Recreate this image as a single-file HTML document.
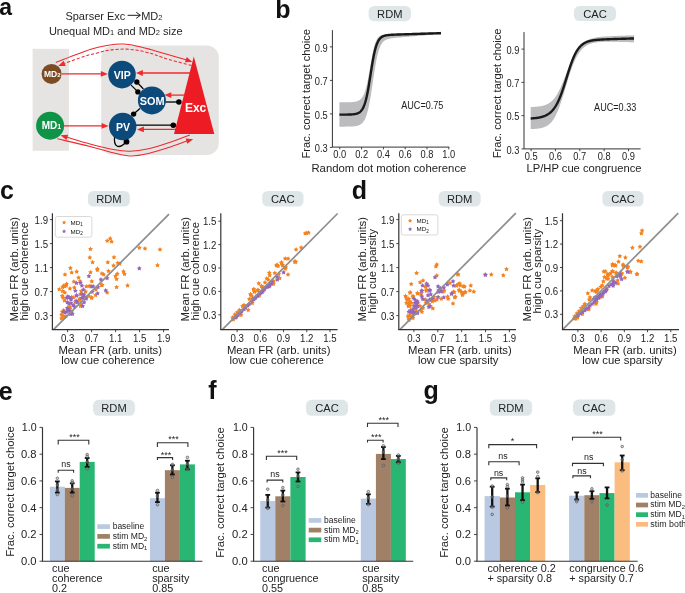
<!DOCTYPE html>
<html><head><meta charset="utf-8"><style>
html,body{margin:0;padding:0;background:#fff;}
svg{display:block;will-change:transform;}
text{font-family:"Liberation Sans",sans-serif;}
</style></head><body>
<svg width="685" height="593" viewBox="0 0 685 593">
<rect width="685" height="593" fill="#fff"/>
<text x="-0.80" y="14.60" font-size="23" text-anchor="start" font-weight="bold" fill="#111" >a</text>
<text x="65.4" y="19.5" font-size="11" fill="#231f20">Sparser Exc</text>
<path d="M127.6,15.3 L140.2,15.3 M136.2,12.2 L140.4,15.3 L136.2,18.4" fill="none" stroke="#231f20" stroke-width="1"/>
<text x="141.2" y="19.5" font-size="11" fill="#231f20">MD<tspan font-size="7.5">2</tspan></text>
<text x="48.9" y="34.9" font-size="11" fill="#231f20">Unequal MD<tspan font-size="7.5">1</tspan> and MD<tspan font-size="7.5">2</tspan> size</text>
<rect x="32.6" y="48.8" width="36.3" height="102" fill="#e5e4e2"/>
<rect x="101.2" y="45.5" width="117.6" height="109.4" rx="12" fill="#e5e4e2"/>
<path d="M55.80,62.40 C61.50,60.23 81.23,52.27 90.00,49.40 C98.77,46.53 102.82,46.08 108.40,45.20 C113.98,44.32 118.63,43.93 123.50,44.10 C128.37,44.27 133.12,45.32 137.60,46.20 C142.08,47.08 145.07,47.93 150.40,49.40 C155.73,50.87 163.50,53.22 169.60,55.00 C175.70,56.78 184.10,59.25 187.00,60.10" fill="none" stroke="#ee2a2e" stroke-width="1.05"/>
<path d="M192.40,62.00 L184.87,62.32 L186.73,57.04 Z" fill="#ee2a2e"/>
<path d="M191.50,65.40 C187.85,64.45 175.43,61.38 169.60,59.70 C163.77,58.02 159.70,56.38 156.50,55.30 C153.30,54.22 153.55,54.03 150.40,53.20 C147.25,52.37 142.08,50.98 137.60,50.30 C133.12,49.62 128.37,49.10 123.50,49.10 C118.63,49.10 112.87,49.62 108.40,50.30 C103.93,50.98 100.60,52.23 96.70,53.20 C92.80,54.17 90.37,54.40 85.00,56.10 C79.63,57.80 67.92,62.18 64.50,63.40" fill="none" stroke="#ee2a2e" stroke-width="1.05" stroke-dasharray="3.2,1.8"/>
<path d="M58.20,65.90 L63.67,60.72 L65.74,65.92 Z" fill="#ee2a2e"/>
<path d="M189.80,134.90 C186.78,136.03 178.60,139.40 171.70,141.70 C164.80,144.00 155.35,147.12 148.40,148.70 C141.45,150.28 135.83,151.05 130.00,151.20 C124.17,151.35 120.07,150.80 113.40,149.60 C106.73,148.40 97.82,146.08 90.00,144.00 C82.18,141.92 70.42,138.25 66.50,137.10" fill="none" stroke="#ee2a2e" stroke-width="1.05"/>
<path d="M60.60,135.20 L68.12,134.68 L66.40,140.01 Z" fill="#ee2a2e"/>
<path d="M57.30,138.80 C62.75,140.07 80.65,144.07 90.00,146.40 C99.35,148.73 106.73,151.22 113.40,152.80 C120.07,154.38 124.17,155.80 130.00,155.90 C135.83,156.00 141.45,154.98 148.40,153.40 C155.35,151.82 165.18,148.50 171.70,146.40 C178.22,144.30 184.87,141.73 187.50,140.80" fill="none" stroke="#ee2a2e" stroke-width="1.05"/>
<path d="M193.20,139.20 L187.22,143.79 L185.70,138.40 Z" fill="#ee2a2e"/>
<line x1="62.00" y1="73.90" x2="101.00" y2="73.90" stroke="#ee2a2e" stroke-width="1.3" />
<path d="M107.80,73.90 L100.80,76.80 L100.80,71.00 Z" fill="#ee2a2e"/>
<line x1="64.00" y1="125.90" x2="102.00" y2="125.90" stroke="#ee2a2e" stroke-width="1.3" />
<path d="M108.60,125.90 L101.60,128.80 L101.60,123.00 Z" fill="#ee2a2e"/>
<line x1="190.00" y1="73.00" x2="141.00" y2="73.00" stroke="#ee2a2e" stroke-width="1.3" />
<path d="M135.90,73.00 L142.90,70.10 L142.90,75.90 Z" fill="#ee2a2e"/>
<line x1="184.00" y1="95.10" x2="169.00" y2="95.10" stroke="#ee2a2e" stroke-width="1.3" />
<path d="M164.30,95.10 L171.30,92.20 L171.30,98.00 Z" fill="#ee2a2e"/>
<line x1="176.00" y1="129.40" x2="142.00" y2="129.40" stroke="#ee2a2e" stroke-width="1.3" />
<path d="M136.90,129.40 L143.90,126.50 L143.90,132.30 Z" fill="#ee2a2e"/>
<path d="M193.8,56.6 L214.3,133.9 L174,133.9 Z" fill="#ed1c24"/>
<line x1="131.10" y1="85.10" x2="137.90" y2="91.90" stroke="#000" stroke-width="1.2" />
<line x1="136.80" y1="82.00" x2="143.40" y2="89.00" stroke="#000" stroke-width="1.2" />
<circle cx="136.8" cy="82" r="2.7" fill="#000"/><circle cx="137.9" cy="91.9" r="2.7" fill="#000"/>
<line x1="165.00" y1="102.00" x2="178.90" y2="102.00" stroke="#000" stroke-width="1.3" />
<circle cx="178.9" cy="102" r="2.8" fill="#000"/>
<line x1="140.00" y1="108.50" x2="133.60" y2="114.10" stroke="#000" stroke-width="1.3" />
<circle cx="133.6" cy="114.1" r="2.7" fill="#000"/>
<line x1="136.00" y1="125.20" x2="173.30" y2="125.20" stroke="#000" stroke-width="1.3" />
<circle cx="173.3" cy="125.2" r="2.8" fill="#000"/>
<path d="M114.6,137 C113.5,146 118,150.5 126.5,141.7" fill="none" stroke="#000" stroke-width="1.3"/>
<circle cx="126.5" cy="141.7" r="2.9" fill="#000"/>
<circle cx="122" cy="74.6" r="13.8" fill="#0d4a7c"/>
<text x="122.20" y="78.98" font-size="10.5" text-anchor="middle" font-weight="bold" fill="#fff" >VIP</text>
<circle cx="151.9" cy="100.4" r="14" fill="#0d4a7c"/>
<text x="152.10" y="104.92" font-size="10.9" text-anchor="middle" font-weight="bold" fill="#fff" >SOM</text>
<circle cx="122.7" cy="126.5" r="13.7" fill="#0d4a7c"/>
<text x="122.90" y="130.88" font-size="10.5" text-anchor="middle" font-weight="bold" fill="#fff" >PV</text>
<text x="195.60" y="112.00" font-size="12" text-anchor="middle" font-weight="bold" fill="#fff" >Exc</text>
<circle cx="51.6" cy="73.9" r="10" fill="#7b4b23"/>
<text x="44" y="76.9" font-size="8.5" font-weight="bold" fill="#fff">MD<tspan font-size="6">2</tspan></text>
<circle cx="50.1" cy="125.7" r="14" fill="#0f9347"/>
<text x="41.7" y="129.3" font-size="10" font-weight="bold" fill="#fff">MD<tspan font-size="7">1</tspan></text>
<text x="275.20" y="17.80" font-size="25" text-anchor="start" font-weight="bold" fill="#111" >b</text>
<rect x="368.60" y="6.00" width="42.40" height="15.20" rx="5.5" fill="#dfe6e8"/>
<text x="389.80" y="18.00" font-size="11.6" text-anchor="middle" fill="#222" textLength="25.4" lengthAdjust="spacingAndGlyphs">RDM</text>
<path d="M339.40,102.31 L339.74,102.31 L340.08,102.31 L340.42,102.31 L340.75,102.31 L341.09,102.31 L341.43,102.31 L341.77,102.31 L342.11,102.31 L342.45,102.31 L342.79,102.30 L343.13,102.30 L343.46,102.30 L343.80,102.30 L344.14,102.30 L344.48,102.29 L344.82,102.29 L345.16,102.29 L345.50,102.29 L345.83,102.28 L346.17,102.28 L346.51,102.27 L346.85,102.27 L347.19,102.26 L347.53,102.26 L347.87,102.25 L348.21,102.24 L348.54,102.24 L348.88,102.23 L349.22,102.22 L349.56,102.21 L349.90,102.19 L350.24,102.18 L350.58,102.16 L350.91,102.15 L351.25,102.13 L351.59,102.11 L351.93,102.09 L352.27,102.06 L352.61,102.03 L352.95,102.00 L353.29,101.97 L353.62,101.93 L353.96,101.89 L354.30,101.84 L354.64,101.79 L354.98,101.74 L355.32,101.68 L355.66,101.61 L355.99,101.53 L356.33,101.45 L356.67,101.35 L357.01,101.25 L357.35,101.13 L357.69,101.01 L358.03,100.87 L358.37,100.71 L358.70,100.54 L359.04,100.35 L359.38,100.15 L359.72,99.92 L360.06,99.66 L360.40,99.38 L360.74,99.07 L361.07,98.73 L361.41,98.36 L361.75,97.95 L362.09,97.49 L362.43,97.00 L362.77,96.45 L363.11,95.85 L363.45,95.20 L363.78,94.48 L364.12,93.70 L364.46,92.86 L364.80,91.93 L365.14,90.94 L365.48,89.86 L365.82,88.70 L366.15,87.45 L366.49,86.11 L366.83,84.69 L367.17,83.18 L367.51,81.58 L367.85,79.90 L368.19,78.15 L368.53,76.33 L368.86,74.44 L369.20,72.51 L369.54,70.53 L369.88,68.53 L370.22,66.52 L370.56,64.50 L370.90,62.51 L371.23,60.55 L371.57,58.63 L371.91,56.77 L372.25,54.97 L372.59,53.26 L372.93,51.63 L373.27,50.08 L373.61,48.64 L373.94,47.29 L374.28,46.03 L374.62,44.87 L374.96,43.81 L375.30,42.83 L375.64,41.94 L375.98,41.12 L376.31,40.39 L376.65,39.72 L376.99,39.12 L377.33,38.58 L377.67,38.10 L378.01,37.66 L378.35,37.27 L378.69,36.93 L379.02,36.61 L379.36,36.34 L379.70,36.09 L380.04,35.86 L380.38,35.67 L380.72,35.49 L381.06,35.33 L381.39,35.19 L381.73,35.06 L382.07,34.95 L382.41,34.85 L382.75,34.76 L383.09,34.67 L383.43,34.60 L383.77,34.53 L384.10,34.47 L384.44,34.42 L384.78,34.37 L385.12,34.32 L385.46,34.28 L385.80,34.24 L386.14,34.21 L386.47,34.17 L386.81,34.14 L387.15,34.11 L387.49,34.09 L387.83,34.06 L388.17,34.04 L388.51,34.01 L388.85,33.99 L389.18,33.97 L389.52,33.95 L389.86,33.93 L390.20,33.92 L390.54,33.90 L390.88,33.88 L391.22,33.86 L391.55,33.85 L391.89,33.83 L392.23,33.82 L392.57,33.80 L392.91,33.78 L393.25,33.77 L393.59,33.75 L393.93,33.74 L394.26,33.72 L394.60,33.71 L394.94,33.70 L395.28,33.68 L395.62,33.67 L395.96,33.65 L396.30,33.64 L396.63,33.63 L396.97,33.61 L397.31,33.60 L397.65,33.58 L397.99,33.57 L398.33,33.56 L398.67,33.54 L399.01,33.53 L399.34,33.51 L399.68,33.50 L400.02,33.49 L400.36,33.47 L400.70,33.46 L401.04,33.45 L401.38,33.43 L401.71,33.42 L402.05,33.40 L402.39,33.39 L402.73,33.38 L403.07,33.36 L403.41,33.35 L403.75,33.34 L404.09,33.32 L404.42,33.31 L404.76,33.30 L405.10,33.28 L405.44,33.27 L405.78,33.25 L406.12,33.24 L406.46,33.23 L406.79,33.21 L407.13,33.20 L407.47,33.19 L407.81,33.17 L408.15,33.16 L408.49,33.15 L408.83,33.13 L409.17,33.12 L409.50,33.10 L409.84,33.09 L410.18,33.08 L410.52,33.06 L410.86,33.05 L411.20,33.04 L411.54,33.02 L411.87,33.01 L412.21,33.00 L412.55,32.98 L412.89,32.97 L413.23,32.95 L413.57,32.94 L413.91,32.93 L414.25,32.91 L414.58,32.90 L414.92,32.89 L415.26,32.87 L415.60,32.86 L415.94,32.85 L416.28,32.83 L416.62,32.82 L416.95,32.81 L417.29,32.79 L417.63,32.78 L417.97,32.76 L418.31,32.75 L418.65,32.74 L418.99,32.72 L419.33,32.71 L419.66,32.70 L420.00,32.68 L420.34,32.67 L420.68,32.66 L421.02,32.64 L421.36,32.63 L421.70,32.61 L422.03,32.60 L422.37,32.59 L422.71,32.57 L423.05,32.56 L423.39,32.55 L423.73,32.53 L424.07,32.52 L424.41,32.51 L424.74,32.49 L425.08,32.48 L425.42,32.46 L425.76,32.45 L426.10,32.44 L426.44,32.42 L426.78,32.41 L427.11,32.40 L427.45,32.38 L427.79,32.37 L428.13,32.36 L428.47,32.34 L428.81,32.33 L429.15,32.31 L429.49,32.30 L429.82,32.29 L430.16,32.27 L430.50,32.26 L430.84,32.25 L431.18,32.23 L431.52,32.22 L431.86,32.21 L432.19,32.19 L432.53,32.18 L432.87,32.17 L433.21,32.15 L433.55,32.14 L433.89,32.12 L434.23,32.11 L434.57,32.10 L434.90,32.08 L435.24,32.07 L435.58,32.06 L435.92,32.04 L436.26,32.03 L436.60,32.02 L436.94,32.00 L437.27,31.99 L437.61,31.97 L437.95,31.96 L438.29,31.95 L438.63,31.93 L438.97,31.92 L439.31,31.91 L439.65,31.89 L439.98,31.88 L440.32,31.87 L440.66,31.85 L441.00,31.84 L441.00,34.04 L440.66,34.06 L440.32,34.09 L439.98,34.12 L439.65,34.15 L439.31,34.18 L438.97,34.20 L438.63,34.23 L438.29,34.26 L437.95,34.29 L437.61,34.31 L437.27,34.34 L436.94,34.37 L436.60,34.40 L436.26,34.43 L435.92,34.45 L435.58,34.48 L435.24,34.51 L434.90,34.54 L434.57,34.56 L434.23,34.59 L433.89,34.62 L433.55,34.65 L433.21,34.68 L432.87,34.70 L432.53,34.73 L432.19,34.76 L431.86,34.79 L431.52,34.81 L431.18,34.84 L430.84,34.87 L430.50,34.90 L430.16,34.93 L429.82,34.95 L429.49,34.98 L429.15,35.01 L428.81,35.04 L428.47,35.06 L428.13,35.09 L427.79,35.12 L427.45,35.15 L427.11,35.18 L426.78,35.20 L426.44,35.23 L426.10,35.26 L425.76,35.29 L425.42,35.31 L425.08,35.34 L424.74,35.37 L424.41,35.40 L424.07,35.43 L423.73,35.45 L423.39,35.48 L423.05,35.51 L422.71,35.54 L422.37,35.56 L422.03,35.59 L421.70,35.62 L421.36,35.65 L421.02,35.68 L420.68,35.70 L420.34,35.73 L420.00,35.76 L419.66,35.79 L419.33,35.81 L418.99,35.84 L418.65,35.87 L418.31,35.90 L417.97,35.93 L417.63,35.95 L417.29,35.98 L416.95,36.01 L416.62,36.04 L416.28,36.06 L415.94,36.09 L415.60,36.12 L415.26,36.15 L414.92,36.18 L414.58,36.20 L414.25,36.23 L413.91,36.26 L413.57,36.29 L413.23,36.31 L412.89,36.34 L412.55,36.37 L412.21,36.40 L411.87,36.43 L411.54,36.45 L411.20,36.48 L410.86,36.51 L410.52,36.54 L410.18,36.56 L409.84,36.59 L409.50,36.62 L409.17,36.65 L408.83,36.68 L408.49,36.70 L408.15,36.73 L407.81,36.76 L407.47,36.79 L407.13,36.82 L406.79,36.84 L406.46,36.87 L406.12,36.90 L405.78,36.93 L405.44,36.96 L405.10,36.98 L404.76,37.01 L404.42,37.04 L404.09,37.07 L403.75,37.10 L403.41,37.12 L403.07,37.15 L402.73,37.18 L402.39,37.21 L402.05,37.24 L401.71,37.27 L401.38,37.30 L401.04,37.32 L400.70,37.35 L400.36,37.38 L400.02,37.41 L399.68,37.44 L399.34,37.47 L399.01,37.50 L398.67,37.53 L398.33,37.56 L397.99,37.59 L397.65,37.62 L397.31,37.65 L396.97,37.69 L396.63,37.72 L396.30,37.75 L395.96,37.78 L395.62,37.82 L395.28,37.85 L394.94,37.89 L394.60,37.92 L394.26,37.96 L393.93,38.00 L393.59,38.04 L393.25,38.08 L392.91,38.12 L392.57,38.17 L392.23,38.21 L391.89,38.26 L391.55,38.31 L391.22,38.36 L390.88,38.42 L390.54,38.48 L390.20,38.54 L389.86,38.60 L389.52,38.67 L389.18,38.75 L388.85,38.83 L388.51,38.92 L388.17,39.01 L387.83,39.11 L387.49,39.22 L387.15,39.34 L386.81,39.46 L386.47,39.60 L386.14,39.75 L385.80,39.92 L385.46,40.10 L385.12,40.29 L384.78,40.51 L384.44,40.74 L384.10,41.00 L383.77,41.28 L383.43,41.59 L383.09,41.93 L382.75,42.31 L382.41,42.72 L382.07,43.16 L381.73,43.65 L381.39,44.19 L381.06,44.78 L380.72,45.42 L380.38,46.12 L380.04,46.89 L379.70,47.72 L379.36,48.63 L379.02,49.61 L378.69,50.67 L378.35,51.81 L378.01,53.04 L377.67,54.37 L377.33,55.78 L376.99,57.29 L376.65,58.90 L376.31,60.59 L375.98,62.38 L375.64,64.25 L375.30,66.21 L374.96,68.25 L374.62,70.35 L374.28,72.52 L373.94,74.73 L373.61,76.99 L373.27,79.27 L372.93,81.57 L372.59,83.87 L372.25,86.16 L371.91,88.43 L371.57,90.66 L371.23,92.84 L370.90,94.97 L370.56,97.04 L370.22,99.03 L369.88,100.95 L369.54,102.78 L369.20,104.52 L368.86,106.17 L368.53,107.73 L368.19,109.21 L367.85,110.59 L367.51,111.88 L367.17,113.08 L366.83,114.21 L366.49,115.25 L366.15,116.21 L365.82,117.10 L365.48,117.93 L365.14,118.69 L364.80,119.38 L364.46,120.02 L364.12,120.61 L363.78,121.15 L363.45,121.64 L363.11,122.09 L362.77,122.51 L362.43,122.88 L362.09,123.22 L361.75,123.54 L361.41,123.82 L361.07,124.08 L360.74,124.32 L360.40,124.53 L360.06,124.73 L359.72,124.91 L359.38,125.07 L359.04,125.21 L358.70,125.35 L358.37,125.47 L358.03,125.58 L357.69,125.68 L357.35,125.77 L357.01,125.85 L356.67,125.92 L356.33,125.99 L355.99,126.05 L355.66,126.11 L355.32,126.16 L354.98,126.21 L354.64,126.25 L354.30,126.28 L353.96,126.32 L353.62,126.35 L353.29,126.38 L352.95,126.40 L352.61,126.43 L352.27,126.45 L351.93,126.47 L351.59,126.48 L351.25,126.50 L350.91,126.51 L350.58,126.53 L350.24,126.54 L349.90,126.55 L349.56,126.56 L349.22,126.57 L348.88,126.57 L348.54,126.58 L348.21,126.59 L347.87,126.59 L347.53,126.60 L347.19,126.60 L346.85,126.61 L346.51,126.61 L346.17,126.62 L345.83,126.62 L345.50,126.62 L345.16,126.62 L344.82,126.63 L344.48,126.63 L344.14,126.63 L343.80,126.63 L343.46,126.63 L343.13,126.64 L342.79,126.64 L342.45,126.64 L342.11,126.64 L341.77,126.64 L341.43,126.64 L341.09,126.64 L340.75,126.64 L340.42,126.64 L340.08,126.64 L339.74,126.64 L339.40,126.65 Z" fill="#bcbcbf"/>
<path d="M339.40,114.62 L339.74,114.62 L340.08,114.62 L340.42,114.62 L340.75,114.62 L341.09,114.62 L341.43,114.62 L341.77,114.62 L342.11,114.61 L342.45,114.61 L342.79,114.61 L343.13,114.61 L343.46,114.61 L343.80,114.61 L344.14,114.61 L344.48,114.60 L344.82,114.60 L345.16,114.60 L345.50,114.60 L345.83,114.59 L346.17,114.59 L346.51,114.58 L346.85,114.58 L347.19,114.58 L347.53,114.57 L347.87,114.56 L348.21,114.56 L348.54,114.55 L348.88,114.54 L349.22,114.53 L349.56,114.52 L349.90,114.51 L350.24,114.50 L350.58,114.48 L350.91,114.47 L351.25,114.45 L351.59,114.43 L351.93,114.41 L352.27,114.38 L352.61,114.36 L352.95,114.33 L353.29,114.29 L353.62,114.26 L353.96,114.22 L354.30,114.17 L354.64,114.12 L354.98,114.06 L355.32,114.00 L355.66,113.93 L355.99,113.85 L356.33,113.77 L356.67,113.67 L357.01,113.57 L357.35,113.45 L357.69,113.32 L358.03,113.17 L358.37,113.01 L358.70,112.83 L359.04,112.63 L359.38,112.41 L359.72,112.17 L360.06,111.90 L360.40,111.61 L360.74,111.28 L361.07,110.92 L361.41,110.52 L361.75,110.08 L362.09,109.60 L362.43,109.06 L362.77,108.48 L363.11,107.84 L363.45,107.14 L363.78,106.38 L364.12,105.55 L364.46,104.64 L364.80,103.66 L365.14,102.60 L365.48,101.45 L365.82,100.22 L366.15,98.90 L366.49,97.49 L366.83,95.99 L367.17,94.39 L367.51,92.71 L367.85,90.95 L368.19,89.10 L368.53,87.18 L368.86,85.19 L369.20,83.15 L369.54,81.05 L369.88,78.92 L370.22,76.76 L370.56,74.59 L370.90,72.42 L371.23,70.27 L371.57,68.14 L371.91,66.04 L372.25,64.00 L372.59,62.02 L372.93,60.10 L373.27,58.26 L373.61,56.50 L373.94,54.83 L374.28,53.24 L374.62,51.75 L374.96,50.35 L375.30,49.03 L375.64,47.81 L375.98,46.68 L376.31,45.63 L376.65,44.66 L376.99,43.77 L377.33,42.95 L377.67,42.20 L378.01,41.51 L378.35,40.88 L378.69,40.31 L379.02,39.79 L379.36,39.31 L379.70,38.88 L380.04,38.49 L380.38,38.14 L380.72,37.82 L381.06,37.53 L381.39,37.26 L381.73,37.02 L382.07,36.81 L382.41,36.61 L382.75,36.44 L383.09,36.28 L383.43,36.13 L383.77,36.00 L384.10,35.88 L384.44,35.78 L384.78,35.68 L385.12,35.59 L385.46,35.51 L385.80,35.43 L386.14,35.37 L386.47,35.31 L386.81,35.25 L387.15,35.20 L387.49,35.15 L387.83,35.11 L388.17,35.07 L388.51,35.03 L388.85,35.00 L389.18,34.97 L389.52,34.94 L389.86,34.91 L390.20,34.88 L390.54,34.86 L390.88,34.84 L391.22,34.82 L391.55,34.80 L391.89,34.78 L392.23,34.76 L392.57,34.74 L392.91,34.72 L393.25,34.71 L393.59,34.69 L393.93,34.68 L394.26,34.66 L394.60,34.65 L394.94,34.63 L395.28,34.62 L395.62,34.61 L395.96,34.60 L396.30,34.58 L396.63,34.57 L396.97,34.56 L397.31,34.55 L397.65,34.53 L397.99,34.52 L398.33,34.51 L398.67,34.50 L399.01,34.49 L399.34,34.48 L399.68,34.47 L400.02,34.45 L400.36,34.44 L400.70,34.43 L401.04,34.42 L401.38,34.41 L401.71,34.40 L402.05,34.39 L402.39,34.38 L402.73,34.37 L403.07,34.36 L403.41,34.35 L403.75,34.34 L404.09,34.33 L404.42,34.31 L404.76,34.30 L405.10,34.29 L405.44,34.28 L405.78,34.27 L406.12,34.26 L406.46,34.25 L406.79,34.24 L407.13,34.23 L407.47,34.22 L407.81,34.21 L408.15,34.20 L408.49,34.19 L408.83,34.18 L409.17,34.17 L409.50,34.16 L409.84,34.15 L410.18,34.14 L410.52,34.13 L410.86,34.11 L411.20,34.10 L411.54,34.09 L411.87,34.08 L412.21,34.07 L412.55,34.06 L412.89,34.05 L413.23,34.04 L413.57,34.03 L413.91,34.02 L414.25,34.01 L414.58,34.00 L414.92,33.99 L415.26,33.98 L415.60,33.97 L415.94,33.96 L416.28,33.95 L416.62,33.94 L416.95,33.93 L417.29,33.92 L417.63,33.91 L417.97,33.89 L418.31,33.88 L418.65,33.87 L418.99,33.86 L419.33,33.85 L419.66,33.84 L420.00,33.83 L420.34,33.82 L420.68,33.81 L421.02,33.80 L421.36,33.79 L421.70,33.78 L422.03,33.77 L422.37,33.76 L422.71,33.75 L423.05,33.74 L423.39,33.73 L423.73,33.72 L424.07,33.71 L424.41,33.70 L424.74,33.69 L425.08,33.68 L425.42,33.66 L425.76,33.65 L426.10,33.64 L426.44,33.63 L426.78,33.62 L427.11,33.61 L427.45,33.60 L427.79,33.59 L428.13,33.58 L428.47,33.57 L428.81,33.56 L429.15,33.55 L429.49,33.54 L429.82,33.53 L430.16,33.52 L430.50,33.51 L430.84,33.50 L431.18,33.49 L431.52,33.48 L431.86,33.47 L432.19,33.46 L432.53,33.44 L432.87,33.43 L433.21,33.42 L433.55,33.41 L433.89,33.40 L434.23,33.39 L434.57,33.38 L434.90,33.37 L435.24,33.36 L435.58,33.35 L435.92,33.34 L436.26,33.33 L436.60,33.32 L436.94,33.31 L437.27,33.30 L437.61,33.29 L437.95,33.28 L438.29,33.27 L438.63,33.26 L438.97,33.25 L439.31,33.24 L439.65,33.23 L439.98,33.21 L440.32,33.20 L440.66,33.19 L441.00,33.18" fill="none" stroke="#1a1a1a" stroke-width="2.4"/>
<line x1="332.40" y1="30.10" x2="332.40" y2="147.10" stroke="#333" stroke-width="1" />
<line x1="329.90" y1="46.90" x2="332.40" y2="46.90" stroke="#333" stroke-width="0.9" />
<text x="327.70" y="51.50" font-size="10.0" text-anchor="end" fill="#222" textLength="12.9" lengthAdjust="spacingAndGlyphs">0.9</text>
<line x1="329.90" y1="80.40" x2="332.40" y2="80.40" stroke="#333" stroke-width="0.9" />
<text x="327.70" y="85.00" font-size="10.0" text-anchor="end" fill="#222" textLength="12.9" lengthAdjust="spacingAndGlyphs">0.7</text>
<line x1="329.90" y1="113.90" x2="332.40" y2="113.90" stroke="#333" stroke-width="0.9" />
<text x="327.70" y="118.50" font-size="10.0" text-anchor="end" fill="#222" textLength="12.9" lengthAdjust="spacingAndGlyphs">0.5</text>
<line x1="329.90" y1="147.40" x2="332.40" y2="147.40" stroke="#333" stroke-width="0.9" />
<text x="327.70" y="152.00" font-size="10.0" text-anchor="end" fill="#222" textLength="12.9" lengthAdjust="spacingAndGlyphs">0.3</text>
<line x1="332.30" y1="147.10" x2="449.30" y2="147.10" stroke="#333" stroke-width="1" />
<line x1="339.80" y1="147.10" x2="339.80" y2="149.40" stroke="#333" stroke-width="0.9" />
<text x="339.80" y="158.20" font-size="10.0" text-anchor="middle" fill="#222" textLength="12.9" lengthAdjust="spacingAndGlyphs">0.0</text>
<line x1="361.60" y1="147.10" x2="361.60" y2="149.40" stroke="#333" stroke-width="0.9" />
<text x="361.60" y="158.20" font-size="10.0" text-anchor="middle" fill="#222" textLength="12.9" lengthAdjust="spacingAndGlyphs">0.2</text>
<line x1="383.40" y1="147.10" x2="383.40" y2="149.40" stroke="#333" stroke-width="0.9" />
<text x="383.40" y="158.20" font-size="10.0" text-anchor="middle" fill="#222" textLength="12.9" lengthAdjust="spacingAndGlyphs">0.4</text>
<line x1="405.20" y1="147.10" x2="405.20" y2="149.40" stroke="#333" stroke-width="0.9" />
<text x="405.20" y="158.20" font-size="10.0" text-anchor="middle" fill="#222" textLength="12.9" lengthAdjust="spacingAndGlyphs">0.6</text>
<line x1="427.00" y1="147.10" x2="427.00" y2="149.40" stroke="#333" stroke-width="0.9" />
<text x="427.00" y="158.20" font-size="10.0" text-anchor="middle" fill="#222" textLength="12.9" lengthAdjust="spacingAndGlyphs">0.8</text>
<line x1="448.80" y1="147.10" x2="448.80" y2="149.40" stroke="#333" stroke-width="0.9" />
<text x="448.80" y="158.20" font-size="10.0" text-anchor="middle" fill="#222" textLength="12.9" lengthAdjust="spacingAndGlyphs">1.0</text>
<text x="422.30" y="108.70" font-size="10.6" text-anchor="middle" fill="#222" textLength="42.2" lengthAdjust="spacingAndGlyphs">AUC=0.75</text>
<text x="0" y="0" font-size="11.2" text-anchor="middle" fill="#222" transform="translate(309.50,93.80) rotate(-90)" textLength="129.5" lengthAdjust="spacingAndGlyphs">Frac. correct target choice</text>
<text x="388.90" y="172.00" font-size="11.1" text-anchor="middle" fill="#222" textLength="155" lengthAdjust="spacingAndGlyphs">Random dot motion coherence</text>
<rect x="574.00" y="6.00" width="42.00" height="15.00" rx="5.5" fill="#dfe6e8"/>
<text x="595.00" y="17.90" font-size="11.6" text-anchor="middle" fill="#222" textLength="23.6" lengthAdjust="spacingAndGlyphs">CAC</text>
<path d="M530.70,107.02 L531.04,107.01 L531.39,107.00 L531.73,106.98 L532.08,106.97 L532.42,106.95 L532.77,106.94 L533.11,106.92 L533.45,106.90 L533.80,106.88 L534.14,106.86 L534.49,106.84 L534.83,106.82 L535.18,106.80 L535.52,106.77 L535.87,106.75 L536.21,106.72 L536.55,106.69 L536.90,106.66 L537.24,106.62 L537.59,106.59 L537.93,106.55 L538.28,106.51 L538.62,106.47 L538.96,106.42 L539.31,106.38 L539.65,106.33 L540.00,106.27 L540.34,106.22 L540.69,106.16 L541.03,106.10 L541.37,106.03 L541.72,105.96 L542.06,105.89 L542.41,105.81 L542.75,105.73 L543.10,105.64 L543.44,105.55 L543.78,105.46 L544.13,105.35 L544.47,105.25 L544.82,105.13 L545.16,105.01 L545.51,104.89 L545.85,104.76 L546.20,104.62 L546.54,104.47 L546.88,104.31 L547.23,104.15 L547.57,103.98 L547.92,103.80 L548.26,103.61 L548.61,103.41 L548.95,103.20 L549.29,102.98 L549.64,102.75 L549.98,102.51 L550.33,102.25 L550.67,101.99 L551.02,101.71 L551.36,101.42 L551.70,101.11 L552.05,100.79 L552.39,100.46 L552.74,100.11 L553.08,99.74 L553.43,99.37 L553.77,98.97 L554.11,98.56 L554.46,98.13 L554.80,97.68 L555.15,97.22 L555.49,96.74 L555.84,96.24 L556.18,95.73 L556.53,95.19 L556.87,94.64 L557.21,94.07 L557.56,93.48 L557.90,92.87 L558.25,92.24 L558.59,91.60 L558.94,90.94 L559.28,90.26 L559.62,89.56 L559.97,88.84 L560.31,88.11 L560.66,87.36 L561.00,86.59 L561.35,85.81 L561.69,85.02 L562.03,84.21 L562.38,83.39 L562.72,82.56 L563.07,81.71 L563.41,80.86 L563.76,79.99 L564.10,79.12 L564.44,78.24 L564.79,77.35 L565.13,76.46 L565.48,75.56 L565.82,74.66 L566.17,73.76 L566.51,72.86 L566.86,71.96 L567.20,71.06 L567.54,70.16 L567.89,69.27 L568.23,68.38 L568.58,67.50 L568.92,66.63 L569.27,65.76 L569.61,64.91 L569.95,64.06 L570.30,63.22 L570.64,62.40 L570.99,61.59 L571.33,60.79 L571.68,60.00 L572.02,59.23 L572.36,58.48 L572.71,57.73 L573.05,57.01 L573.40,56.30 L573.74,55.61 L574.09,54.93 L574.43,54.27 L574.77,53.62 L575.12,53.00 L575.46,52.39 L575.81,51.79 L576.15,51.22 L576.50,50.66 L576.84,50.11 L577.19,49.59 L577.53,49.08 L577.87,48.58 L578.22,48.11 L578.56,47.64 L578.91,47.20 L579.25,46.77 L579.60,46.35 L579.94,45.95 L580.28,45.56 L580.63,45.18 L580.97,44.82 L581.32,44.47 L581.66,44.14 L582.01,43.82 L582.35,43.51 L582.69,43.21 L583.04,42.92 L583.38,42.64 L583.73,42.38 L584.07,42.12 L584.42,41.88 L584.76,41.64 L585.10,41.42 L585.45,41.20 L585.79,40.99 L586.14,40.79 L586.48,40.60 L586.83,40.41 L587.17,40.24 L587.51,40.07 L587.86,39.90 L588.20,39.75 L588.55,39.60 L588.89,39.45 L589.24,39.32 L589.58,39.18 L589.93,39.06 L590.27,38.93 L590.61,38.82 L590.96,38.71 L591.30,38.60 L591.65,38.49 L591.99,38.40 L592.34,38.30 L592.68,38.21 L593.02,38.12 L593.37,38.04 L593.71,37.96 L594.06,37.88 L594.40,37.81 L594.75,37.73 L595.09,37.67 L595.43,37.60 L595.78,37.54 L596.12,37.48 L596.47,37.42 L596.81,37.36 L597.16,37.31 L597.50,37.25 L597.85,37.20 L598.19,37.16 L598.53,37.11 L598.88,37.06 L599.22,37.02 L599.57,36.98 L599.91,36.94 L600.26,36.90 L600.60,36.86 L600.94,36.83 L601.29,36.79 L601.63,36.76 L601.98,36.73 L602.32,36.69 L602.67,36.66 L603.01,36.63 L603.35,36.61 L603.70,36.58 L604.04,36.55 L604.39,36.52 L604.73,36.50 L605.08,36.47 L605.42,36.45 L605.76,36.43 L606.11,36.40 L606.45,36.38 L606.80,36.36 L607.14,36.34 L607.49,36.32 L607.83,36.30 L608.17,36.28 L608.52,36.26 L608.86,36.24 L609.21,36.22 L609.55,36.21 L609.90,36.19 L610.24,36.17 L610.59,36.15 L610.93,36.14 L611.27,36.12 L611.62,36.11 L611.96,36.09 L612.31,36.08 L612.65,36.06 L613.00,36.05 L613.34,36.03 L613.68,36.02 L614.03,36.00 L614.37,35.99 L614.72,35.97 L615.06,35.96 L615.41,35.95 L615.75,35.93 L616.09,35.92 L616.44,35.91 L616.78,35.90 L617.13,35.88 L617.47,35.87 L617.82,35.86 L618.16,35.85 L618.50,35.83 L618.85,35.82 L619.19,35.81 L619.54,35.80 L619.88,35.79 L620.23,35.77 L620.57,35.76 L620.92,35.75 L621.26,35.74 L621.60,35.73 L621.95,35.72 L622.29,35.71 L622.64,35.70 L622.98,35.68 L623.33,35.67 L623.67,35.66 L624.01,35.65 L624.36,35.64 L624.70,35.63 L625.05,35.62 L625.39,35.61 L625.74,35.60 L626.08,35.59 L626.42,35.58 L626.77,35.57 L627.11,35.55 L627.46,35.54 L627.80,35.53 L628.15,35.52 L628.49,35.51 L628.84,35.50 L629.18,35.49 L629.52,35.48 L629.87,35.47 L630.21,35.46 L630.56,35.45 L630.90,35.44 L631.25,35.43 L631.59,35.42 L631.93,35.41 L632.28,35.40 L632.62,35.39 L632.97,35.38 L633.31,35.37 L633.66,35.36 L634.00,35.35 L634.00,42.27 L633.66,42.26 L633.31,42.25 L632.97,42.24 L632.62,42.23 L632.28,42.22 L631.93,42.21 L631.59,42.20 L631.25,42.19 L630.90,42.18 L630.56,42.17 L630.21,42.16 L629.87,42.15 L629.52,42.14 L629.18,42.13 L628.84,42.12 L628.49,42.11 L628.15,42.10 L627.80,42.09 L627.46,42.09 L627.11,42.08 L626.77,42.07 L626.42,42.06 L626.08,42.05 L625.74,42.04 L625.39,42.03 L625.05,42.02 L624.70,42.01 L624.36,42.00 L624.01,41.99 L623.67,41.98 L623.33,41.98 L622.98,41.97 L622.64,41.96 L622.29,41.95 L621.95,41.94 L621.60,41.93 L621.26,41.92 L620.92,41.92 L620.57,41.91 L620.23,41.90 L619.88,41.89 L619.54,41.88 L619.19,41.88 L618.85,41.87 L618.50,41.86 L618.16,41.85 L617.82,41.85 L617.47,41.84 L617.13,41.83 L616.78,41.83 L616.44,41.82 L616.09,41.81 L615.75,41.81 L615.41,41.80 L615.06,41.80 L614.72,41.79 L614.37,41.79 L614.03,41.78 L613.68,41.78 L613.34,41.77 L613.00,41.77 L612.65,41.76 L612.31,41.76 L611.96,41.76 L611.62,41.75 L611.27,41.75 L610.93,41.75 L610.59,41.75 L610.24,41.74 L609.90,41.74 L609.55,41.74 L609.21,41.74 L608.86,41.74 L608.52,41.74 L608.17,41.74 L607.83,41.75 L607.49,41.75 L607.14,41.75 L606.80,41.76 L606.45,41.76 L606.11,41.76 L605.76,41.77 L605.42,41.78 L605.08,41.78 L604.73,41.79 L604.39,41.80 L604.04,41.81 L603.70,41.82 L603.35,41.84 L603.01,41.85 L602.67,41.86 L602.32,41.88 L601.98,41.90 L601.63,41.91 L601.29,41.93 L600.94,41.95 L600.60,41.98 L600.26,42.00 L599.91,42.03 L599.57,42.05 L599.22,42.08 L598.88,42.11 L598.53,42.15 L598.19,42.18 L597.85,42.22 L597.50,42.26 L597.16,42.30 L596.81,42.34 L596.47,42.39 L596.12,42.44 L595.78,42.49 L595.43,42.55 L595.09,42.61 L594.75,42.67 L594.40,42.73 L594.06,42.80 L593.71,42.87 L593.37,42.95 L593.02,43.03 L592.68,43.11 L592.34,43.20 L591.99,43.30 L591.65,43.39 L591.30,43.50 L590.96,43.61 L590.61,43.72 L590.27,43.84 L589.93,43.97 L589.58,44.10 L589.24,44.24 L588.89,44.38 L588.55,44.53 L588.20,44.69 L587.86,44.86 L587.51,45.04 L587.17,45.22 L586.83,45.41 L586.48,45.61 L586.14,45.82 L585.79,46.04 L585.45,46.28 L585.10,46.52 L584.76,46.77 L584.42,47.03 L584.07,47.30 L583.73,47.59 L583.38,47.89 L583.04,48.20 L582.69,48.53 L582.35,48.87 L582.01,49.22 L581.66,49.59 L581.32,49.97 L580.97,50.37 L580.63,50.78 L580.28,51.22 L579.94,51.66 L579.60,52.13 L579.25,52.61 L578.91,53.12 L578.56,53.64 L578.22,54.18 L577.87,54.74 L577.53,55.32 L577.19,55.91 L576.84,56.53 L576.50,57.18 L576.15,57.84 L575.81,58.52 L575.46,59.22 L575.12,59.95 L574.77,60.70 L574.43,61.47 L574.09,62.26 L573.74,63.07 L573.40,63.91 L573.05,64.77 L572.71,65.65 L572.36,66.54 L572.02,67.46 L571.68,68.41 L571.33,69.37 L570.99,70.34 L570.64,71.34 L570.30,72.36 L569.95,73.39 L569.61,74.44 L569.27,75.51 L568.92,76.59 L568.58,77.68 L568.23,78.78 L567.89,79.90 L567.54,81.02 L567.20,82.15 L566.86,83.29 L566.51,84.44 L566.17,85.59 L565.82,86.74 L565.48,87.90 L565.13,89.05 L564.79,90.20 L564.44,91.35 L564.10,92.49 L563.76,93.63 L563.41,94.76 L563.07,95.87 L562.72,96.98 L562.38,98.08 L562.03,99.16 L561.69,100.23 L561.35,101.28 L561.00,102.31 L560.66,103.33 L560.31,104.32 L559.97,105.30 L559.62,106.26 L559.28,107.19 L558.94,108.10 L558.59,108.99 L558.25,109.85 L557.90,110.69 L557.56,111.51 L557.21,112.30 L556.87,113.07 L556.53,113.81 L556.18,114.53 L555.84,115.23 L555.49,115.89 L555.15,116.54 L554.80,117.16 L554.46,117.76 L554.11,118.33 L553.77,118.88 L553.43,119.41 L553.08,119.92 L552.74,120.40 L552.39,120.86 L552.05,121.31 L551.70,121.73 L551.36,122.13 L551.02,122.52 L550.67,122.88 L550.33,123.23 L549.98,123.57 L549.64,123.88 L549.29,124.18 L548.95,124.47 L548.61,124.74 L548.26,124.99 L547.92,125.24 L547.57,125.47 L547.23,125.69 L546.88,125.89 L546.54,126.09 L546.20,126.27 L545.85,126.45 L545.51,126.61 L545.16,126.77 L544.82,126.92 L544.47,127.05 L544.13,127.19 L543.78,127.31 L543.44,127.43 L543.10,127.54 L542.75,127.64 L542.41,127.74 L542.06,127.83 L541.72,127.91 L541.37,128.00 L541.03,128.07 L540.69,128.14 L540.34,128.21 L540.00,128.28 L539.65,128.34 L539.31,128.39 L538.96,128.44 L538.62,128.49 L538.28,128.54 L537.93,128.58 L537.59,128.63 L537.24,128.66 L536.90,128.70 L536.55,128.73 L536.21,128.77 L535.87,128.80 L535.52,128.82 L535.18,128.85 L534.83,128.88 L534.49,128.90 L534.14,128.92 L533.80,128.94 L533.45,128.96 L533.11,128.98 L532.77,128.99 L532.42,129.01 L532.08,129.03 L531.73,129.04 L531.39,129.05 L531.04,129.06 L530.70,129.08 Z" fill="#bcbcbf"/>
<path d="M530.70,118.47 L531.04,118.45 L531.39,118.43 L531.73,118.40 L532.08,118.38 L532.42,118.36 L532.77,118.33 L533.11,118.30 L533.45,118.27 L533.80,118.24 L534.14,118.21 L534.49,118.18 L534.83,118.14 L535.18,118.11 L535.52,118.07 L535.87,118.03 L536.21,117.99 L536.55,117.94 L536.90,117.90 L537.24,117.85 L537.59,117.80 L537.93,117.74 L538.28,117.69 L538.62,117.63 L538.96,117.56 L539.31,117.50 L539.65,117.43 L540.00,117.36 L540.34,117.28 L540.69,117.21 L541.03,117.12 L541.37,117.04 L541.72,116.95 L542.06,116.85 L542.41,116.75 L542.75,116.65 L543.10,116.54 L543.44,116.42 L543.78,116.30 L544.13,116.17 L544.47,116.04 L544.82,115.90 L545.16,115.75 L545.51,115.60 L545.85,115.44 L546.20,115.27 L546.54,115.10 L546.88,114.91 L547.23,114.72 L547.57,114.52 L547.92,114.31 L548.26,114.09 L548.61,113.85 L548.95,113.61 L549.29,113.36 L549.64,113.09 L549.98,112.82 L550.33,112.53 L550.67,112.23 L551.02,111.91 L551.36,111.58 L551.70,111.23 L552.05,110.87 L552.39,110.50 L552.74,110.11 L553.08,109.70 L553.43,109.28 L553.77,108.83 L554.11,108.37 L554.46,107.89 L554.80,107.39 L555.15,106.87 L555.49,106.33 L555.84,105.77 L556.18,105.19 L556.53,104.59 L556.87,103.97 L557.21,103.32 L557.56,102.65 L557.90,101.96 L558.25,101.24 L558.59,100.50 L558.94,99.74 L559.28,98.96 L559.62,98.15 L559.97,97.32 L560.31,96.47 L560.66,95.59 L561.00,94.69 L561.35,93.77 L561.69,92.83 L562.03,91.87 L562.38,90.89 L562.72,89.89 L563.07,88.87 L563.41,87.84 L563.76,86.79 L564.10,85.73 L564.44,84.66 L564.79,83.57 L565.13,82.48 L565.48,81.38 L565.82,80.27 L566.17,79.16 L566.51,78.04 L566.86,76.93 L567.20,75.81 L567.54,74.70 L567.89,73.60 L568.23,72.50 L568.58,71.41 L568.92,70.32 L569.27,69.26 L569.61,68.20 L569.95,67.16 L570.30,66.13 L570.64,65.13 L570.99,64.14 L571.33,63.17 L571.68,62.23 L572.02,61.30 L572.36,60.40 L572.71,59.52 L573.05,58.67 L573.40,57.84 L573.74,57.04 L574.09,56.26 L574.43,55.50 L574.77,54.77 L575.12,54.07 L575.46,53.39 L575.81,52.74 L576.15,52.11 L576.50,51.51 L576.84,50.93 L577.19,50.37 L577.53,49.84 L577.87,49.33 L578.22,48.84 L578.56,48.38 L578.91,47.93 L579.25,47.50 L579.60,47.10 L579.94,46.71 L580.28,46.34 L580.63,45.99 L580.97,45.65 L581.32,45.33 L581.66,45.03 L582.01,44.74 L582.35,44.47 L582.69,44.21 L583.04,43.96 L583.38,43.72 L583.73,43.50 L584.07,43.29 L584.42,43.09 L584.76,42.90 L585.10,42.72 L585.45,42.54 L585.79,42.38 L586.14,42.23 L586.48,42.08 L586.83,41.94 L587.17,41.81 L587.51,41.68 L587.86,41.57 L588.20,41.45 L588.55,41.35 L588.89,41.25 L589.24,41.15 L589.58,41.06 L589.93,40.97 L590.27,40.89 L590.61,40.81 L590.96,40.74 L591.30,40.67 L591.65,40.60 L591.99,40.54 L592.34,40.48 L592.68,40.42 L593.02,40.36 L593.37,40.31 L593.71,40.26 L594.06,40.21 L594.40,40.17 L594.75,40.12 L595.09,40.08 L595.43,40.04 L595.78,40.00 L596.12,39.97 L596.47,39.93 L596.81,39.90 L597.16,39.87 L597.50,39.84 L597.85,39.81 L598.19,39.78 L598.53,39.75 L598.88,39.73 L599.22,39.70 L599.57,39.68 L599.91,39.65 L600.26,39.63 L600.60,39.61 L600.94,39.59 L601.29,39.57 L601.63,39.55 L601.98,39.53 L602.32,39.51 L602.67,39.49 L603.01,39.47 L603.35,39.45 L603.70,39.44 L604.04,39.42 L604.39,39.40 L604.73,39.39 L605.08,39.37 L605.42,39.36 L605.76,39.34 L606.11,39.33 L606.45,39.31 L606.80,39.30 L607.14,39.29 L607.49,39.27 L607.83,39.26 L608.17,39.25 L608.52,39.23 L608.86,39.22 L609.21,39.21 L609.55,39.19 L609.90,39.18 L610.24,39.17 L610.59,39.16 L610.93,39.15 L611.27,39.13 L611.62,39.12 L611.96,39.11 L612.31,39.10 L612.65,39.09 L613.00,39.08 L613.34,39.06 L613.68,39.05 L614.03,39.04 L614.37,39.03 L614.72,39.02 L615.06,39.01 L615.41,39.00 L615.75,38.99 L616.09,38.98 L616.44,38.96 L616.78,38.95 L617.13,38.94 L617.47,38.93 L617.82,38.92 L618.16,38.91 L618.50,38.90 L618.85,38.89 L619.19,38.88 L619.54,38.87 L619.88,38.86 L620.23,38.85 L620.57,38.84 L620.92,38.83 L621.26,38.82 L621.60,38.81 L621.95,38.80 L622.29,38.79 L622.64,38.78 L622.98,38.76 L623.33,38.75 L623.67,38.74 L624.01,38.73 L624.36,38.72 L624.70,38.71 L625.05,38.70 L625.39,38.69 L625.74,38.68 L626.08,38.67 L626.42,38.66 L626.77,38.65 L627.11,38.64 L627.46,38.63 L627.80,38.62 L628.15,38.61 L628.49,38.60 L628.84,38.59 L629.18,38.58 L629.52,38.57 L629.87,38.56 L630.21,38.55 L630.56,38.54 L630.90,38.53 L631.25,38.52 L631.59,38.51 L631.93,38.50 L632.28,38.49 L632.62,38.48 L632.97,38.47 L633.31,38.46 L633.66,38.45 L634.00,38.44" fill="none" stroke="#1a1a1a" stroke-width="2.4"/>
<line x1="524.00" y1="32.10" x2="524.00" y2="148.90" stroke="#333" stroke-width="1" />
<line x1="521.50" y1="49.12" x2="524.00" y2="49.12" stroke="#333" stroke-width="0.9" />
<text x="519.30" y="53.72" font-size="10.0" text-anchor="end" fill="#222" textLength="12.9" lengthAdjust="spacingAndGlyphs">0.9</text>
<line x1="521.50" y1="82.38" x2="524.00" y2="82.38" stroke="#333" stroke-width="0.9" />
<text x="519.30" y="86.98" font-size="10.0" text-anchor="end" fill="#222" textLength="12.9" lengthAdjust="spacingAndGlyphs">0.7</text>
<line x1="521.50" y1="115.64" x2="524.00" y2="115.64" stroke="#333" stroke-width="0.9" />
<text x="519.30" y="120.24" font-size="10.0" text-anchor="end" fill="#222" textLength="12.9" lengthAdjust="spacingAndGlyphs">0.5</text>
<line x1="521.50" y1="148.90" x2="524.00" y2="148.90" stroke="#333" stroke-width="0.9" />
<text x="519.30" y="153.50" font-size="10.0" text-anchor="end" fill="#222" textLength="12.9" lengthAdjust="spacingAndGlyphs">0.3</text>
<line x1="524.00" y1="148.90" x2="640.60" y2="148.90" stroke="#333" stroke-width="1" />
<line x1="531.10" y1="148.90" x2="531.10" y2="151.20" stroke="#333" stroke-width="0.9" />
<text x="531.10" y="160.00" font-size="10.0" text-anchor="middle" fill="#222" textLength="12.9" lengthAdjust="spacingAndGlyphs">0.5</text>
<line x1="555.45" y1="148.90" x2="555.45" y2="151.20" stroke="#333" stroke-width="0.9" />
<text x="555.45" y="160.00" font-size="10.0" text-anchor="middle" fill="#222" textLength="12.9" lengthAdjust="spacingAndGlyphs">0.6</text>
<line x1="579.80" y1="148.90" x2="579.80" y2="151.20" stroke="#333" stroke-width="0.9" />
<text x="579.80" y="160.00" font-size="10.0" text-anchor="middle" fill="#222" textLength="12.9" lengthAdjust="spacingAndGlyphs">0.7</text>
<line x1="604.15" y1="148.90" x2="604.15" y2="151.20" stroke="#333" stroke-width="0.9" />
<text x="604.15" y="160.00" font-size="10.0" text-anchor="middle" fill="#222" textLength="12.9" lengthAdjust="spacingAndGlyphs">0.8</text>
<line x1="628.50" y1="148.90" x2="628.50" y2="151.20" stroke="#333" stroke-width="0.9" />
<text x="628.50" y="160.00" font-size="10.0" text-anchor="middle" fill="#222" textLength="12.9" lengthAdjust="spacingAndGlyphs">0.9</text>
<text x="615.20" y="111.00" font-size="10.6" text-anchor="middle" fill="#222" textLength="42.2" lengthAdjust="spacingAndGlyphs">AUC=0.33</text>
<text x="0" y="0" font-size="11.2" text-anchor="middle" fill="#222" transform="translate(500.60,93.40) rotate(-90)" textLength="129.8" lengthAdjust="spacingAndGlyphs">Frac. correct target choice</text>
<text x="584.00" y="172.00" font-size="11.1" text-anchor="middle" fill="#222" textLength="115" lengthAdjust="spacingAndGlyphs">LP/HP cue congruence</text>
<text x="0.00" y="198.60" font-size="25" text-anchor="start" font-weight="bold" fill="#111" >c</text>
<text x="351.80" y="198.70" font-size="25" text-anchor="start" font-weight="bold" fill="#111" >d</text>
<polygon points="107.20,238.30 108.01,239.69 109.58,240.03 108.51,241.22 108.67,242.82 107.20,242.18 105.73,242.82 105.89,241.22 104.82,240.03 106.39,239.69" fill="#f5821f"/>
<polygon points="110.20,236.10 111.01,237.49 112.58,237.83 111.51,239.02 111.67,240.62 110.20,239.97 108.73,240.62 108.89,239.02 107.82,237.83 109.39,237.49" fill="#f5821f"/>
<polygon points="111.60,239.20 112.41,240.59 113.98,240.93 112.91,242.12 113.07,243.72 111.60,243.07 110.13,243.72 110.29,242.12 109.22,240.93 110.79,240.59" fill="#f5821f"/>
<polygon points="90.50,246.50 91.31,247.89 92.88,248.23 91.81,249.42 91.97,251.02 90.50,250.38 89.03,251.02 89.19,249.42 88.12,248.23 89.69,247.89" fill="#f5821f"/>
<polygon points="89.80,255.00 90.61,256.39 92.18,256.73 91.11,257.92 91.27,259.52 89.80,258.88 88.33,259.52 88.49,257.92 87.42,256.73 88.99,256.39" fill="#f5821f"/>
<polygon points="92.60,259.80 93.41,261.19 94.98,261.53 93.91,262.72 94.07,264.32 92.60,263.68 91.13,264.32 91.29,262.72 90.22,261.53 91.79,261.19" fill="#f5821f"/>
<polygon points="107.80,259.80 108.61,261.19 110.18,261.53 109.11,262.72 109.27,264.32 107.80,263.68 106.33,264.32 106.49,262.72 105.42,261.53 106.99,261.19" fill="#f5821f"/>
<polygon points="70.40,265.50 71.21,266.89 72.78,267.23 71.71,268.42 71.87,270.02 70.40,269.38 68.93,270.02 69.09,268.42 68.02,267.23 69.59,266.89" fill="#f5821f"/>
<polygon points="97.40,266.30 98.21,267.69 99.78,268.03 98.71,269.22 98.87,270.82 97.40,270.18 95.93,270.82 96.09,269.22 95.02,268.03 96.59,267.69" fill="#f5821f"/>
<polygon points="71.70,270.10 72.51,271.49 74.08,271.83 73.01,273.02 73.17,274.62 71.70,273.98 70.23,274.62 70.39,273.02 69.32,271.83 70.89,271.49" fill="#f5821f"/>
<polygon points="76.70,269.20 77.51,270.59 79.08,270.93 78.01,272.12 78.17,273.72 76.70,273.07 75.23,273.72 75.39,272.12 74.32,270.93 75.89,270.59" fill="#f5821f"/>
<polygon points="90.50,269.80 91.31,271.19 92.88,271.53 91.81,272.72 91.97,274.32 90.50,273.68 89.03,274.32 89.19,272.72 88.12,271.53 89.69,271.19" fill="#f5821f"/>
<polygon points="108.50,268.50 109.31,269.89 110.88,270.23 109.81,271.42 109.97,273.02 108.50,272.38 107.03,273.02 107.19,271.42 106.12,270.23 107.69,269.89" fill="#f5821f"/>
<polygon points="65.00,272.00 65.81,273.39 67.38,273.73 66.31,274.92 66.47,276.52 65.00,275.88 63.53,276.52 63.69,274.92 62.62,273.73 64.19,273.39" fill="#f5821f"/>
<polygon points="101.90,271.00 102.71,272.39 104.28,272.73 103.21,273.92 103.37,275.52 101.90,274.88 100.43,275.52 100.59,273.92 99.52,272.73 101.09,272.39" fill="#f5821f"/>
<polygon points="103.70,272.00 104.51,273.39 106.08,273.73 105.01,274.92 105.17,276.52 103.70,275.88 102.23,276.52 102.39,274.92 101.32,273.73 102.89,273.39" fill="#f5821f"/>
<polygon points="139.40,245.30 140.21,246.69 141.78,247.03 140.71,248.22 140.87,249.82 139.40,249.18 137.93,249.82 138.09,248.22 137.02,247.03 138.59,246.69" fill="#f5821f"/>
<polygon points="145.00,246.10 145.81,247.49 147.38,247.83 146.31,249.02 146.47,250.62 145.00,249.97 143.53,250.62 143.69,249.02 142.62,247.83 144.19,247.49" fill="#f5821f"/>
<polygon points="160.00,247.00 160.81,248.39 162.38,248.73 161.31,249.92 161.47,251.52 160.00,250.88 158.53,251.52 158.69,249.92 157.62,248.73 159.19,248.39" fill="#f5821f"/>
<polygon points="114.00,254.80 114.81,256.19 116.38,256.53 115.31,257.72 115.47,259.32 114.00,258.68 112.53,259.32 112.69,257.72 111.62,256.53 113.19,256.19" fill="#f5821f"/>
<polygon points="117.80,260.50 118.61,261.89 120.18,262.23 119.11,263.42 119.27,265.02 117.80,264.38 116.33,265.02 116.49,263.42 115.42,262.23 116.99,261.89" fill="#f5821f"/>
<polygon points="119.70,261.20 120.51,262.59 122.08,262.93 121.01,264.12 121.17,265.72 119.70,265.07 118.23,265.72 118.39,264.12 117.32,262.93 118.89,262.59" fill="#f5821f"/>
<polygon points="113.50,263.10 114.31,264.49 115.88,264.83 114.81,266.02 114.97,267.62 113.50,266.98 112.03,267.62 112.19,266.02 111.12,264.83 112.69,264.49" fill="#f5821f"/>
<polygon points="157.50,262.80 158.31,264.19 159.88,264.53 158.81,265.72 158.97,267.32 157.50,266.68 156.03,267.32 156.19,265.72 155.12,264.53 156.69,264.19" fill="#f5821f"/>
<polygon points="123.50,269.10 124.31,270.49 125.88,270.83 124.81,272.02 124.97,273.62 123.50,272.98 122.03,273.62 122.19,272.02 121.12,270.83 122.69,270.49" fill="#f5821f"/>
<polygon points="117.30,271.30 118.11,272.69 119.68,273.03 118.61,274.22 118.77,275.82 117.30,275.18 115.83,275.82 115.99,274.22 114.92,273.03 116.49,272.69" fill="#f5821f"/>
<polygon points="124.50,271.60 125.31,272.99 126.88,273.33 125.81,274.52 125.97,276.12 124.50,275.48 123.03,276.12 123.19,274.52 122.12,273.33 123.69,272.99" fill="#f5821f"/>
<polygon points="97.30,267.50 98.11,268.89 99.68,269.23 98.61,270.42 98.77,272.02 97.30,271.38 95.83,272.02 95.99,270.42 94.92,269.23 96.49,268.89" fill="#f5821f"/>
<polygon points="78.60,275.20 79.41,276.59 80.98,276.93 79.91,278.12 80.07,279.72 78.60,279.07 77.13,279.72 77.29,278.12 76.22,276.93 77.79,276.59" fill="#f5821f"/>
<polygon points="73.90,279.20 74.71,280.59 76.28,280.93 75.21,282.12 75.37,283.72 73.90,283.07 72.43,283.72 72.59,282.12 71.52,280.93 73.09,280.59" fill="#f5821f"/>
<polygon points="80.10,278.80 80.91,280.19 82.48,280.53 81.41,281.72 81.57,283.32 80.10,282.68 78.63,283.32 78.79,281.72 77.72,280.53 79.29,280.19" fill="#f5821f"/>
<polygon points="91.80,278.80 92.61,280.19 94.18,280.53 93.11,281.72 93.27,283.32 91.80,282.68 90.33,283.32 90.49,281.72 89.42,280.53 90.99,280.19" fill="#f5821f"/>
<polygon points="66.60,281.40 67.41,282.79 68.98,283.13 67.91,284.32 68.07,285.92 66.60,285.27 65.13,285.92 65.29,284.32 64.22,283.13 65.79,282.79" fill="#f5821f"/>
<polygon points="63.70,283.20 64.51,284.59 66.08,284.93 65.01,286.12 65.17,287.72 63.70,287.07 62.23,287.72 62.39,286.12 61.32,284.93 62.89,284.59" fill="#f5821f"/>
<polygon points="64.80,283.90 65.61,285.29 67.18,285.63 66.11,286.82 66.27,288.42 64.80,287.77 63.33,288.42 63.49,286.82 62.42,285.63 63.99,285.29" fill="#f5821f"/>
<polygon points="62.60,284.70 63.41,286.09 64.98,286.43 63.91,287.62 64.07,289.22 62.60,288.57 61.13,289.22 61.29,287.62 60.22,286.43 61.79,286.09" fill="#f5821f"/>
<polygon points="66.20,283.20 67.01,284.59 68.58,284.93 67.51,286.12 67.67,287.72 66.20,287.07 64.73,287.72 64.89,286.12 63.82,284.93 65.39,284.59" fill="#f5821f"/>
<polygon points="59.30,286.80 60.11,288.19 61.68,288.53 60.61,289.72 60.77,291.32 59.30,290.68 57.83,291.32 57.99,289.72 56.92,288.53 58.49,288.19" fill="#f5821f"/>
<polygon points="69.90,286.10 70.71,287.49 72.28,287.83 71.21,289.02 71.37,290.62 69.90,289.98 68.43,290.62 68.59,289.02 67.52,287.83 69.09,287.49" fill="#f5821f"/>
<polygon points="74.30,285.00 75.11,286.39 76.68,286.73 75.61,287.92 75.77,289.52 74.30,288.88 72.83,289.52 72.99,287.92 71.92,286.73 73.49,286.39" fill="#f5821f"/>
<polygon points="86.30,283.90 87.11,285.29 88.68,285.63 87.61,286.82 87.77,288.42 86.30,287.77 84.83,288.42 84.99,286.82 83.92,285.63 85.49,285.29" fill="#f5821f"/>
<polygon points="89.20,283.60 90.01,284.99 91.58,285.33 90.51,286.52 90.67,288.12 89.20,287.48 87.73,288.12 87.89,286.52 86.82,285.33 88.39,284.99" fill="#f5821f"/>
<polygon points="90.70,283.90 91.51,285.29 93.08,285.63 92.01,286.82 92.17,288.42 90.70,287.77 89.23,288.42 89.39,286.82 88.32,285.63 89.89,285.29" fill="#f5821f"/>
<polygon points="101.60,282.80 102.41,284.19 103.98,284.53 102.91,285.72 103.07,287.32 101.60,286.68 100.13,287.32 100.29,285.72 99.22,284.53 100.79,284.19" fill="#f5821f"/>
<polygon points="62.60,288.70 63.41,290.09 64.98,290.43 63.91,291.62 64.07,293.22 62.60,292.57 61.13,293.22 61.29,291.62 60.22,290.43 61.79,290.09" fill="#f5821f"/>
<polygon points="64.80,290.10 65.61,291.49 67.18,291.83 66.11,293.02 66.27,294.62 64.80,293.98 63.33,294.62 63.49,293.02 62.42,291.83 63.99,291.49" fill="#f5821f"/>
<polygon points="81.20,288.70 82.01,290.09 83.58,290.43 82.51,291.62 82.67,293.22 81.20,292.57 79.73,293.22 79.89,291.62 78.82,290.43 80.39,290.09" fill="#f5821f"/>
<polygon points="85.60,289.00 86.41,290.39 87.98,290.73 86.91,291.92 87.07,293.52 85.60,292.88 84.13,293.52 84.29,291.92 83.22,290.73 84.79,290.39" fill="#f5821f"/>
<polygon points="80.50,291.60 81.31,292.99 82.88,293.33 81.81,294.52 81.97,296.12 80.50,295.48 79.03,296.12 79.19,294.52 78.12,293.33 79.69,292.99" fill="#f5821f"/>
<polygon points="95.80,287.20 96.61,288.59 98.18,288.93 97.11,290.12 97.27,291.72 95.80,291.07 94.33,291.72 94.49,290.12 93.42,288.93 94.99,288.59" fill="#f5821f"/>
<polygon points="95.60,292.70 96.41,294.09 97.98,294.43 96.91,295.62 97.07,297.22 95.60,296.57 94.13,297.22 94.29,295.62 93.22,294.43 94.79,294.09" fill="#f5821f"/>
<polygon points="62.20,293.40 63.01,294.79 64.58,295.13 63.51,296.32 63.67,297.92 62.20,297.27 60.73,297.92 60.89,296.32 59.82,295.13 61.39,294.79" fill="#f5821f"/>
<polygon points="63.00,295.20 63.81,296.59 65.38,296.93 64.31,298.12 64.47,299.72 63.00,299.07 61.53,299.72 61.69,298.12 60.62,296.93 62.19,296.59" fill="#f5821f"/>
<polygon points="71.70,294.50 72.51,295.89 74.08,296.23 73.01,297.42 73.17,299.02 71.70,298.38 70.23,299.02 70.39,297.42 69.32,296.23 70.89,295.89" fill="#f5821f"/>
<polygon points="73.50,294.90 74.31,296.29 75.88,296.63 74.81,297.82 74.97,299.42 73.50,298.77 72.03,299.42 72.19,297.82 71.12,296.63 72.69,296.29" fill="#f5821f"/>
<polygon points="91.40,294.90 92.21,296.29 93.78,296.63 92.71,297.82 92.87,299.42 91.40,298.77 89.93,299.42 90.09,297.82 89.02,296.63 90.59,296.29" fill="#f5821f"/>
<polygon points="79.70,296.30 80.51,297.69 82.08,298.03 81.01,299.22 81.17,300.82 79.70,300.18 78.23,300.82 78.39,299.22 77.32,298.03 78.89,297.69" fill="#f5821f"/>
<polygon points="64.40,298.00 65.21,299.39 66.78,299.73 65.71,300.92 65.87,302.52 64.40,301.88 62.93,302.52 63.09,300.92 62.02,299.73 63.59,299.39" fill="#f5821f"/>
<polygon points="79.70,297.60 80.51,298.99 82.08,299.33 81.01,300.52 81.17,302.12 79.70,301.48 78.23,302.12 78.39,300.52 77.32,299.33 78.89,298.99" fill="#f5821f"/>
<polygon points="75.40,299.80 76.21,301.19 77.78,301.53 76.71,302.72 76.87,304.32 75.40,303.68 73.93,304.32 74.09,302.72 73.02,301.53 74.59,301.19" fill="#f5821f"/>
<polygon points="69.90,304.20 70.71,305.59 72.28,305.93 71.21,307.12 71.37,308.72 69.90,308.07 68.43,308.72 68.59,307.12 67.52,305.93 69.09,305.59" fill="#f5821f"/>
<polygon points="70.20,306.00 71.01,307.39 72.58,307.73 71.51,308.92 71.67,310.52 70.20,309.88 68.73,310.52 68.89,308.92 67.82,307.73 69.39,307.39" fill="#f5821f"/>
<polygon points="63.70,307.80 64.51,309.19 66.08,309.53 65.01,310.72 65.17,312.32 63.70,311.68 62.23,312.32 62.39,310.72 61.32,309.53 62.89,309.19" fill="#f5821f"/>
<polygon points="62.20,309.30 63.01,310.69 64.58,311.03 63.51,312.22 63.67,313.82 62.20,313.18 60.73,313.82 60.89,312.22 59.82,311.03 61.39,310.69" fill="#f5821f"/>
<polygon points="61.50,312.20 62.31,313.59 63.88,313.93 62.81,315.12 62.97,316.72 61.50,316.07 60.03,316.72 60.19,315.12 59.12,313.93 60.69,313.59" fill="#f5821f"/>
<polygon points="63.00,313.70 63.81,315.09 65.38,315.43 64.31,316.62 64.47,318.22 63.00,317.57 61.53,318.22 61.69,316.62 60.62,315.43 62.19,315.09" fill="#f5821f"/>
<polygon points="61.50,315.90 62.31,317.29 63.88,317.63 62.81,318.82 62.97,320.42 61.50,319.77 60.03,320.42 60.19,318.82 59.12,317.63 60.69,317.29" fill="#f5821f"/>
<polygon points="64.40,314.40 65.21,315.79 66.78,316.13 65.71,317.32 65.87,318.92 64.40,318.27 62.93,318.92 63.09,317.32 62.02,316.13 63.59,315.79" fill="#f5821f"/>
<polygon points="65.90,313.70 66.71,315.09 68.28,315.43 67.21,316.62 67.37,318.22 65.90,317.57 64.43,318.22 64.59,316.62 63.52,315.43 65.09,315.09" fill="#f5821f"/>
<polygon points="91.80,295.40 92.61,296.79 94.18,297.13 93.11,298.32 93.27,299.92 91.80,299.27 90.33,299.92 90.49,298.32 89.42,297.13 90.99,296.79" fill="#f5821f"/>
<polygon points="88.50,293.60 89.31,294.99 90.88,295.33 89.81,296.52 89.97,298.12 88.50,297.48 87.03,298.12 87.19,296.52 86.12,295.33 87.69,294.99" fill="#f5821f"/>
<polygon points="80.50,303.50 81.31,304.89 82.88,305.23 81.81,306.42 81.97,308.02 80.50,307.38 79.03,308.02 79.19,306.42 78.12,305.23 79.69,304.89" fill="#f5821f"/>
<polygon points="81.20,301.30 82.01,302.69 83.58,303.03 82.51,304.22 82.67,305.82 81.20,305.18 79.73,305.82 79.89,304.22 78.82,303.03 80.39,302.69" fill="#f5821f"/>
<polygon points="115.50,273.70 116.31,275.09 117.88,275.43 116.81,276.62 116.97,278.22 115.50,277.57 114.03,278.22 114.19,276.62 113.12,275.43 114.69,275.09" fill="#f5821f"/>
<polygon points="116.60,276.60 117.41,277.99 118.98,278.33 117.91,279.52 118.07,281.12 116.60,280.48 115.13,281.12 115.29,279.52 114.22,278.33 115.79,277.99" fill="#f5821f"/>
<polygon points="102.20,282.50 103.01,283.89 104.58,284.23 103.51,285.42 103.67,287.02 102.20,286.38 100.73,287.02 100.89,285.42 99.82,284.23 101.39,283.89" fill="#f5821f"/>
<polygon points="116.60,284.70 117.41,286.09 118.98,286.43 117.91,287.62 118.07,289.22 116.60,288.57 115.13,289.22 115.29,287.62 114.22,286.43 115.79,286.09" fill="#f5821f"/>
<polygon points="127.60,283.00 128.41,284.39 129.98,284.73 128.91,285.92 129.07,287.52 127.60,286.88 126.13,287.52 126.29,285.92 125.22,284.73 126.79,284.39" fill="#f5821f"/>
<polygon points="107.10,290.10 107.91,291.49 109.48,291.83 108.41,293.02 108.57,294.62 107.10,293.98 105.63,294.62 105.79,293.02 104.72,291.83 106.29,291.49" fill="#f5821f"/>
<polygon points="88.90,273.70 89.71,275.09 91.28,275.43 90.21,276.62 90.37,278.22 88.90,277.57 87.43,278.22 87.59,276.62 86.52,275.43 88.09,275.09" fill="#9467bd"/>
<polygon points="76.50,280.50 77.31,281.89 78.88,282.23 77.81,283.42 77.97,285.02 76.50,284.38 75.03,285.02 75.19,283.42 74.12,282.23 75.69,281.89" fill="#9467bd"/>
<polygon points="80.50,280.30 81.31,281.69 82.88,282.03 81.81,283.22 81.97,284.82 80.50,284.18 79.03,284.82 79.19,283.22 78.12,282.03 79.69,281.69" fill="#9467bd"/>
<polygon points="81.90,283.20 82.71,284.59 84.28,284.93 83.21,286.12 83.37,287.72 81.90,287.07 80.43,287.72 80.59,286.12 79.52,284.93 81.09,284.59" fill="#9467bd"/>
<polygon points="91.80,283.90 92.61,285.29 94.18,285.63 93.11,286.82 93.27,288.42 91.80,287.77 90.33,288.42 90.49,286.82 89.42,285.63 90.99,285.29" fill="#9467bd"/>
<polygon points="93.20,283.90 94.01,285.29 95.58,285.63 94.51,286.82 94.67,288.42 93.20,287.77 91.73,288.42 91.89,286.82 90.82,285.63 92.39,285.29" fill="#9467bd"/>
<polygon points="98.00,284.70 98.81,286.09 100.38,286.43 99.31,287.62 99.47,289.22 98.00,288.57 96.53,289.22 96.69,287.62 95.62,286.43 97.19,286.09" fill="#9467bd"/>
<polygon points="100.90,277.00 101.71,278.39 103.28,278.73 102.21,279.92 102.37,281.52 100.90,280.88 99.43,281.52 99.59,279.92 98.52,278.73 100.09,278.39" fill="#9467bd"/>
<polygon points="83.40,287.20 84.21,288.59 85.78,288.93 84.71,290.12 84.87,291.72 83.40,291.07 81.93,291.72 82.09,290.12 81.02,288.93 82.59,288.59" fill="#9467bd"/>
<polygon points="75.40,288.30 76.21,289.69 77.78,290.03 76.71,291.22 76.87,292.82 75.40,292.18 73.93,292.82 74.09,291.22 73.02,290.03 74.59,289.69" fill="#9467bd"/>
<polygon points="92.10,289.40 92.91,290.79 94.48,291.13 93.41,292.32 93.57,293.92 92.10,293.27 90.63,293.92 90.79,292.32 89.72,291.13 91.29,290.79" fill="#9467bd"/>
<polygon points="97.60,290.90 98.41,292.29 99.98,292.63 98.91,293.82 99.07,295.42 97.60,294.77 96.13,295.42 96.29,293.82 95.22,292.63 96.79,292.29" fill="#9467bd"/>
<polygon points="81.90,291.60 82.71,292.99 84.28,293.33 83.21,294.52 83.37,296.12 81.90,295.48 80.43,296.12 80.59,294.52 79.52,293.33 81.09,292.99" fill="#9467bd"/>
<polygon points="84.10,292.00 84.91,293.39 86.48,293.73 85.41,294.92 85.57,296.52 84.10,295.88 82.63,296.52 82.79,294.92 81.72,293.73 83.29,293.39" fill="#9467bd"/>
<polygon points="76.50,292.90 77.31,294.29 78.88,294.63 77.81,295.82 77.97,297.42 76.50,296.77 75.03,297.42 75.19,295.82 74.12,294.63 75.69,294.29" fill="#9467bd"/>
<polygon points="67.70,294.10 68.51,295.49 70.08,295.83 69.01,297.02 69.17,298.62 67.70,297.98 66.23,298.62 66.39,297.02 65.32,295.83 66.89,295.49" fill="#9467bd"/>
<polygon points="69.20,295.10 70.01,296.49 71.58,296.83 70.51,298.02 70.67,299.62 69.20,298.98 67.73,299.62 67.89,298.02 66.82,296.83 68.39,296.49" fill="#9467bd"/>
<polygon points="71.00,296.30 71.81,297.69 73.38,298.03 72.31,299.22 72.47,300.82 71.00,300.18 69.53,300.82 69.69,299.22 68.62,298.03 70.19,297.69" fill="#9467bd"/>
<polygon points="82.70,295.20 83.51,296.59 85.08,296.93 84.01,298.12 84.17,299.72 82.70,299.07 81.23,299.72 81.39,298.12 80.32,296.93 81.89,296.59" fill="#9467bd"/>
<polygon points="85.60,296.00 86.41,297.39 87.98,297.73 86.91,298.92 87.07,300.52 85.60,299.88 84.13,300.52 84.29,298.92 83.22,297.73 84.79,297.39" fill="#9467bd"/>
<polygon points="66.60,295.40 67.41,296.79 68.98,297.13 67.91,298.32 68.07,299.92 66.60,299.27 65.13,299.92 65.29,298.32 64.22,297.13 65.79,296.79" fill="#9467bd"/>
<polygon points="68.80,294.70 69.61,296.09 71.18,296.43 70.11,297.62 70.27,299.22 68.80,298.57 67.33,299.22 67.49,297.62 66.42,296.43 67.99,296.09" fill="#9467bd"/>
<polygon points="71.00,296.90 71.81,298.29 73.38,298.63 72.31,299.82 72.47,301.42 71.00,300.77 69.53,301.42 69.69,299.82 68.62,298.63 70.19,298.29" fill="#9467bd"/>
<polygon points="67.30,299.80 68.11,301.19 69.68,301.53 68.61,302.72 68.77,304.32 67.30,303.68 65.83,304.32 65.99,302.72 64.92,301.53 66.49,301.19" fill="#9467bd"/>
<polygon points="68.80,301.30 69.61,302.69 71.18,303.03 70.11,304.22 70.27,305.82 68.80,305.18 67.33,305.82 67.49,304.22 66.42,303.03 67.99,302.69" fill="#9467bd"/>
<polygon points="71.00,300.50 71.81,301.89 73.38,302.23 72.31,303.42 72.47,305.02 71.00,304.38 69.53,305.02 69.69,303.42 68.62,302.23 70.19,301.89" fill="#9467bd"/>
<polygon points="76.10,298.30 76.91,299.69 78.48,300.03 77.41,301.22 77.57,302.82 76.10,302.18 74.63,302.82 74.79,301.22 73.72,300.03 75.29,299.69" fill="#9467bd"/>
<polygon points="77.50,299.80 78.31,301.19 79.88,301.53 78.81,302.72 78.97,304.32 77.50,303.68 76.03,304.32 76.19,302.72 75.12,301.53 76.69,301.19" fill="#9467bd"/>
<polygon points="81.90,295.40 82.71,296.79 84.28,297.13 83.21,298.32 83.37,299.92 81.90,299.27 80.43,299.92 80.59,298.32 79.52,297.13 81.09,296.79" fill="#9467bd"/>
<polygon points="84.10,294.70 84.91,296.09 86.48,296.43 85.41,297.62 85.57,299.22 84.10,298.57 82.63,299.22 82.79,297.62 81.72,296.43 83.29,296.09" fill="#9467bd"/>
<polygon points="86.30,296.10 87.11,297.49 88.68,297.83 87.61,299.02 87.77,300.62 86.30,299.98 84.83,300.62 84.99,299.02 83.92,297.83 85.49,297.49" fill="#9467bd"/>
<polygon points="84.10,299.80 84.91,301.19 86.48,301.53 85.41,302.72 85.57,304.32 84.10,303.68 82.63,304.32 82.79,302.72 81.72,301.53 83.29,301.19" fill="#9467bd"/>
<polygon points="82.70,303.50 83.51,304.89 85.08,305.23 84.01,306.42 84.17,308.02 82.70,307.38 81.23,308.02 81.39,306.42 80.32,305.23 81.89,304.89" fill="#9467bd"/>
<polygon points="74.60,304.20 75.41,305.59 76.98,305.93 75.91,307.12 76.07,308.72 74.60,308.07 73.13,308.72 73.29,307.12 72.22,305.93 73.79,305.59" fill="#9467bd"/>
<polygon points="73.20,302.70 74.01,304.09 75.58,304.43 74.51,305.62 74.67,307.22 73.20,306.57 71.73,307.22 71.89,305.62 70.82,304.43 72.39,304.09" fill="#9467bd"/>
<polygon points="67.30,305.60 68.11,306.99 69.68,307.33 68.61,308.52 68.77,310.12 67.30,309.48 65.83,310.12 65.99,308.52 64.92,307.33 66.49,306.99" fill="#9467bd"/>
<polygon points="68.10,307.10 68.91,308.49 70.48,308.83 69.41,310.02 69.57,311.62 68.10,310.98 66.63,311.62 66.79,310.02 65.72,308.83 67.29,308.49" fill="#9467bd"/>
<polygon points="69.50,308.60 70.31,309.99 71.88,310.33 70.81,311.52 70.97,313.12 69.50,312.48 68.03,313.12 68.19,311.52 67.12,310.33 68.69,309.99" fill="#9467bd"/>
<polygon points="66.60,309.30 67.41,310.69 68.98,311.03 67.91,312.22 68.07,313.82 66.60,313.18 65.13,313.82 65.29,312.22 64.22,311.03 65.79,310.69" fill="#9467bd"/>
<polygon points="63.70,309.30 64.51,310.69 66.08,311.03 65.01,312.22 65.17,313.82 63.70,313.18 62.23,313.82 62.39,312.22 61.32,311.03 62.89,310.69" fill="#9467bd"/>
<polygon points="65.10,310.00 65.91,311.39 67.48,311.73 66.41,312.92 66.57,314.52 65.10,313.88 63.63,314.52 63.79,312.92 62.72,311.73 64.29,311.39" fill="#9467bd"/>
<polygon points="71.70,310.00 72.51,311.39 74.08,311.73 73.01,312.92 73.17,314.52 71.70,313.88 70.23,314.52 70.39,312.92 69.32,311.73 70.89,311.39" fill="#9467bd"/>
<polygon points="72.40,311.50 73.21,312.89 74.78,313.23 73.71,314.42 73.87,316.02 72.40,315.38 70.93,316.02 71.09,314.42 70.02,313.23 71.59,312.89" fill="#9467bd"/>
<polygon points="70.20,311.50 71.01,312.89 72.58,313.23 71.51,314.42 71.67,316.02 70.20,315.38 68.73,316.02 68.89,314.42 67.82,313.23 69.39,312.89" fill="#9467bd"/>
<polygon points="76.80,293.20 77.61,294.59 79.18,294.93 78.11,296.12 78.27,297.72 76.80,297.07 75.33,297.72 75.49,296.12 74.42,294.93 75.99,294.59" fill="#9467bd"/>
<polygon points="139.30,265.90 140.11,267.29 141.68,267.63 140.61,268.82 140.77,270.42 139.30,269.77 137.83,270.42 137.99,268.82 136.92,267.63 138.49,267.29" fill="#9467bd"/>
<polygon points="107.10,275.70 107.91,277.09 109.48,277.43 108.41,278.62 108.57,280.22 107.10,279.57 105.63,280.22 105.79,278.62 104.72,277.43 106.29,277.09" fill="#9467bd"/>
<polygon points="105.70,287.90 106.51,289.29 108.08,289.63 107.01,290.82 107.17,292.42 105.70,291.77 104.23,292.42 104.39,290.82 103.32,289.63 104.89,289.29" fill="#9467bd"/>
<line x1="53.50" y1="329.70" x2="169.00" y2="214.20" stroke="#8e8e8e" stroke-width="1.7"/>
<line x1="52.40" y1="213.20" x2="52.40" y2="329.70" stroke="#333" stroke-width="1.2" />
<line x1="51.80" y1="329.70" x2="169.00" y2="329.70" stroke="#333" stroke-width="1.2" />
<line x1="49.90" y1="219.60" x2="52.40" y2="219.60" stroke="#333" stroke-width="0.9" />
<text x="48.00" y="223.60" font-size="10.3" text-anchor="end" fill="#222" textLength="13.4" lengthAdjust="spacingAndGlyphs">1.9</text>
<line x1="49.90" y1="243.60" x2="52.40" y2="243.60" stroke="#333" stroke-width="0.9" />
<text x="48.00" y="247.60" font-size="10.3" text-anchor="end" fill="#222" textLength="13.4" lengthAdjust="spacingAndGlyphs">1.5</text>
<line x1="49.90" y1="267.60" x2="52.40" y2="267.60" stroke="#333" stroke-width="0.9" />
<text x="48.00" y="271.60" font-size="10.3" text-anchor="end" fill="#222" textLength="13.4" lengthAdjust="spacingAndGlyphs">1.1</text>
<line x1="49.90" y1="291.60" x2="52.40" y2="291.60" stroke="#333" stroke-width="0.9" />
<text x="48.00" y="295.60" font-size="10.3" text-anchor="end" fill="#222" textLength="13.4" lengthAdjust="spacingAndGlyphs">0.7</text>
<line x1="49.90" y1="315.60" x2="52.40" y2="315.60" stroke="#333" stroke-width="0.9" />
<text x="48.00" y="319.60" font-size="10.3" text-anchor="end" fill="#222" textLength="13.4" lengthAdjust="spacingAndGlyphs">0.3</text>
<line x1="163.60" y1="329.70" x2="163.60" y2="332.20" stroke="#333" stroke-width="0.9" />
<text x="163.60" y="342.30" font-size="10.3" text-anchor="middle" fill="#222" textLength="13.4" lengthAdjust="spacingAndGlyphs">1.9</text>
<line x1="139.60" y1="329.70" x2="139.60" y2="332.20" stroke="#333" stroke-width="0.9" />
<text x="139.60" y="342.30" font-size="10.3" text-anchor="middle" fill="#222" textLength="13.4" lengthAdjust="spacingAndGlyphs">1.5</text>
<line x1="115.60" y1="329.70" x2="115.60" y2="332.20" stroke="#333" stroke-width="0.9" />
<text x="115.60" y="342.30" font-size="10.3" text-anchor="middle" fill="#222" textLength="13.4" lengthAdjust="spacingAndGlyphs">1.1</text>
<line x1="91.60" y1="329.70" x2="91.60" y2="332.20" stroke="#333" stroke-width="0.9" />
<text x="91.60" y="342.30" font-size="10.3" text-anchor="middle" fill="#222" textLength="13.4" lengthAdjust="spacingAndGlyphs">0.7</text>
<line x1="67.60" y1="329.70" x2="67.60" y2="332.20" stroke="#333" stroke-width="0.9" />
<text x="67.60" y="342.30" font-size="10.3" text-anchor="middle" fill="#222" textLength="13.4" lengthAdjust="spacingAndGlyphs">0.3</text>
<text x="110.20" y="353.80" font-size="11.2" text-anchor="middle" fill="#222" textLength="103.6" lengthAdjust="spacingAndGlyphs">Mean FR (arb. units)</text>
<text x="108.00" y="363.90" font-size="11.2" text-anchor="middle" fill="#222" textLength="93.7" lengthAdjust="spacingAndGlyphs">low cue coherence</text>
<text x="0" y="0" font-size="11.2" text-anchor="middle" fill="#222" transform="translate(17.90,269.20) rotate(-90)" textLength="104.5" lengthAdjust="spacingAndGlyphs">Mean FR (arb. units)</text>
<text x="0" y="0" font-size="11.2" text-anchor="middle" fill="#222" transform="translate(28.30,271.20) rotate(-90)" textLength="98.5" lengthAdjust="spacingAndGlyphs">high cue coherence</text>
<rect x="87.90" y="191.00" width="42.00" height="15.50" rx="5.5" fill="#dfe6e8"/>
<text x="108.90" y="203.15" font-size="11.6" text-anchor="middle" fill="#222" textLength="25.4" lengthAdjust="spacingAndGlyphs">RDM</text>
<rect x="55.3" y="216.5" width="36.6" height="20.7" rx="2.2" fill="#fff" fill-opacity="0.85" stroke="#d9d9d9" stroke-width="1"/>
<polygon points="64.10,220.40 64.78,221.57 66.10,221.85 65.20,222.86 65.33,224.20 64.10,223.66 62.87,224.20 63.00,222.86 62.10,221.85 63.42,221.57" fill="#f5821f"/>
<text x="70.5" y="224.7" font-size="6.2" fill="#111">MD<tspan font-size="4.6" dy="1.2">1</tspan></text>
<polygon points="64.10,229.30 64.78,230.47 66.10,230.75 65.20,231.76 65.33,233.10 64.10,232.56 62.87,233.10 63.00,231.76 62.10,230.75 63.42,230.47" fill="#9467bd"/>
<text x="70.5" y="233.6" font-size="6.2" fill="#111">MD<tspan font-size="4.6" dy="1.2">2</tspan></text>
<polygon points="305.20,230.90 306.01,232.29 307.58,232.63 306.51,233.82 306.67,235.42 305.20,234.78 303.73,235.42 303.89,233.82 302.82,232.63 304.39,232.29" fill="#f5821f"/>
<polygon points="306.70,230.50 307.51,231.89 309.08,232.23 308.01,233.42 308.17,235.02 306.70,234.38 305.23,235.02 305.39,233.42 304.32,232.23 305.89,231.89" fill="#f5821f"/>
<polygon points="308.50,230.20 309.31,231.59 310.88,231.93 309.81,233.12 309.97,234.72 308.50,234.07 307.03,234.72 307.19,233.12 306.12,231.93 307.69,231.59" fill="#f5821f"/>
<polygon points="296.10,247.00 296.91,248.39 298.48,248.73 297.41,249.92 297.57,251.52 296.10,250.88 294.63,251.52 294.79,249.92 293.72,248.73 295.29,248.39" fill="#f5821f"/>
<polygon points="301.20,245.10 302.01,246.49 303.58,246.83 302.51,248.02 302.67,249.62 301.20,248.97 299.73,249.62 299.89,248.02 298.82,246.83 300.39,246.49" fill="#f5821f"/>
<polygon points="285.20,256.10 286.01,257.49 287.58,257.83 286.51,259.02 286.67,260.62 285.20,259.98 283.73,260.62 283.89,259.02 282.82,257.83 284.39,257.49" fill="#f5821f"/>
<polygon points="288.10,256.20 288.91,257.59 290.48,257.93 289.41,259.12 289.57,260.72 288.10,260.07 286.63,260.72 286.79,259.12 285.72,257.93 287.29,257.59" fill="#f5821f"/>
<polygon points="295.00,259.00 295.81,260.39 297.38,260.73 296.31,261.92 296.47,263.52 295.00,262.88 293.53,263.52 293.69,261.92 292.62,260.73 294.19,260.39" fill="#f5821f"/>
<polygon points="295.70,259.40 296.51,260.79 298.08,261.13 297.01,262.32 297.17,263.92 295.70,263.27 294.23,263.92 294.39,262.32 293.32,261.13 294.89,260.79" fill="#f5821f"/>
<polygon points="281.50,260.10 282.31,261.49 283.88,261.83 282.81,263.02 282.97,264.62 281.50,263.98 280.03,264.62 280.19,263.02 279.12,261.83 280.69,261.49" fill="#f5821f"/>
<polygon points="277.10,262.30 277.91,263.69 279.48,264.03 278.41,265.22 278.57,266.82 277.10,266.18 275.63,266.82 275.79,265.22 274.72,264.03 276.29,263.69" fill="#f5821f"/>
<polygon points="282.60,262.30 283.41,263.69 284.98,264.03 283.91,265.22 284.07,266.82 282.60,266.18 281.13,266.82 281.29,265.22 280.22,264.03 281.79,263.69" fill="#f5821f"/>
<polygon points="281.40,260.40 282.21,261.79 283.78,262.13 282.71,263.32 282.87,264.92 281.40,264.27 279.93,264.92 280.09,263.32 279.02,262.13 280.59,261.79" fill="#f5821f"/>
<polygon points="282.50,263.00 283.31,264.39 284.88,264.73 283.81,265.92 283.97,267.52 282.50,266.88 281.03,267.52 281.19,265.92 280.12,264.73 281.69,264.39" fill="#f5821f"/>
<polygon points="276.30,263.00 277.11,264.39 278.68,264.73 277.61,265.92 277.77,267.52 276.30,266.88 274.83,267.52 274.99,265.92 273.92,264.73 275.49,264.39" fill="#f5821f"/>
<polygon points="278.10,263.70 278.91,265.09 280.48,265.43 279.41,266.62 279.57,268.22 278.10,267.57 276.63,268.22 276.79,266.62 275.72,265.43 277.29,265.09" fill="#f5821f"/>
<polygon points="285.80,264.80 286.61,266.19 288.18,266.53 287.11,267.72 287.27,269.32 285.80,268.68 284.33,269.32 284.49,267.72 283.42,266.53 284.99,266.19" fill="#f5821f"/>
<polygon points="285.40,266.30 286.21,267.69 287.78,268.03 286.71,269.22 286.87,270.82 285.40,270.18 283.93,270.82 284.09,269.22 283.02,268.03 284.59,267.69" fill="#f5821f"/>
<polygon points="294.90,259.30 295.71,260.69 297.28,261.03 296.21,262.22 296.37,263.82 294.90,263.18 293.43,263.82 293.59,262.22 292.52,261.03 294.09,260.69" fill="#f5821f"/>
<polygon points="288.00,272.10 288.81,273.49 290.38,273.83 289.31,275.02 289.47,276.62 288.00,275.98 286.53,276.62 286.69,275.02 285.62,273.83 287.19,273.49" fill="#f5821f"/>
<polygon points="269.30,270.30 270.11,271.69 271.68,272.03 270.61,273.22 270.77,274.82 269.30,274.18 267.83,274.82 267.99,273.22 266.92,272.03 268.49,271.69" fill="#f5821f"/>
<polygon points="269.70,272.80 270.51,274.19 272.08,274.53 271.01,275.72 271.17,277.32 269.70,276.68 268.23,277.32 268.39,275.72 267.32,274.53 268.89,274.19" fill="#f5821f"/>
<polygon points="274.80,270.60 275.61,271.99 277.18,272.33 276.11,273.52 276.27,275.12 274.80,274.48 273.33,275.12 273.49,273.52 272.42,272.33 273.99,271.99" fill="#f5821f"/>
<polygon points="278.80,271.70 279.61,273.09 281.18,273.43 280.11,274.62 280.27,276.22 278.80,275.57 277.33,276.22 277.49,274.62 276.42,273.43 277.99,273.09" fill="#f5821f"/>
<polygon points="266.80,276.10 267.61,277.49 269.18,277.83 268.11,279.02 268.27,280.62 266.80,279.98 265.33,280.62 265.49,279.02 264.42,277.83 265.99,277.49" fill="#f5821f"/>
<polygon points="268.20,277.20 269.01,278.59 270.58,278.93 269.51,280.12 269.67,281.72 268.20,281.07 266.73,281.72 266.89,280.12 265.82,278.93 267.39,278.59" fill="#f5821f"/>
<polygon points="279.60,275.70 280.41,277.09 281.98,277.43 280.91,278.62 281.07,280.22 279.60,279.57 278.13,280.22 278.29,278.62 277.22,277.43 278.79,277.09" fill="#f5821f"/>
<polygon points="258.80,280.90 259.61,282.29 261.18,282.63 260.11,283.82 260.27,285.42 258.80,284.77 257.33,285.42 257.49,283.82 256.42,282.63 257.99,282.29" fill="#f5821f"/>
<polygon points="265.00,280.10 265.81,281.49 267.38,281.83 266.31,283.02 266.47,284.62 265.00,283.98 263.53,284.62 263.69,283.02 262.62,281.83 264.19,281.49" fill="#f5821f"/>
<polygon points="273.70,278.70 274.51,280.09 276.08,280.43 275.01,281.62 275.17,283.22 273.70,282.57 272.23,283.22 272.39,281.62 271.32,280.43 272.89,280.09" fill="#f5821f"/>
<polygon points="273.40,281.60 274.21,282.99 275.78,283.33 274.71,284.52 274.87,286.12 273.40,285.48 271.93,286.12 272.09,284.52 271.02,283.33 272.59,282.99" fill="#f5821f"/>
<polygon points="261.70,283.80 262.51,285.19 264.08,285.53 263.01,286.72 263.17,288.32 261.70,287.68 260.23,288.32 260.39,286.72 259.32,285.53 260.89,285.19" fill="#f5821f"/>
<polygon points="262.40,284.90 263.21,286.29 264.78,286.63 263.71,287.82 263.87,289.42 262.40,288.77 260.93,289.42 261.09,287.82 260.02,286.63 261.59,286.29" fill="#f5821f"/>
<polygon points="253.60,287.10 254.41,288.49 255.98,288.83 254.91,290.02 255.07,291.62 253.60,290.98 252.13,291.62 252.29,290.02 251.22,288.83 252.79,288.49" fill="#f5821f"/>
<polygon points="254.40,288.90 255.21,290.29 256.78,290.63 255.71,291.82 255.87,293.42 254.40,292.77 252.93,293.42 253.09,291.82 252.02,290.63 253.59,290.29" fill="#f5821f"/>
<polygon points="258.00,287.40 258.81,288.79 260.38,289.13 259.31,290.32 259.47,291.92 258.00,291.27 256.53,291.92 256.69,290.32 255.62,289.13 257.19,288.79" fill="#f5821f"/>
<polygon points="264.60,286.70 265.41,288.09 266.98,288.43 265.91,289.62 266.07,291.22 264.60,290.57 263.13,291.22 263.29,289.62 262.22,288.43 263.79,288.09" fill="#f5821f"/>
<polygon points="250.70,291.80 251.51,293.19 253.08,293.53 252.01,294.72 252.17,296.32 250.70,295.68 249.23,296.32 249.39,294.72 248.32,293.53 249.89,293.19" fill="#f5821f"/>
<polygon points="251.50,293.30 252.31,294.69 253.88,295.03 252.81,296.22 252.97,297.82 251.50,297.18 250.03,297.82 250.19,296.22 249.12,295.03 250.69,294.69" fill="#f5821f"/>
<polygon points="258.80,293.30 259.61,294.69 261.18,295.03 260.11,296.22 260.27,297.82 258.80,297.18 257.33,297.82 257.49,296.22 256.42,295.03 257.99,294.69" fill="#f5821f"/>
<polygon points="253.90,286.70 254.71,288.09 256.28,288.43 255.21,289.62 255.37,291.22 253.90,290.57 252.43,291.22 252.59,289.62 251.52,288.43 253.09,288.09" fill="#f5821f"/>
<polygon points="254.60,289.30 255.41,290.69 256.98,291.03 255.91,292.22 256.07,293.82 254.60,293.18 253.13,293.82 253.29,292.22 252.22,291.03 253.79,290.69" fill="#f5821f"/>
<polygon points="250.50,292.00 251.31,293.39 252.88,293.73 251.81,294.92 251.97,296.52 250.50,295.88 249.03,296.52 249.19,294.92 248.12,293.73 249.69,293.39" fill="#f5821f"/>
<polygon points="249.30,296.50 250.11,297.89 251.68,298.23 250.61,299.42 250.77,301.02 249.30,300.38 247.83,301.02 247.99,299.42 246.92,298.23 248.49,297.89" fill="#f5821f"/>
<polygon points="257.70,288.20 258.51,289.59 260.08,289.93 259.01,291.12 259.17,292.72 257.70,292.07 256.23,292.72 256.39,291.12 255.32,289.93 256.89,289.59" fill="#f5821f"/>
<polygon points="261.50,283.60 262.31,284.99 263.88,285.33 262.81,286.52 262.97,288.12 261.50,287.48 260.03,288.12 260.19,286.52 259.12,285.33 260.69,284.99" fill="#f5821f"/>
<polygon points="244.00,302.60 244.81,303.99 246.38,304.33 245.31,305.52 245.47,307.12 244.00,306.48 242.53,307.12 242.69,305.52 241.62,304.33 243.19,303.99" fill="#f5821f"/>
<polygon points="242.50,303.70 243.31,305.09 244.88,305.43 243.81,306.62 243.97,308.22 242.50,307.57 241.03,308.22 241.19,306.62 240.12,305.43 241.69,305.09" fill="#f5821f"/>
<polygon points="239.50,307.50 240.31,308.89 241.88,309.23 240.81,310.42 240.97,312.02 239.50,311.38 238.03,312.02 238.19,310.42 237.12,309.23 238.69,308.89" fill="#f5821f"/>
<polygon points="237.20,309.80 238.01,311.19 239.58,311.53 238.51,312.72 238.67,314.32 237.20,313.68 235.73,314.32 235.89,312.72 234.82,311.53 236.39,311.19" fill="#f5821f"/>
<polygon points="234.90,312.10 235.71,313.49 237.28,313.83 236.21,315.02 236.37,316.62 234.90,315.98 233.43,316.62 233.59,315.02 232.52,313.83 234.09,313.49" fill="#f5821f"/>
<polygon points="232.60,315.10 233.41,316.49 234.98,316.83 233.91,318.02 234.07,319.62 232.60,318.98 231.13,319.62 231.29,318.02 230.22,316.83 231.79,316.49" fill="#f5821f"/>
<polygon points="233.40,317.00 234.21,318.39 235.78,318.73 234.71,319.92 234.87,321.52 233.40,320.88 231.93,321.52 232.09,319.92 231.02,318.73 232.59,318.39" fill="#f5821f"/>
<polygon points="252.30,300.70 253.11,302.09 254.68,302.43 253.61,303.62 253.77,305.22 252.30,304.57 250.83,305.22 250.99,303.62 249.92,302.43 251.49,302.09" fill="#f5821f"/>
<polygon points="248.20,307.50 249.01,308.89 250.58,309.23 249.51,310.42 249.67,312.02 248.20,311.38 246.73,312.02 246.89,310.42 245.82,309.23 247.39,308.89" fill="#f5821f"/>
<polygon points="241.00,312.50 241.81,313.89 243.38,314.23 242.31,315.42 242.47,317.02 241.00,316.38 239.53,317.02 239.69,315.42 238.62,314.23 240.19,313.89" fill="#f5821f"/>
<polygon points="235.70,315.10 236.51,316.49 238.08,316.83 237.01,318.02 237.17,319.62 235.70,318.98 234.23,319.62 234.39,318.02 233.32,316.83 234.89,316.49" fill="#f5821f"/>
<polygon points="264.50,287.10 265.31,288.49 266.88,288.83 265.81,290.02 265.97,291.62 264.50,290.98 263.03,291.62 263.19,290.02 262.12,288.83 263.69,288.49" fill="#f5821f"/>
<polygon points="259.20,293.10 260.01,294.49 261.58,294.83 260.51,296.02 260.67,297.62 259.20,296.98 257.73,297.62 257.89,296.02 256.82,294.83 258.39,294.49" fill="#f5821f"/>
<polygon points="283.60,269.90 284.41,271.29 285.98,271.63 284.91,272.82 285.07,274.42 283.60,273.77 282.13,274.42 282.29,272.82 281.22,271.63 282.79,271.29" fill="#9467bd"/>
<polygon points="277.00,274.30 277.81,275.69 279.38,276.03 278.31,277.22 278.47,278.82 277.00,278.18 275.53,278.82 275.69,277.22 274.62,276.03 276.19,275.69" fill="#9467bd"/>
<polygon points="277.40,277.20 278.21,278.59 279.78,278.93 278.71,280.12 278.87,281.72 277.40,281.07 275.93,281.72 276.09,280.12 275.02,278.93 276.59,278.59" fill="#9467bd"/>
<polygon points="271.90,279.40 272.71,280.79 274.28,281.13 273.21,282.32 273.37,283.92 271.90,283.27 270.43,283.92 270.59,282.32 269.52,281.13 271.09,280.79" fill="#9467bd"/>
<polygon points="271.20,280.90 272.01,282.29 273.58,282.63 272.51,283.82 272.67,285.42 271.20,284.77 269.73,285.42 269.89,283.82 268.82,282.63 270.39,282.29" fill="#9467bd"/>
<polygon points="269.70,282.30 270.51,283.69 272.08,284.03 271.01,285.22 271.17,286.82 269.70,286.18 268.23,286.82 268.39,285.22 267.32,284.03 268.89,283.69" fill="#9467bd"/>
<polygon points="268.20,283.00 269.01,284.39 270.58,284.73 269.51,285.92 269.67,287.52 268.20,286.88 266.73,287.52 266.89,285.92 265.82,284.73 267.39,284.39" fill="#9467bd"/>
<polygon points="266.80,284.50 267.61,285.89 269.18,286.23 268.11,287.42 268.27,289.02 266.80,288.38 265.33,289.02 265.49,287.42 264.42,286.23 265.99,285.89" fill="#9467bd"/>
<polygon points="269.00,284.10 269.81,285.49 271.38,285.83 270.31,287.02 270.47,288.62 269.00,287.98 267.53,288.62 267.69,287.02 266.62,285.83 268.19,285.49" fill="#9467bd"/>
<polygon points="263.10,288.20 263.91,289.59 265.48,289.93 264.41,291.12 264.57,292.72 263.10,292.07 261.63,292.72 261.79,291.12 260.72,289.93 262.29,289.59" fill="#9467bd"/>
<polygon points="262.00,289.60 262.81,290.99 264.38,291.33 263.31,292.52 263.47,294.12 262.00,293.48 260.53,294.12 260.69,292.52 259.62,291.33 261.19,290.99" fill="#9467bd"/>
<polygon points="260.90,290.30 261.71,291.69 263.28,292.03 262.21,293.22 262.37,294.82 260.90,294.18 259.43,294.82 259.59,293.22 258.52,292.03 260.09,291.69" fill="#9467bd"/>
<polygon points="257.30,293.30 258.11,294.69 259.68,295.03 258.61,296.22 258.77,297.82 257.30,297.18 255.83,297.82 255.99,296.22 254.92,295.03 256.49,294.69" fill="#9467bd"/>
<polygon points="255.80,294.70 256.61,296.09 258.18,296.43 257.11,297.62 257.27,299.22 255.80,298.57 254.33,299.22 254.49,297.62 253.42,296.43 254.99,296.09" fill="#9467bd"/>
<polygon points="254.40,295.50 255.21,296.89 256.78,297.23 255.71,298.42 255.87,300.02 254.40,299.38 252.93,300.02 253.09,298.42 252.02,297.23 253.59,296.89" fill="#9467bd"/>
<polygon points="252.90,296.20 253.71,297.59 255.28,297.93 254.21,299.12 254.37,300.72 252.90,300.07 251.43,300.72 251.59,299.12 250.52,297.93 252.09,297.59" fill="#9467bd"/>
<polygon points="267.50,284.00 268.31,285.39 269.88,285.73 268.81,286.92 268.97,288.52 267.50,287.88 266.03,288.52 266.19,286.92 265.12,285.73 266.69,285.39" fill="#9467bd"/>
<polygon points="269.80,283.30 270.61,284.69 272.18,285.03 271.11,286.22 271.27,287.82 269.80,287.18 268.33,287.82 268.49,286.22 267.42,285.03 268.99,284.69" fill="#9467bd"/>
<polygon points="264.50,285.50 265.31,286.89 266.88,287.23 265.81,288.42 265.97,290.02 264.50,289.38 263.03,290.02 263.19,288.42 262.12,287.23 263.69,286.89" fill="#9467bd"/>
<polygon points="262.20,289.30 263.01,290.69 264.58,291.03 263.51,292.22 263.67,293.82 262.20,293.18 260.73,293.82 260.89,292.22 259.82,291.03 261.39,290.69" fill="#9467bd"/>
<polygon points="259.90,290.80 260.71,292.19 262.28,292.53 261.21,293.72 261.37,295.32 259.90,294.68 258.43,295.32 258.59,293.72 257.52,292.53 259.09,292.19" fill="#9467bd"/>
<polygon points="257.70,293.10 258.51,294.49 260.08,294.83 259.01,296.02 259.17,297.62 257.70,296.98 256.23,297.62 256.39,296.02 255.32,294.83 256.89,294.49" fill="#9467bd"/>
<polygon points="255.40,295.40 256.21,296.79 257.78,297.13 256.71,298.32 256.87,299.92 255.40,299.27 253.93,299.92 254.09,298.32 253.02,297.13 254.59,296.79" fill="#9467bd"/>
<polygon points="253.90,296.90 254.71,298.29 256.28,298.63 255.21,299.82 255.37,301.42 253.90,300.77 252.43,301.42 252.59,299.82 251.52,298.63 253.09,298.29" fill="#9467bd"/>
<polygon points="252.30,298.40 253.11,299.79 254.68,300.13 253.61,301.32 253.77,302.92 252.30,302.27 250.83,302.92 250.99,301.32 249.92,300.13 251.49,299.79" fill="#9467bd"/>
<polygon points="249.30,301.50 250.11,302.89 251.68,303.23 250.61,304.42 250.77,306.02 249.30,305.38 247.83,306.02 247.99,304.42 246.92,303.23 248.49,302.89" fill="#9467bd"/>
<polygon points="247.80,303.00 248.61,304.39 250.18,304.73 249.11,305.92 249.27,307.52 247.80,306.88 246.33,307.52 246.49,305.92 245.42,304.73 246.99,304.39" fill="#9467bd"/>
<polygon points="245.50,305.30 246.31,306.69 247.88,307.03 246.81,308.22 246.97,309.82 245.50,309.18 244.03,309.82 244.19,308.22 243.12,307.03 244.69,306.69" fill="#9467bd"/>
<polygon points="244.00,306.80 244.81,308.19 246.38,308.53 245.31,309.72 245.47,311.32 244.00,310.68 242.53,311.32 242.69,309.72 241.62,308.53 243.19,308.19" fill="#9467bd"/>
<polygon points="241.70,309.10 242.51,310.49 244.08,310.83 243.01,312.02 243.17,313.62 241.70,312.98 240.23,313.62 240.39,312.02 239.32,310.83 240.89,310.49" fill="#9467bd"/>
<polygon points="240.20,310.60 241.01,311.99 242.58,312.33 241.51,313.52 241.67,315.12 240.20,314.48 238.73,315.12 238.89,313.52 237.82,312.33 239.39,311.99" fill="#9467bd"/>
<polygon points="237.90,312.80 238.71,314.19 240.28,314.53 239.21,315.72 239.37,317.32 237.90,316.68 236.43,317.32 236.59,315.72 235.52,314.53 237.09,314.19" fill="#9467bd"/>
<polygon points="236.40,314.40 237.21,315.79 238.78,316.13 237.71,317.32 237.87,318.92 236.40,318.27 234.93,318.92 235.09,317.32 234.02,316.13 235.59,315.79" fill="#9467bd"/>
<polygon points="234.90,315.10 235.71,316.49 237.28,316.83 236.21,318.02 236.37,319.62 234.90,318.98 233.43,319.62 233.59,318.02 232.52,316.83 234.09,316.49" fill="#9467bd"/>
<line x1="222.31" y1="329.70" x2="337.60" y2="213.52" stroke="#8e8e8e" stroke-width="1.7"/>
<line x1="220.80" y1="213.20" x2="220.80" y2="329.70" stroke="#333" stroke-width="1.2" />
<line x1="220.20" y1="329.70" x2="337.60" y2="329.70" stroke="#333" stroke-width="1.2" />
<line x1="218.30" y1="221.20" x2="220.80" y2="221.20" stroke="#333" stroke-width="0.9" />
<text x="216.40" y="225.20" font-size="10.3" text-anchor="end" fill="#222" textLength="13.4" lengthAdjust="spacingAndGlyphs">1.5</text>
<line x1="218.30" y1="244.60" x2="220.80" y2="244.60" stroke="#333" stroke-width="0.9" />
<text x="216.40" y="248.60" font-size="10.3" text-anchor="end" fill="#222" textLength="13.4" lengthAdjust="spacingAndGlyphs">1.2</text>
<line x1="218.30" y1="268.00" x2="220.80" y2="268.00" stroke="#333" stroke-width="0.9" />
<text x="216.40" y="272.00" font-size="10.3" text-anchor="end" fill="#222" textLength="13.4" lengthAdjust="spacingAndGlyphs">0.9</text>
<line x1="218.30" y1="291.40" x2="220.80" y2="291.40" stroke="#333" stroke-width="0.9" />
<text x="216.40" y="295.40" font-size="10.3" text-anchor="end" fill="#222" textLength="13.4" lengthAdjust="spacingAndGlyphs">0.6</text>
<line x1="218.30" y1="314.80" x2="220.80" y2="314.80" stroke="#333" stroke-width="0.9" />
<text x="216.40" y="318.80" font-size="10.3" text-anchor="end" fill="#222" textLength="13.4" lengthAdjust="spacingAndGlyphs">0.3</text>
<line x1="329.98" y1="329.70" x2="329.98" y2="332.20" stroke="#333" stroke-width="0.9" />
<text x="329.98" y="342.30" font-size="10.3" text-anchor="middle" fill="#222" textLength="13.4" lengthAdjust="spacingAndGlyphs">1.5</text>
<line x1="306.76" y1="329.70" x2="306.76" y2="332.20" stroke="#333" stroke-width="0.9" />
<text x="306.76" y="342.30" font-size="10.3" text-anchor="middle" fill="#222" textLength="13.4" lengthAdjust="spacingAndGlyphs">1.2</text>
<line x1="283.54" y1="329.70" x2="283.54" y2="332.20" stroke="#333" stroke-width="0.9" />
<text x="283.54" y="342.30" font-size="10.3" text-anchor="middle" fill="#222" textLength="13.4" lengthAdjust="spacingAndGlyphs">0.9</text>
<line x1="260.32" y1="329.70" x2="260.32" y2="332.20" stroke="#333" stroke-width="0.9" />
<text x="260.32" y="342.30" font-size="10.3" text-anchor="middle" fill="#222" textLength="13.4" lengthAdjust="spacingAndGlyphs">0.6</text>
<line x1="237.10" y1="329.70" x2="237.10" y2="332.20" stroke="#333" stroke-width="0.9" />
<text x="237.10" y="342.30" font-size="10.3" text-anchor="middle" fill="#222" textLength="13.4" lengthAdjust="spacingAndGlyphs">0.3</text>
<text x="278.70" y="353.80" font-size="11.2" text-anchor="middle" fill="#222" textLength="103.6" lengthAdjust="spacingAndGlyphs">Mean FR (arb. units)</text>
<text x="276.70" y="363.90" font-size="11.2" text-anchor="middle" fill="#222" textLength="94.3" lengthAdjust="spacingAndGlyphs">low cue coherence</text>
<text x="0" y="0" font-size="11.2" text-anchor="middle" fill="#222" transform="translate(188.70,269.20) rotate(-90)" textLength="104.5" lengthAdjust="spacingAndGlyphs">Mean FR (arb. units)</text>
<text x="0" y="0" font-size="11.2" text-anchor="middle" fill="#222" transform="translate(198.80,271.20) rotate(-90)" textLength="98.5" lengthAdjust="spacingAndGlyphs">high cue coherence</text>
<rect x="262.20" y="191.00" width="41.30" height="15.50" rx="5.5" fill="#dfe6e8"/>
<text x="282.85" y="203.15" font-size="11.6" text-anchor="middle" fill="#222" textLength="23.6" lengthAdjust="spacingAndGlyphs">CAC</text>
<polygon points="436.80,262.10 437.61,263.49 439.18,263.83 438.11,265.02 438.27,266.62 436.80,265.98 435.33,266.62 435.49,265.02 434.42,263.83 435.99,263.49" fill="#f5821f"/>
<polygon points="435.90,263.90 436.71,265.29 438.28,265.63 437.21,266.82 437.37,268.42 435.90,267.77 434.43,268.42 434.59,266.82 433.52,265.63 435.09,265.29" fill="#f5821f"/>
<polygon points="416.60,270.50 417.41,271.89 418.98,272.23 417.91,273.42 418.07,275.02 416.60,274.38 415.13,275.02 415.29,273.42 414.22,272.23 415.79,271.89" fill="#f5821f"/>
<polygon points="436.80,273.10 437.61,274.49 439.18,274.83 438.11,276.02 438.27,277.62 436.80,276.98 435.33,277.62 435.49,276.02 434.42,274.83 435.99,274.49" fill="#f5821f"/>
<polygon points="457.80,271.90 458.61,273.29 460.18,273.63 459.11,274.82 459.27,276.42 457.80,275.77 456.33,276.42 456.49,274.82 455.42,273.63 456.99,273.29" fill="#f5821f"/>
<polygon points="423.00,278.10 423.81,279.49 425.38,279.83 424.31,281.02 424.47,282.62 423.00,281.98 421.53,282.62 421.69,281.02 420.62,279.83 422.19,279.49" fill="#f5821f"/>
<polygon points="420.10,279.80 420.91,281.19 422.48,281.53 421.41,282.72 421.57,284.32 420.10,283.68 418.63,284.32 418.79,282.72 417.72,281.53 419.29,281.19" fill="#f5821f"/>
<polygon points="411.20,281.60 412.01,282.99 413.58,283.33 412.51,284.52 412.67,286.12 411.20,285.48 409.73,286.12 409.89,284.52 408.82,283.33 410.39,282.99" fill="#f5821f"/>
<polygon points="425.40,284.00 426.21,285.39 427.78,285.73 426.71,286.92 426.87,288.52 425.40,287.88 423.93,288.52 424.09,286.92 423.02,285.73 424.59,285.39" fill="#f5821f"/>
<polygon points="426.30,287.10 427.11,288.49 428.68,288.83 427.61,290.02 427.77,291.62 426.30,290.98 424.83,291.62 424.99,290.02 423.92,288.83 425.49,288.49" fill="#f5821f"/>
<polygon points="449.90,280.50 450.71,281.89 452.28,282.23 451.21,283.42 451.37,285.02 449.90,284.38 448.43,285.02 448.59,283.42 447.52,282.23 449.09,281.89" fill="#f5821f"/>
<polygon points="456.50,283.20 457.31,284.59 458.88,284.93 457.81,286.12 457.97,287.72 456.50,287.07 455.03,287.72 455.19,286.12 454.12,284.93 455.69,284.59" fill="#f5821f"/>
<polygon points="458.70,281.40 459.51,282.79 461.08,283.13 460.01,284.32 460.17,285.92 458.70,285.27 457.23,285.92 457.39,284.32 456.32,283.13 457.89,282.79" fill="#f5821f"/>
<polygon points="444.20,288.00 445.01,289.39 446.58,289.73 445.51,290.92 445.67,292.52 444.20,291.88 442.73,292.52 442.89,290.92 441.82,289.73 443.39,289.39" fill="#f5821f"/>
<polygon points="453.40,289.30 454.21,290.69 455.78,291.03 454.71,292.22 454.87,293.82 453.40,293.18 451.93,293.82 452.09,292.22 451.02,291.03 452.59,290.69" fill="#f5821f"/>
<polygon points="410.10,290.20 410.91,291.59 412.48,291.93 411.41,293.12 411.57,294.72 410.10,294.07 408.63,294.72 408.79,293.12 407.72,291.93 409.29,291.59" fill="#f5821f"/>
<polygon points="417.50,290.60 418.31,291.99 419.88,292.33 418.81,293.52 418.97,295.12 417.50,294.48 416.03,295.12 416.19,293.52 415.12,292.33 416.69,291.99" fill="#f5821f"/>
<polygon points="421.00,291.00 421.81,292.39 423.38,292.73 422.31,293.92 422.47,295.52 421.00,294.88 419.53,295.52 419.69,293.92 418.62,292.73 420.19,292.39" fill="#f5821f"/>
<polygon points="459.10,287.50 459.91,288.89 461.48,289.23 460.41,290.42 460.57,292.02 459.10,291.38 457.63,292.02 457.79,290.42 456.72,289.23 458.29,288.89" fill="#f5821f"/>
<polygon points="458.10,272.00 458.91,273.39 460.48,273.73 459.41,274.92 459.57,276.52 458.10,275.88 456.63,276.52 456.79,274.92 455.72,273.73 457.29,273.39" fill="#f5821f"/>
<polygon points="491.30,272.00 492.11,273.39 493.68,273.73 492.61,274.92 492.77,276.52 491.30,275.88 489.83,276.52 489.99,274.92 488.92,273.73 490.49,273.39" fill="#f5821f"/>
<polygon points="506.50,266.70 507.31,268.09 508.88,268.43 507.81,269.62 507.97,271.22 506.50,270.57 505.03,271.22 505.19,269.62 504.12,268.43 505.69,268.09" fill="#f5821f"/>
<polygon points="503.30,272.80 504.11,274.19 505.68,274.53 504.61,275.72 504.77,277.32 503.30,276.68 501.83,277.32 501.99,275.72 500.92,274.53 502.49,274.19" fill="#f5821f"/>
<polygon points="485.20,272.00 486.01,273.39 487.58,273.73 486.51,274.92 486.67,276.52 485.20,275.88 483.73,276.52 483.89,274.92 482.82,273.73 484.39,273.39" fill="#f5821f"/>
<polygon points="456.80,282.90 457.61,284.29 459.18,284.63 458.11,285.82 458.27,287.42 456.80,286.77 455.33,287.42 455.49,285.82 454.42,284.63 455.99,284.29" fill="#f5821f"/>
<polygon points="459.80,281.10 460.61,282.49 462.18,282.83 461.11,284.02 461.27,285.62 459.80,284.98 458.33,285.62 458.49,284.02 457.42,282.83 458.99,282.49" fill="#f5821f"/>
<polygon points="460.30,282.90 461.11,284.29 462.68,284.63 461.61,285.82 461.77,287.42 460.30,286.77 458.83,287.42 458.99,285.82 457.92,284.63 459.49,284.29" fill="#f5821f"/>
<polygon points="463.30,283.80 464.11,285.19 465.68,285.53 464.61,286.72 464.77,288.32 463.30,287.68 461.83,288.32 461.99,286.72 460.92,285.53 462.49,285.19" fill="#f5821f"/>
<polygon points="464.60,284.20 465.41,285.59 466.98,285.93 465.91,287.12 466.07,288.72 464.60,288.07 463.13,288.72 463.29,287.12 462.22,285.93 463.79,285.59" fill="#f5821f"/>
<polygon points="470.80,283.10 471.61,284.49 473.18,284.83 472.11,286.02 472.27,287.62 470.80,286.98 469.33,287.62 469.49,286.02 468.42,284.83 469.99,284.49" fill="#f5821f"/>
<polygon points="459.40,287.70 460.21,289.09 461.78,289.43 460.71,290.62 460.87,292.22 459.40,291.57 457.93,292.22 458.09,290.62 457.02,289.43 458.59,289.09" fill="#f5821f"/>
<polygon points="461.60,289.50 462.41,290.89 463.98,291.23 462.91,292.42 463.07,294.02 461.60,293.38 460.13,294.02 460.29,292.42 459.22,291.23 460.79,290.89" fill="#f5821f"/>
<polygon points="462.90,291.20 463.71,292.59 465.28,292.93 464.21,294.12 464.37,295.72 462.90,295.07 461.43,295.72 461.59,294.12 460.52,292.93 462.09,292.59" fill="#f5821f"/>
<polygon points="464.60,289.90 465.41,291.29 466.98,291.63 465.91,292.82 466.07,294.42 464.60,293.77 463.13,294.42 463.29,292.82 462.22,291.63 463.79,291.29" fill="#f5821f"/>
<polygon points="465.50,289.50 466.31,290.89 467.88,291.23 466.81,292.42 466.97,294.02 465.50,293.38 464.03,294.02 464.19,292.42 463.12,291.23 464.69,290.89" fill="#f5821f"/>
<polygon points="462.40,292.50 463.21,293.89 464.78,294.23 463.71,295.42 463.87,297.02 462.40,296.38 460.93,297.02 461.09,295.42 460.02,294.23 461.59,293.89" fill="#f5821f"/>
<polygon points="469.90,288.00 470.71,289.39 472.28,289.73 471.21,290.92 471.37,292.52 469.90,291.88 468.43,292.52 468.59,290.92 467.52,289.73 469.09,289.39" fill="#f5821f"/>
<polygon points="473.80,289.20 474.61,290.59 476.18,290.93 475.11,292.12 475.27,293.72 473.80,293.07 472.33,293.72 472.49,292.12 471.42,290.93 472.99,290.59" fill="#f5821f"/>
<polygon points="455.40,294.30 456.21,295.69 457.78,296.03 456.71,297.22 456.87,298.82 455.40,298.18 453.93,298.82 454.09,297.22 453.02,296.03 454.59,295.69" fill="#f5821f"/>
<polygon points="410.10,290.10 410.91,291.49 412.48,291.83 411.41,293.02 411.57,294.62 410.10,293.98 408.63,294.62 408.79,293.02 407.72,291.83 409.29,291.49" fill="#f5821f"/>
<polygon points="406.10,294.90 406.91,296.29 408.48,296.63 407.41,297.82 407.57,299.42 406.10,298.77 404.63,299.42 404.79,297.82 403.72,296.63 405.29,296.29" fill="#f5821f"/>
<polygon points="408.80,296.30 409.61,297.69 411.18,298.03 410.11,299.22 410.27,300.82 408.80,300.18 407.33,300.82 407.49,299.22 406.42,298.03 407.99,297.69" fill="#f5821f"/>
<polygon points="409.60,298.90 410.41,300.29 411.98,300.63 410.91,301.82 411.07,303.42 409.60,302.77 408.13,303.42 408.29,301.82 407.22,300.63 408.79,300.29" fill="#f5821f"/>
<polygon points="408.80,301.50 409.61,302.89 411.18,303.23 410.11,304.42 410.27,306.02 408.80,305.38 407.33,306.02 407.49,304.42 406.42,303.23 407.99,302.89" fill="#f5821f"/>
<polygon points="408.30,303.70 409.11,305.09 410.68,305.43 409.61,306.62 409.77,308.22 408.30,307.57 406.83,308.22 406.99,306.62 405.92,305.43 407.49,305.09" fill="#f5821f"/>
<polygon points="411.40,300.60 412.21,301.99 413.78,302.33 412.71,303.52 412.87,305.12 411.40,304.48 409.93,305.12 410.09,303.52 409.02,302.33 410.59,301.99" fill="#f5821f"/>
<polygon points="417.50,291.00 418.31,292.39 419.88,292.73 418.81,293.92 418.97,295.52 417.50,294.88 416.03,295.52 416.19,293.92 415.12,292.73 416.69,292.39" fill="#f5821f"/>
<polygon points="421.00,291.90 421.81,293.29 423.38,293.63 422.31,294.82 422.47,296.42 421.00,295.77 419.53,296.42 419.69,294.82 418.62,293.63 420.19,293.29" fill="#f5821f"/>
<polygon points="413.10,293.60 413.91,294.99 415.48,295.33 414.41,296.52 414.57,298.12 413.10,297.48 411.63,298.12 411.79,296.52 410.72,295.33 412.29,294.99" fill="#f5821f"/>
<polygon points="416.20,304.60 417.01,305.99 418.58,306.33 417.51,307.52 417.67,309.12 416.20,308.48 414.73,309.12 414.89,307.52 413.82,306.33 415.39,305.99" fill="#f5821f"/>
<polygon points="415.80,306.80 416.61,308.19 418.18,308.53 417.11,309.72 417.27,311.32 415.80,310.68 414.33,311.32 414.49,309.72 413.42,308.53 414.99,308.19" fill="#f5821f"/>
<polygon points="421.00,307.60 421.81,308.99 423.38,309.33 422.31,310.52 422.47,312.12 421.00,311.48 419.53,312.12 419.69,310.52 418.62,309.33 420.19,308.99" fill="#f5821f"/>
<polygon points="421.90,309.40 422.71,310.79 424.28,311.13 423.21,312.32 423.37,313.92 421.90,313.27 420.43,313.92 420.59,312.32 419.52,311.13 421.09,310.79" fill="#f5821f"/>
<polygon points="410.50,307.60 411.31,308.99 412.88,309.33 411.81,310.52 411.97,312.12 410.50,311.48 409.03,312.12 409.19,310.52 408.12,309.33 409.69,308.99" fill="#f5821f"/>
<polygon points="407.90,313.80 408.71,315.19 410.28,315.53 409.21,316.72 409.37,318.32 407.90,317.68 406.43,318.32 406.59,316.72 405.52,315.53 407.09,315.19" fill="#f5821f"/>
<polygon points="409.60,312.90 410.41,314.29 411.98,314.63 410.91,315.82 411.07,317.42 409.60,316.77 408.13,317.42 408.29,315.82 407.22,314.63 408.79,314.29" fill="#f5821f"/>
<polygon points="411.40,314.70 412.21,316.09 413.78,316.43 412.71,317.62 412.87,319.22 411.40,318.57 409.93,319.22 410.09,317.62 409.02,316.43 410.59,316.09" fill="#f5821f"/>
<polygon points="408.80,316.00 409.61,317.39 411.18,317.73 410.11,318.92 410.27,320.52 408.80,319.88 407.33,320.52 407.49,318.92 406.42,317.73 407.99,317.39" fill="#f5821f"/>
<polygon points="412.30,313.80 413.11,315.19 414.68,315.53 413.61,316.72 413.77,318.32 412.30,317.68 410.83,318.32 410.99,316.72 409.92,315.53 411.49,315.19" fill="#f5821f"/>
<polygon points="425.40,297.10 426.21,298.49 427.78,298.83 426.71,300.02 426.87,301.62 425.40,300.98 423.93,301.62 424.09,300.02 423.02,298.83 424.59,298.49" fill="#f5821f"/>
<polygon points="428.90,301.50 429.71,302.89 431.28,303.23 430.21,304.42 430.37,306.02 428.90,305.38 427.43,306.02 427.59,304.42 426.52,303.23 428.09,302.89" fill="#f5821f"/>
<polygon points="432.80,305.90 433.61,307.29 435.18,307.63 434.11,308.82 434.27,310.42 432.80,309.77 431.33,310.42 431.49,308.82 430.42,307.63 431.99,307.29" fill="#f5821f"/>
<polygon points="432.40,298.90 433.21,300.29 434.78,300.63 433.71,301.82 433.87,303.42 432.40,302.77 430.93,303.42 431.09,301.82 430.02,300.63 431.59,300.29" fill="#f5821f"/>
<polygon points="435.00,298.00 435.81,299.39 437.38,299.73 436.31,300.92 436.47,302.52 435.00,301.88 433.53,302.52 433.69,300.92 432.62,299.73 434.19,299.39" fill="#f5821f"/>
<polygon points="436.80,297.10 437.61,298.49 439.18,298.83 438.11,300.02 438.27,301.62 436.80,300.98 435.33,301.62 435.49,300.02 434.42,298.83 435.99,298.49" fill="#f5821f"/>
<polygon points="441.20,296.30 442.01,297.69 443.58,298.03 442.51,299.22 442.67,300.82 441.20,300.18 439.73,300.82 439.89,299.22 438.82,298.03 440.39,297.69" fill="#f5821f"/>
<polygon points="442.90,289.30 443.71,290.69 445.28,291.03 444.21,292.22 444.37,293.82 442.90,293.18 441.43,293.82 441.59,292.22 440.52,291.03 442.09,290.69" fill="#f5821f"/>
<polygon points="443.80,288.40 444.61,289.79 446.18,290.13 445.11,291.32 445.27,292.92 443.80,292.27 442.33,292.92 442.49,291.32 441.42,290.13 442.99,289.79" fill="#f5821f"/>
<polygon points="447.70,294.10 448.51,295.49 450.08,295.83 449.01,297.02 449.17,298.62 447.70,297.98 446.23,298.62 446.39,297.02 445.32,295.83 446.89,295.49" fill="#f5821f"/>
<polygon points="448.20,296.30 449.01,297.69 450.58,298.03 449.51,299.22 449.67,300.82 448.20,300.18 446.73,300.82 446.89,299.22 445.82,298.03 447.39,297.69" fill="#f5821f"/>
<polygon points="453.00,301.10 453.81,302.49 455.38,302.83 454.31,304.02 454.47,305.62 453.00,304.98 451.53,305.62 451.69,304.02 450.62,302.83 452.19,302.49" fill="#f5821f"/>
<polygon points="454.70,294.90 455.51,296.29 457.08,296.63 456.01,297.82 456.17,299.42 454.70,298.77 453.23,299.42 453.39,297.82 452.32,296.63 453.89,296.29" fill="#f5821f"/>
<polygon points="454.30,289.70 455.11,291.09 456.68,291.43 455.61,292.62 455.77,294.22 454.30,293.57 452.83,294.22 452.99,292.62 451.92,291.43 453.49,291.09" fill="#f5821f"/>
<polygon points="459.60,288.40 460.41,289.79 461.98,290.13 460.91,291.32 461.07,292.92 459.60,292.27 458.13,292.92 458.29,291.32 457.22,290.13 458.79,289.79" fill="#f5821f"/>
<polygon points="426.30,288.40 427.11,289.79 428.68,290.13 427.61,291.32 427.77,292.92 426.30,292.27 424.83,292.92 424.99,291.32 423.92,290.13 425.49,289.79" fill="#f5821f"/>
<polygon points="405.50,293.50 406.31,294.89 407.88,295.23 406.81,296.42 406.97,298.02 405.50,297.38 404.03,298.02 404.19,296.42 403.12,295.23 404.69,294.89" fill="#f5821f"/>
<polygon points="407.00,297.50 407.81,298.89 409.38,299.23 408.31,300.42 408.47,302.02 407.00,301.38 405.53,302.02 405.69,300.42 404.62,299.23 406.19,298.89" fill="#f5821f"/>
<polygon points="406.50,300.50 407.31,301.89 408.88,302.23 407.81,303.42 407.97,305.02 406.50,304.38 405.03,305.02 405.19,303.42 404.12,302.23 405.69,301.89" fill="#f5821f"/>
<polygon points="410.00,303.50 410.81,304.89 412.38,305.23 411.31,306.42 411.47,308.02 410.00,307.38 408.53,308.02 408.69,306.42 407.62,305.23 409.19,304.89" fill="#f5821f"/>
<polygon points="413.00,294.50 413.81,295.89 415.38,296.23 414.31,297.42 414.47,299.02 413.00,298.38 411.53,299.02 411.69,297.42 410.62,296.23 412.19,295.89" fill="#f5821f"/>
<polygon points="418.00,300.50 418.81,301.89 420.38,302.23 419.31,303.42 419.47,305.02 418.00,304.38 416.53,305.02 416.69,303.42 415.62,302.23 417.19,301.89" fill="#f5821f"/>
<polygon points="420.00,303.50 420.81,304.89 422.38,305.23 421.31,306.42 421.47,308.02 420.00,307.38 418.53,308.02 418.69,306.42 417.62,305.23 419.19,304.89" fill="#f5821f"/>
<polygon points="423.00,305.50 423.81,306.89 425.38,307.23 424.31,308.42 424.47,310.02 423.00,309.38 421.53,310.02 421.69,308.42 420.62,307.23 422.19,306.89" fill="#f5821f"/>
<polygon points="426.00,300.50 426.81,301.89 428.38,302.23 427.31,303.42 427.47,305.02 426.00,304.38 424.53,305.02 424.69,303.42 423.62,302.23 425.19,301.89" fill="#f5821f"/>
<polygon points="430.00,297.50 430.81,298.89 432.38,299.23 431.31,300.42 431.47,302.02 430.00,301.38 428.53,302.02 428.69,300.42 427.62,299.23 429.19,298.89" fill="#f5821f"/>
<polygon points="434.00,294.50 434.81,295.89 436.38,296.23 435.31,297.42 435.47,299.02 434.00,298.38 432.53,299.02 432.69,297.42 431.62,296.23 433.19,295.89" fill="#f5821f"/>
<polygon points="417.00,309.50 417.81,310.89 419.38,311.23 418.31,312.42 418.47,314.02 417.00,313.38 415.53,314.02 415.69,312.42 414.62,311.23 416.19,310.89" fill="#f5821f"/>
<polygon points="413.00,315.50 413.81,316.89 415.38,317.23 414.31,318.42 414.47,320.02 413.00,319.38 411.53,320.02 411.69,318.42 410.62,317.23 412.19,316.89" fill="#f5821f"/>
<polygon points="409.00,317.50 409.81,318.89 411.38,319.23 410.31,320.42 410.47,322.02 409.00,321.38 407.53,322.02 407.69,320.42 406.62,319.23 408.19,318.89" fill="#f5821f"/>
<polygon points="411.00,310.50 411.81,311.89 413.38,312.23 412.31,313.42 412.47,315.02 411.00,314.38 409.53,315.02 409.69,313.42 408.62,312.23 410.19,311.89" fill="#f5821f"/>
<polygon points="435.00,274.80 435.81,276.19 437.38,276.53 436.31,277.72 436.47,279.32 435.00,278.68 433.53,279.32 433.69,277.72 432.62,276.53 434.19,276.19" fill="#9467bd"/>
<polygon points="426.70,281.20 427.51,282.59 429.08,282.93 428.01,284.12 428.17,285.72 426.70,285.07 425.23,285.72 425.39,284.12 424.32,282.93 425.89,282.59" fill="#9467bd"/>
<polygon points="428.00,283.20 428.81,284.59 430.38,284.93 429.31,286.12 429.47,287.72 428.00,287.07 426.53,287.72 426.69,286.12 425.62,284.93 427.19,284.59" fill="#9467bd"/>
<polygon points="422.60,283.00 423.41,284.39 424.98,284.73 423.91,285.92 424.07,287.52 422.60,286.88 421.13,287.52 421.29,285.92 420.22,284.73 421.79,284.39" fill="#9467bd"/>
<polygon points="429.80,287.40 430.61,288.79 432.18,289.13 431.11,290.32 431.27,291.92 429.80,291.27 428.33,291.92 428.49,290.32 427.42,289.13 428.99,288.79" fill="#9467bd"/>
<polygon points="421.70,288.20 422.51,289.59 424.08,289.93 423.01,291.12 423.17,292.72 421.70,292.07 420.23,292.72 420.39,291.12 419.32,289.93 420.89,289.59" fill="#9467bd"/>
<polygon points="438.10,283.90 438.91,285.29 440.48,285.63 439.41,286.82 439.57,288.42 438.10,287.77 436.63,288.42 436.79,286.82 435.72,285.63 437.29,285.29" fill="#9467bd"/>
<polygon points="440.30,285.80 441.11,287.19 442.68,287.53 441.61,288.72 441.77,290.32 440.30,289.68 438.83,290.32 438.99,288.72 437.92,287.53 439.49,287.19" fill="#9467bd"/>
<polygon points="443.80,285.10 444.61,286.49 446.18,286.83 445.11,288.02 445.27,289.62 443.80,288.98 442.33,289.62 442.49,288.02 441.42,286.83 442.99,286.49" fill="#9467bd"/>
<polygon points="447.30,282.10 448.11,283.49 449.68,283.83 448.61,285.02 448.77,286.62 447.30,285.98 445.83,286.62 445.99,285.02 444.92,283.83 446.49,283.49" fill="#9467bd"/>
<polygon points="453.00,278.80 453.81,280.19 455.38,280.53 454.31,281.72 454.47,283.32 453.00,282.68 451.53,283.32 451.69,281.72 450.62,280.53 452.19,280.19" fill="#9467bd"/>
<polygon points="453.60,283.20 454.41,284.59 455.98,284.93 454.91,286.12 455.07,287.72 453.60,287.07 452.13,287.72 452.29,286.12 451.22,284.93 452.79,284.59" fill="#9467bd"/>
<polygon points="441.20,288.80 442.01,290.19 443.58,290.53 442.51,291.72 442.67,293.32 441.20,292.68 439.73,293.32 439.89,291.72 438.82,290.53 440.39,290.19" fill="#9467bd"/>
<polygon points="438.50,289.30 439.31,290.69 440.88,291.03 439.81,292.22 439.97,293.82 438.50,293.18 437.03,293.82 437.19,292.22 436.12,291.03 437.69,290.69" fill="#9467bd"/>
<polygon points="451.70,291.00 452.51,292.39 454.08,292.73 453.01,293.92 453.17,295.52 451.70,294.88 450.23,295.52 450.39,293.92 449.32,292.73 450.89,292.39" fill="#9467bd"/>
<polygon points="485.50,272.40 486.31,273.79 487.88,274.13 486.81,275.32 486.97,276.92 485.50,276.27 484.03,276.92 484.19,275.32 483.12,274.13 484.69,273.79" fill="#9467bd"/>
<polygon points="421.90,288.40 422.71,289.79 424.28,290.13 423.21,291.32 423.37,292.92 421.90,292.27 420.43,292.92 420.59,291.32 419.52,290.13 421.09,289.79" fill="#9467bd"/>
<polygon points="429.80,288.40 430.61,289.79 432.18,290.13 431.11,291.32 431.27,292.92 429.80,292.27 428.33,292.92 428.49,291.32 427.42,290.13 428.99,289.79" fill="#9467bd"/>
<polygon points="414.00,296.30 414.81,297.69 416.38,298.03 415.31,299.22 415.47,300.82 414.00,300.18 412.53,300.82 412.69,299.22 411.62,298.03 413.19,297.69" fill="#9467bd"/>
<polygon points="415.80,298.00 416.61,299.39 418.18,299.73 417.11,300.92 417.27,302.52 415.80,301.88 414.33,302.52 414.49,300.92 413.42,299.73 414.99,299.39" fill="#9467bd"/>
<polygon points="417.50,298.90 418.31,300.29 419.88,300.63 418.81,301.82 418.97,303.42 417.50,302.77 416.03,303.42 416.19,301.82 415.12,300.63 416.69,300.29" fill="#9467bd"/>
<polygon points="414.90,300.60 415.71,301.99 417.28,302.33 416.21,303.52 416.37,305.12 414.90,304.48 413.43,305.12 413.59,303.52 412.52,302.33 414.09,301.99" fill="#9467bd"/>
<polygon points="416.60,301.50 417.41,302.89 418.98,303.23 417.91,304.42 418.07,306.02 416.60,305.38 415.13,306.02 415.29,304.42 414.22,303.23 415.79,302.89" fill="#9467bd"/>
<polygon points="414.00,303.70 414.81,305.09 416.38,305.43 415.31,306.62 415.47,308.22 414.00,307.57 412.53,308.22 412.69,306.62 411.62,305.43 413.19,305.09" fill="#9467bd"/>
<polygon points="417.50,303.70 418.31,305.09 419.88,305.43 418.81,306.62 418.97,308.22 417.50,307.57 416.03,308.22 416.19,306.62 415.12,305.43 416.69,305.09" fill="#9467bd"/>
<polygon points="415.80,305.00 416.61,306.39 418.18,306.73 417.11,307.92 417.27,309.52 415.80,308.88 414.33,309.52 414.49,307.92 413.42,306.73 414.99,306.39" fill="#9467bd"/>
<polygon points="413.10,306.80 413.91,308.19 415.48,308.53 414.41,309.72 414.57,311.32 413.10,310.68 411.63,311.32 411.79,309.72 410.72,308.53 412.29,308.19" fill="#9467bd"/>
<polygon points="410.50,309.00 411.31,310.39 412.88,310.73 411.81,311.92 411.97,313.52 410.50,312.88 409.03,313.52 409.19,311.92 408.12,310.73 409.69,310.39" fill="#9467bd"/>
<polygon points="408.80,309.40 409.61,310.79 411.18,311.13 410.11,312.32 410.27,313.92 408.80,313.27 407.33,313.92 407.49,312.32 406.42,311.13 407.99,310.79" fill="#9467bd"/>
<polygon points="413.10,309.40 413.91,310.79 415.48,311.13 414.41,312.32 414.57,313.92 413.10,313.27 411.63,313.92 411.79,312.32 410.72,311.13 412.29,310.79" fill="#9467bd"/>
<polygon points="415.80,310.30 416.61,311.69 418.18,312.03 417.11,313.22 417.27,314.82 415.80,314.18 414.33,314.82 414.49,313.22 413.42,312.03 414.99,311.69" fill="#9467bd"/>
<polygon points="417.50,310.70 418.31,312.09 419.88,312.43 418.81,313.62 418.97,315.22 417.50,314.57 416.03,315.22 416.19,313.62 415.12,312.43 416.69,312.09" fill="#9467bd"/>
<polygon points="414.00,311.10 414.81,312.49 416.38,312.83 415.31,314.02 415.47,315.62 414.00,314.98 412.53,315.62 412.69,314.02 411.62,312.83 413.19,312.49" fill="#9467bd"/>
<polygon points="421.90,294.10 422.71,295.49 424.28,295.83 423.21,297.02 423.37,298.62 421.90,297.98 420.43,298.62 420.59,297.02 419.52,295.83 421.09,295.49" fill="#9467bd"/>
<polygon points="422.80,296.70 423.61,298.09 425.18,298.43 424.11,299.62 424.27,301.22 422.80,300.57 421.33,301.22 421.49,299.62 420.42,298.43 421.99,298.09" fill="#9467bd"/>
<polygon points="428.00,292.80 428.81,294.19 430.38,294.53 429.31,295.72 429.47,297.32 428.00,296.68 426.53,297.32 426.69,295.72 425.62,294.53 427.19,294.19" fill="#9467bd"/>
<polygon points="430.70,291.90 431.51,293.29 433.08,293.63 432.01,294.82 432.17,296.42 430.70,295.77 429.23,296.42 429.39,294.82 428.32,293.63 429.89,293.29" fill="#9467bd"/>
<polygon points="432.40,296.30 433.21,297.69 434.78,298.03 433.71,299.22 433.87,300.82 432.40,300.18 430.93,300.82 431.09,299.22 430.02,298.03 431.59,297.69" fill="#9467bd"/>
<polygon points="429.80,297.10 430.61,298.49 432.18,298.83 431.11,300.02 431.27,301.62 429.80,300.98 428.33,301.62 428.49,300.02 427.42,298.83 428.99,298.49" fill="#9467bd"/>
<polygon points="427.20,298.90 428.01,300.29 429.58,300.63 428.51,301.82 428.67,303.42 427.20,302.77 425.73,303.42 425.89,301.82 424.82,300.63 426.39,300.29" fill="#9467bd"/>
<polygon points="428.90,304.60 429.71,305.99 431.28,306.33 430.21,307.52 430.37,309.12 428.90,308.48 427.43,309.12 427.59,307.52 426.52,306.33 428.09,305.99" fill="#9467bd"/>
<polygon points="430.20,303.70 431.01,305.09 432.58,305.43 431.51,306.62 431.67,308.22 430.20,307.57 428.73,308.22 428.89,306.62 427.82,305.43 429.39,305.09" fill="#9467bd"/>
<polygon points="438.10,294.50 438.91,295.89 440.48,296.23 439.41,297.42 439.57,299.02 438.10,298.38 436.63,299.02 436.79,297.42 435.72,296.23 437.29,295.89" fill="#9467bd"/>
<polygon points="443.80,294.90 444.61,296.29 446.18,296.63 445.11,297.82 445.27,299.42 443.80,298.77 442.33,299.42 442.49,297.82 441.42,296.63 442.99,296.29" fill="#9467bd"/>
<polygon points="451.70,291.40 452.51,292.79 454.08,293.13 453.01,294.32 453.17,295.92 451.70,295.27 450.23,295.92 450.39,294.32 449.32,293.13 450.89,292.79" fill="#9467bd"/>
<polygon points="440.30,288.80 441.11,290.19 442.68,290.53 441.61,291.72 441.77,293.32 440.30,292.68 438.83,293.32 438.99,291.72 437.92,290.53 439.49,290.19" fill="#9467bd"/>
<polygon points="438.50,287.90 439.31,289.29 440.88,289.63 439.81,290.82 439.97,292.42 438.50,291.77 437.03,292.42 437.19,290.82 436.12,289.63 437.69,289.29" fill="#9467bd"/>
<line x1="399.87" y1="329.70" x2="515.79" y2="213.20" stroke="#8e8e8e" stroke-width="1.7"/>
<line x1="398.80" y1="213.20" x2="398.80" y2="329.70" stroke="#333" stroke-width="1.2" />
<line x1="398.20" y1="329.70" x2="516.00" y2="329.70" stroke="#333" stroke-width="1.2" />
<line x1="396.30" y1="219.60" x2="398.80" y2="219.60" stroke="#333" stroke-width="0.9" />
<text x="394.40" y="223.60" font-size="10.3" text-anchor="end" fill="#222" textLength="13.4" lengthAdjust="spacingAndGlyphs">1.9</text>
<line x1="396.30" y1="243.60" x2="398.80" y2="243.60" stroke="#333" stroke-width="0.9" />
<text x="394.40" y="247.60" font-size="10.3" text-anchor="end" fill="#222" textLength="13.4" lengthAdjust="spacingAndGlyphs">1.5</text>
<line x1="396.30" y1="267.60" x2="398.80" y2="267.60" stroke="#333" stroke-width="0.9" />
<text x="394.40" y="271.60" font-size="10.3" text-anchor="end" fill="#222" textLength="13.4" lengthAdjust="spacingAndGlyphs">1.1</text>
<line x1="396.30" y1="291.60" x2="398.80" y2="291.60" stroke="#333" stroke-width="0.9" />
<text x="394.40" y="295.60" font-size="10.3" text-anchor="end" fill="#222" textLength="13.4" lengthAdjust="spacingAndGlyphs">0.7</text>
<line x1="396.30" y1="315.60" x2="398.80" y2="315.60" stroke="#333" stroke-width="0.9" />
<text x="394.40" y="319.60" font-size="10.3" text-anchor="end" fill="#222" textLength="13.4" lengthAdjust="spacingAndGlyphs">0.3</text>
<line x1="509.42" y1="329.70" x2="509.42" y2="332.20" stroke="#333" stroke-width="0.9" />
<text x="509.42" y="342.30" font-size="10.3" text-anchor="middle" fill="#222" textLength="13.4" lengthAdjust="spacingAndGlyphs">1.9</text>
<line x1="485.54" y1="329.70" x2="485.54" y2="332.20" stroke="#333" stroke-width="0.9" />
<text x="485.54" y="342.30" font-size="10.3" text-anchor="middle" fill="#222" textLength="13.4" lengthAdjust="spacingAndGlyphs">1.5</text>
<line x1="461.66" y1="329.70" x2="461.66" y2="332.20" stroke="#333" stroke-width="0.9" />
<text x="461.66" y="342.30" font-size="10.3" text-anchor="middle" fill="#222" textLength="13.4" lengthAdjust="spacingAndGlyphs">1.1</text>
<line x1="437.78" y1="329.70" x2="437.78" y2="332.20" stroke="#333" stroke-width="0.9" />
<text x="437.78" y="342.30" font-size="10.3" text-anchor="middle" fill="#222" textLength="13.4" lengthAdjust="spacingAndGlyphs">0.7</text>
<line x1="413.90" y1="329.70" x2="413.90" y2="332.20" stroke="#333" stroke-width="0.9" />
<text x="413.90" y="342.30" font-size="10.3" text-anchor="middle" fill="#222" textLength="13.4" lengthAdjust="spacingAndGlyphs">0.3</text>
<text x="459.90" y="353.80" font-size="11.2" text-anchor="middle" fill="#222" textLength="103.6" lengthAdjust="spacingAndGlyphs">Mean FR (arb. units)</text>
<text x="458.20" y="363.90" font-size="11.2" text-anchor="middle" fill="#222" textLength="80.6" lengthAdjust="spacingAndGlyphs">low cue sparsity</text>
<text x="0" y="0" font-size="11.2" text-anchor="middle" fill="#222" transform="translate(366.10,269.20) rotate(-90)" textLength="104.5" lengthAdjust="spacingAndGlyphs">Mean FR (arb. units)</text>
<text x="0" y="0" font-size="11.2" text-anchor="middle" fill="#222" transform="translate(376.20,271.20) rotate(-90)" textLength="84.5" lengthAdjust="spacingAndGlyphs">high cue sparsity</text>
<rect x="438.70" y="191.00" width="42.00" height="15.50" rx="5.5" fill="#dfe6e8"/>
<text x="459.70" y="203.15" font-size="11.6" text-anchor="middle" fill="#222" textLength="25.4" lengthAdjust="spacingAndGlyphs">RDM</text>
<rect x="401.3" y="214.8" width="36.6" height="20.2" rx="2.2" fill="#fff" fill-opacity="0.85" stroke="#d9d9d9" stroke-width="1"/>
<polygon points="410.10,218.70 410.78,219.87 412.10,220.15 411.20,221.16 411.33,222.50 410.10,221.96 408.87,222.50 409.00,221.16 408.10,220.15 409.42,219.87" fill="#f5821f"/>
<text x="416.5" y="223.0" font-size="6.2" fill="#111">MD<tspan font-size="4.6" dy="1.2">1</tspan></text>
<polygon points="410.10,227.10 410.78,228.27 412.10,228.55 411.20,229.56 411.33,230.90 410.10,230.36 408.87,230.90 409.00,229.56 408.10,228.55 409.42,228.27" fill="#9467bd"/>
<text x="416.5" y="231.4" font-size="6.2" fill="#111">MD<tspan font-size="4.6" dy="1.2">2</tspan></text>
<polygon points="642.10,228.00 642.91,229.39 644.48,229.73 643.41,230.92 643.57,232.52 642.10,231.88 640.63,232.52 640.79,230.92 639.72,229.73 641.29,229.39" fill="#f5821f"/>
<polygon points="641.40,230.90 642.21,232.29 643.78,232.63 642.71,233.82 642.87,235.42 641.40,234.78 639.93,235.42 640.09,233.82 639.02,232.63 640.59,232.29" fill="#f5821f"/>
<polygon points="632.40,245.30 633.21,246.69 634.78,247.03 633.71,248.22 633.87,249.82 632.40,249.18 630.93,249.82 631.09,248.22 630.02,247.03 631.59,246.69" fill="#f5821f"/>
<polygon points="640.00,244.30 640.81,245.69 642.38,246.03 641.31,247.22 641.47,248.82 640.00,248.18 638.53,248.82 638.69,247.22 637.62,246.03 639.19,245.69" fill="#f5821f"/>
<polygon points="619.80,253.70 620.61,255.09 622.18,255.43 621.11,256.62 621.27,258.22 619.80,257.57 618.33,258.22 618.49,256.62 617.42,255.43 618.99,255.09" fill="#f5821f"/>
<polygon points="625.40,255.00 626.21,256.39 627.78,256.73 626.71,257.92 626.87,259.52 625.40,258.88 623.93,259.52 624.09,257.92 623.02,256.73 624.59,256.39" fill="#f5821f"/>
<polygon points="618.50,259.20 619.31,260.59 620.88,260.93 619.81,262.12 619.97,263.72 618.50,263.07 617.03,263.72 617.19,262.12 616.12,260.93 617.69,260.59" fill="#f5821f"/>
<polygon points="612.60,261.70 613.41,263.09 614.98,263.43 613.91,264.62 614.07,266.22 612.60,265.57 611.13,266.22 611.29,264.62 610.22,263.43 611.79,263.09" fill="#f5821f"/>
<polygon points="615.10,262.60 615.91,263.99 617.48,264.33 616.41,265.52 616.57,267.12 615.10,266.48 613.63,267.12 613.79,265.52 612.72,264.33 614.29,263.99" fill="#f5821f"/>
<polygon points="623.10,262.10 623.91,263.49 625.48,263.83 624.41,265.02 624.57,266.62 623.10,265.98 621.63,266.62 621.79,265.02 620.72,263.83 622.29,263.49" fill="#f5821f"/>
<polygon points="623.50,263.40 624.31,264.79 625.88,265.13 624.81,266.32 624.97,267.92 623.50,267.27 622.03,267.92 622.19,266.32 621.12,265.13 622.69,264.79" fill="#f5821f"/>
<polygon points="627.80,264.20 628.61,265.59 630.18,265.93 629.11,267.12 629.27,268.72 627.80,268.07 626.33,268.72 626.49,267.12 625.42,265.93 626.99,265.59" fill="#f5821f"/>
<polygon points="627.30,265.10 628.11,266.49 629.68,266.83 628.61,268.02 628.77,269.62 627.30,268.98 625.83,269.62 625.99,268.02 624.92,266.83 626.49,266.49" fill="#f5821f"/>
<polygon points="638.30,258.30 639.11,259.69 640.68,260.03 639.61,261.22 639.77,262.82 638.30,262.18 636.83,262.82 636.99,261.22 635.92,260.03 637.49,259.69" fill="#f5821f"/>
<polygon points="641.30,258.90 642.11,260.29 643.68,260.63 642.61,261.82 642.77,263.42 641.30,262.77 639.83,263.42 639.99,261.82 638.92,260.63 640.49,260.29" fill="#f5821f"/>
<polygon points="612.60,268.90 613.41,270.29 614.98,270.63 613.91,271.82 614.07,273.42 612.60,272.77 611.13,273.42 611.29,271.82 610.22,270.63 611.79,270.29" fill="#f5821f"/>
<polygon points="610.10,271.00 610.91,272.39 612.48,272.73 611.41,273.92 611.57,275.52 610.10,274.88 608.63,275.52 608.79,273.92 607.72,272.73 609.29,272.39" fill="#f5821f"/>
<polygon points="607.50,271.80 608.31,273.19 609.88,273.53 608.81,274.72 608.97,276.32 607.50,275.68 606.03,276.32 606.19,274.72 605.12,273.53 606.69,273.19" fill="#f5821f"/>
<polygon points="616.00,270.60 616.81,271.99 618.38,272.33 617.31,273.52 617.47,275.12 616.00,274.48 614.53,275.12 614.69,273.52 613.62,272.33 615.19,271.99" fill="#f5821f"/>
<polygon points="621.90,271.00 622.71,272.39 624.28,272.73 623.21,273.92 623.37,275.52 621.90,274.88 620.43,275.52 620.59,273.92 619.52,272.73 621.09,272.39" fill="#f5821f"/>
<polygon points="630.30,269.30 631.11,270.69 632.68,271.03 631.61,272.22 631.77,273.82 630.30,273.18 628.83,273.82 628.99,272.22 627.92,271.03 629.49,270.69" fill="#f5821f"/>
<polygon points="637.00,271.40 637.81,272.79 639.38,273.13 638.31,274.32 638.47,275.92 637.00,275.27 635.53,275.92 635.69,274.32 634.62,273.13 636.19,272.79" fill="#f5821f"/>
<polygon points="605.40,268.90 606.21,270.29 607.78,270.63 606.71,271.82 606.87,273.42 605.40,272.77 603.93,273.42 604.09,271.82 603.02,270.63 604.59,270.29" fill="#f5821f"/>
<polygon points="612.50,262.90 613.31,264.29 614.88,264.63 613.81,265.82 613.97,267.42 612.50,266.77 611.03,267.42 611.19,265.82 610.12,264.63 611.69,264.29" fill="#f5821f"/>
<polygon points="615.40,263.20 616.21,264.59 617.78,264.93 616.71,266.12 616.87,267.72 615.40,267.07 613.93,267.72 614.09,266.12 613.02,264.93 614.59,264.59" fill="#f5821f"/>
<polygon points="623.50,263.20 624.31,264.59 625.88,264.93 624.81,266.12 624.97,267.72 623.50,267.07 622.03,267.72 622.19,266.12 621.12,264.93 622.69,264.59" fill="#f5821f"/>
<polygon points="627.80,264.70 628.61,266.09 630.18,266.43 629.11,267.62 629.27,269.22 627.80,268.57 626.33,269.22 626.49,267.62 625.42,266.43 626.99,266.09" fill="#f5821f"/>
<polygon points="603.80,269.10 604.61,270.49 606.18,270.83 605.11,272.02 605.27,273.62 603.80,272.98 602.33,273.62 602.49,272.02 601.42,270.83 602.99,270.49" fill="#f5821f"/>
<polygon points="612.50,268.70 613.31,270.09 614.88,270.43 613.81,271.62 613.97,273.22 612.50,272.57 611.03,273.22 611.19,271.62 610.12,270.43 611.69,270.09" fill="#f5821f"/>
<polygon points="616.20,270.20 617.01,271.59 618.58,271.93 617.51,273.12 617.67,274.72 616.20,274.07 614.73,274.72 614.89,273.12 613.82,271.93 615.39,271.59" fill="#f5821f"/>
<polygon points="610.30,271.30 611.11,272.69 612.68,273.03 611.61,274.22 611.77,275.82 610.30,275.18 608.83,275.82 608.99,274.22 607.92,273.03 609.49,272.69" fill="#f5821f"/>
<polygon points="608.10,273.10 608.91,274.49 610.48,274.83 609.41,276.02 609.57,277.62 608.10,276.98 606.63,277.62 606.79,276.02 605.72,274.83 607.29,274.49" fill="#f5821f"/>
<polygon points="604.50,274.50 605.31,275.89 606.88,276.23 605.81,277.42 605.97,279.02 604.50,278.38 603.03,279.02 603.19,277.42 602.12,276.23 603.69,275.89" fill="#f5821f"/>
<polygon points="606.70,276.00 607.51,277.39 609.08,277.73 608.01,278.92 608.17,280.52 606.70,279.88 605.23,280.52 605.39,278.92 604.32,277.73 605.89,277.39" fill="#f5821f"/>
<polygon points="608.10,276.40 608.91,277.79 610.48,278.13 609.41,279.32 609.57,280.92 608.10,280.27 606.63,280.92 606.79,279.32 605.72,278.13 607.29,277.79" fill="#f5821f"/>
<polygon points="612.50,274.50 613.31,275.89 614.88,276.23 613.81,277.42 613.97,279.02 612.50,278.38 611.03,279.02 611.19,277.42 610.12,276.23 611.69,275.89" fill="#f5821f"/>
<polygon points="630.40,269.40 631.21,270.79 632.78,271.13 631.71,272.32 631.87,273.92 630.40,273.27 628.93,273.92 629.09,272.32 628.02,271.13 629.59,270.79" fill="#f5821f"/>
<polygon points="637.00,271.80 637.81,273.19 639.38,273.53 638.31,274.72 638.47,276.32 637.00,275.68 635.53,276.32 635.69,274.72 634.62,273.53 636.19,273.19" fill="#f5821f"/>
<polygon points="621.60,270.90 622.41,272.29 623.98,272.63 622.91,273.82 623.07,275.42 621.60,274.77 620.13,275.42 620.29,273.82 619.22,272.63 620.79,272.29" fill="#f5821f"/>
<polygon points="624.90,275.30 625.71,276.69 627.28,277.03 626.21,278.22 626.37,279.82 624.90,279.18 623.43,279.82 623.59,278.22 622.52,277.03 624.09,276.69" fill="#f5821f"/>
<polygon points="603.40,278.90 604.21,280.29 605.78,280.63 604.71,281.82 604.87,283.42 603.40,282.77 601.93,283.42 602.09,281.82 601.02,280.63 602.59,280.29" fill="#f5821f"/>
<polygon points="617.60,277.80 618.41,279.19 619.98,279.53 618.91,280.72 619.07,282.32 617.60,281.68 616.13,282.32 616.29,280.72 615.22,279.53 616.79,279.19" fill="#f5821f"/>
<polygon points="618.00,281.10 618.81,282.49 620.38,282.83 619.31,284.02 619.47,285.62 618.00,284.98 616.53,285.62 616.69,284.02 615.62,282.83 617.19,282.49" fill="#f5821f"/>
<polygon points="602.30,282.90 603.11,284.29 604.68,284.63 603.61,285.82 603.77,287.42 602.30,286.77 600.83,287.42 600.99,285.82 599.92,284.63 601.49,284.29" fill="#f5821f"/>
<polygon points="600.80,284.40 601.61,285.79 603.18,286.13 602.11,287.32 602.27,288.92 600.80,288.27 599.33,288.92 599.49,287.32 598.42,286.13 599.99,285.79" fill="#f5821f"/>
<polygon points="606.70,285.90 607.51,287.29 609.08,287.63 608.01,288.82 608.17,290.42 606.70,289.77 605.23,290.42 605.39,288.82 604.32,287.63 605.89,287.29" fill="#f5821f"/>
<polygon points="606.00,287.00 606.81,288.39 608.38,288.73 607.31,289.92 607.47,291.52 606.00,290.88 604.53,291.52 604.69,289.92 603.62,288.73 605.19,288.39" fill="#f5821f"/>
<polygon points="597.90,286.60 598.71,287.99 600.28,288.33 599.21,289.52 599.37,291.12 597.90,290.48 596.43,291.12 596.59,289.52 595.52,288.33 597.09,287.99" fill="#f5821f"/>
<polygon points="596.50,289.50 597.31,290.89 598.88,291.23 597.81,292.42 597.97,294.02 596.50,293.38 595.03,294.02 595.19,292.42 594.12,291.23 595.69,290.89" fill="#f5821f"/>
<polygon points="602.30,291.00 603.11,292.39 604.68,292.73 603.61,293.92 603.77,295.52 602.30,294.88 600.83,295.52 600.99,293.92 599.92,292.73 601.49,292.39" fill="#f5821f"/>
<polygon points="601.60,293.20 602.41,294.59 603.98,294.93 602.91,296.12 603.07,297.72 601.60,297.07 600.13,297.72 600.29,296.12 599.22,294.93 600.79,294.59" fill="#f5821f"/>
<polygon points="600.10,294.60 600.91,295.99 602.48,296.33 601.41,297.52 601.57,299.12 600.10,298.48 598.63,299.12 598.79,297.52 597.72,296.33 599.29,295.99" fill="#f5821f"/>
<polygon points="596.50,299.70 597.31,301.09 598.88,301.43 597.81,302.62 597.97,304.22 596.50,303.57 595.03,304.22 595.19,302.62 594.12,301.43 595.69,301.09" fill="#f5821f"/>
<polygon points="595.70,301.20 596.51,302.59 598.08,302.93 597.01,304.12 597.17,305.72 595.70,305.07 594.23,305.72 594.39,304.12 593.32,302.93 594.89,302.59" fill="#f5821f"/>
<polygon points="587.80,290.80 588.61,292.19 590.18,292.53 589.11,293.72 589.27,295.32 587.80,294.68 586.33,295.32 586.49,293.72 585.42,292.53 586.99,292.19" fill="#f5821f"/>
<polygon points="592.20,287.90 593.01,289.29 594.58,289.63 593.51,290.82 593.67,292.42 592.20,291.77 590.73,292.42 590.89,290.82 589.82,289.63 591.39,289.29" fill="#f5821f"/>
<polygon points="595.10,288.60 595.91,289.99 597.48,290.33 596.41,291.52 596.57,293.12 595.10,292.48 593.63,293.12 593.79,291.52 592.72,290.33 594.29,289.99" fill="#f5821f"/>
<polygon points="597.30,287.90 598.11,289.29 599.68,289.63 598.61,290.82 598.77,292.42 597.30,291.77 595.83,292.42 595.99,290.82 594.92,289.63 596.49,289.29" fill="#f5821f"/>
<polygon points="590.00,294.80 590.81,296.19 592.38,296.53 591.31,297.72 591.47,299.32 590.00,298.68 588.53,299.32 588.69,297.72 587.62,296.53 589.19,296.19" fill="#f5821f"/>
<polygon points="589.30,297.00 590.11,298.39 591.68,298.73 590.61,299.92 590.77,301.52 589.30,300.88 587.83,301.52 587.99,299.92 586.92,298.73 588.49,298.39" fill="#f5821f"/>
<polygon points="595.80,299.20 596.61,300.59 598.18,300.93 597.11,302.12 597.27,303.72 595.80,303.07 594.33,303.72 594.49,302.12 593.42,300.93 594.99,300.59" fill="#f5821f"/>
<polygon points="596.20,301.00 597.01,302.39 598.58,302.73 597.51,303.92 597.67,305.52 596.20,304.88 594.73,305.52 594.89,303.92 593.82,302.73 595.39,302.39" fill="#f5821f"/>
<polygon points="601.70,292.60 602.51,293.99 604.08,294.33 603.01,295.52 603.17,297.12 601.70,296.48 600.23,297.12 600.39,295.52 599.32,294.33 600.89,293.99" fill="#f5821f"/>
<polygon points="602.40,294.10 603.21,295.49 604.78,295.83 603.71,297.02 603.87,298.62 602.40,297.98 600.93,298.62 601.09,297.02 600.02,295.83 601.59,295.49" fill="#f5821f"/>
<polygon points="584.90,301.40 585.71,302.79 587.28,303.13 586.21,304.32 586.37,305.92 584.90,305.27 583.43,305.92 583.59,304.32 582.52,303.13 584.09,302.79" fill="#f5821f"/>
<polygon points="583.40,303.60 584.21,304.99 585.78,305.33 584.71,306.52 584.87,308.12 583.40,307.48 581.93,308.12 582.09,306.52 581.02,305.33 582.59,304.99" fill="#f5821f"/>
<polygon points="581.20,305.70 582.01,307.09 583.58,307.43 582.51,308.62 582.67,310.22 581.20,309.57 579.73,310.22 579.89,308.62 578.82,307.43 580.39,307.09" fill="#f5821f"/>
<polygon points="579.10,308.70 579.91,310.09 581.48,310.43 580.41,311.62 580.57,313.22 579.10,312.57 577.63,313.22 577.79,311.62 576.72,310.43 578.29,310.09" fill="#f5821f"/>
<polygon points="576.90,310.90 577.71,312.29 579.28,312.63 578.21,313.82 578.37,315.42 576.90,314.77 575.43,315.42 575.59,313.82 574.52,312.63 576.09,312.29" fill="#f5821f"/>
<polygon points="574.70,313.80 575.51,315.19 577.08,315.53 576.01,316.72 576.17,318.32 574.70,317.68 573.23,318.32 573.39,316.72 572.32,315.53 573.89,315.19" fill="#f5821f"/>
<polygon points="574.00,316.00 574.81,317.39 576.38,317.73 575.31,318.92 575.47,320.52 574.00,319.88 572.53,320.52 572.69,318.92 571.62,317.73 573.19,317.39" fill="#f5821f"/>
<polygon points="588.90,306.80 589.71,308.19 591.28,308.53 590.21,309.72 590.37,311.32 588.90,310.68 587.43,311.32 587.59,309.72 586.52,308.53 588.09,308.19" fill="#f5821f"/>
<polygon points="582.30,311.60 583.11,312.99 584.68,313.33 583.61,314.52 583.77,316.12 582.30,315.48 580.83,316.12 580.99,314.52 579.92,313.33 581.49,312.99" fill="#f5821f"/>
<polygon points="577.60,314.90 578.41,316.29 579.98,316.63 578.91,317.82 579.07,319.42 577.60,318.77 576.13,319.42 576.29,317.82 575.22,316.63 576.79,316.29" fill="#f5821f"/>
<polygon points="576.10,316.30 576.91,317.69 578.48,318.03 577.41,319.22 577.57,320.82 576.10,320.18 574.63,320.82 574.79,319.22 573.72,318.03 575.29,317.69" fill="#f5821f"/>
<polygon points="627.60,269.00 628.41,270.39 629.98,270.73 628.91,271.92 629.07,273.52 627.60,272.88 626.13,273.52 626.29,271.92 625.22,270.73 626.79,270.39" fill="#9467bd"/>
<polygon points="620.20,271.80 621.01,273.19 622.58,273.53 621.51,274.72 621.67,276.32 620.20,275.68 618.73,276.32 618.89,274.72 617.82,273.53 619.39,273.19" fill="#9467bd"/>
<polygon points="627.50,269.40 628.31,270.79 629.88,271.13 628.81,272.32 628.97,273.92 627.50,273.27 626.03,273.92 626.19,272.32 625.12,271.13 626.69,270.79" fill="#9467bd"/>
<polygon points="616.90,273.80 617.71,275.19 619.28,275.53 618.21,276.72 618.37,278.32 616.90,277.68 615.43,278.32 615.59,276.72 614.52,275.53 616.09,275.19" fill="#9467bd"/>
<polygon points="619.80,272.70 620.61,274.09 622.18,274.43 621.11,275.62 621.27,277.22 619.80,276.57 618.33,277.22 618.49,275.62 617.42,274.43 618.99,274.09" fill="#9467bd"/>
<polygon points="620.50,273.80 621.31,275.19 622.88,275.53 621.81,276.72 621.97,278.32 620.50,277.68 619.03,278.32 619.19,276.72 618.12,275.53 619.69,275.19" fill="#9467bd"/>
<polygon points="621.60,276.70 622.41,278.09 623.98,278.43 622.91,279.62 623.07,281.22 621.60,280.57 620.13,281.22 620.29,279.62 619.22,278.43 620.79,278.09" fill="#9467bd"/>
<polygon points="613.20,278.20 614.01,279.59 615.58,279.93 614.51,281.12 614.67,282.72 613.20,282.07 611.73,282.72 611.89,281.12 610.82,279.93 612.39,279.59" fill="#9467bd"/>
<polygon points="614.00,280.00 614.81,281.39 616.38,281.73 615.31,282.92 615.47,284.52 614.00,283.88 612.53,284.52 612.69,282.92 611.62,281.73 613.19,281.39" fill="#9467bd"/>
<polygon points="615.40,280.40 616.21,281.79 617.78,282.13 616.71,283.32 616.87,284.92 615.40,284.27 613.93,284.92 614.09,283.32 613.02,282.13 614.59,281.79" fill="#9467bd"/>
<polygon points="612.50,281.50 613.31,282.89 614.88,283.23 613.81,284.42 613.97,286.02 612.50,285.38 611.03,286.02 611.19,284.42 610.12,283.23 611.69,282.89" fill="#9467bd"/>
<polygon points="613.20,283.30 614.01,284.69 615.58,285.03 614.51,286.22 614.67,287.82 613.20,287.18 611.73,287.82 611.89,286.22 610.82,285.03 612.39,284.69" fill="#9467bd"/>
<polygon points="611.10,282.20 611.91,283.59 613.48,283.93 612.41,285.12 612.57,286.72 611.10,286.07 609.63,286.72 609.79,285.12 608.72,283.93 610.29,283.59" fill="#9467bd"/>
<polygon points="608.90,283.70 609.71,285.09 611.28,285.43 610.21,286.62 610.37,288.22 608.90,287.57 607.43,288.22 607.59,286.62 606.52,285.43 608.09,285.09" fill="#9467bd"/>
<polygon points="606.70,287.30 607.51,288.69 609.08,289.03 608.01,290.22 608.17,291.82 606.70,291.18 605.23,291.82 605.39,290.22 604.32,289.03 605.89,288.69" fill="#9467bd"/>
<polygon points="605.20,288.40 606.01,289.79 607.58,290.13 606.51,291.32 606.67,292.92 605.20,292.27 603.73,292.92 603.89,291.32 602.82,290.13 604.39,289.79" fill="#9467bd"/>
<polygon points="603.80,289.50 604.61,290.89 606.18,291.23 605.11,292.42 605.27,294.02 603.80,293.38 602.33,294.02 602.49,292.42 601.42,291.23 602.99,290.89" fill="#9467bd"/>
<polygon points="600.80,291.70 601.61,293.09 603.18,293.43 602.11,294.62 602.27,296.22 600.80,295.57 599.33,296.22 599.49,294.62 598.42,293.43 599.99,293.09" fill="#9467bd"/>
<polygon points="599.40,293.20 600.21,294.59 601.78,294.93 600.71,296.12 600.87,297.72 599.40,297.07 597.93,297.72 598.09,296.12 597.02,294.93 598.59,294.59" fill="#9467bd"/>
<polygon points="597.90,294.60 598.71,295.99 600.28,296.33 599.21,297.52 599.37,299.12 597.90,298.48 596.43,299.12 596.59,297.52 595.52,296.33 597.09,295.99" fill="#9467bd"/>
<polygon points="596.50,296.10 597.31,297.49 598.88,297.83 597.81,299.02 597.97,300.62 596.50,299.98 595.03,300.62 595.19,299.02 594.12,297.83 595.69,297.49" fill="#9467bd"/>
<polygon points="595.70,296.80 596.51,298.19 598.08,298.53 597.01,299.72 597.17,301.32 595.70,300.68 594.23,301.32 594.39,299.72 593.32,298.53 594.89,298.19" fill="#9467bd"/>
<polygon points="605.30,289.00 606.11,290.39 607.68,290.73 606.61,291.92 606.77,293.52 605.30,292.88 603.83,293.52 603.99,291.92 602.92,290.73 604.49,290.39" fill="#9467bd"/>
<polygon points="603.10,291.10 603.91,292.49 605.48,292.83 604.41,294.02 604.57,295.62 603.10,294.98 601.63,295.62 601.79,294.02 600.72,292.83 602.29,292.49" fill="#9467bd"/>
<polygon points="601.00,293.30 601.81,294.69 603.38,295.03 602.31,296.22 602.47,297.82 601.00,297.18 599.53,297.82 599.69,296.22 598.62,295.03 600.19,294.69" fill="#9467bd"/>
<polygon points="598.80,295.50 599.61,296.89 601.18,297.23 600.11,298.42 600.27,300.02 598.80,299.38 597.33,300.02 597.49,298.42 596.42,297.23 597.99,296.89" fill="#9467bd"/>
<polygon points="596.60,297.00 597.41,298.39 598.98,298.73 597.91,299.92 598.07,301.52 596.60,300.88 595.13,301.52 595.29,299.92 594.22,298.73 595.79,298.39" fill="#9467bd"/>
<polygon points="594.40,299.20 595.21,300.59 596.78,300.93 595.71,302.12 595.87,303.72 594.40,303.07 592.93,303.72 593.09,302.12 592.02,300.93 593.59,300.59" fill="#9467bd"/>
<polygon points="592.20,301.40 593.01,302.79 594.58,303.13 593.51,304.32 593.67,305.92 592.20,305.27 590.73,305.92 590.89,304.32 589.82,303.13 591.39,302.79" fill="#9467bd"/>
<polygon points="590.00,303.20 590.81,304.59 592.38,304.93 591.31,306.12 591.47,307.72 590.00,307.07 588.53,307.72 588.69,306.12 587.62,304.93 589.19,304.59" fill="#9467bd"/>
<polygon points="588.50,305.00 589.31,306.39 590.88,306.73 589.81,307.92 589.97,309.52 588.50,308.88 587.03,309.52 587.19,307.92 586.12,306.73 587.69,306.39" fill="#9467bd"/>
<polygon points="586.40,306.50 587.21,307.89 588.78,308.23 587.71,309.42 587.87,311.02 586.40,310.38 584.93,311.02 585.09,309.42 584.02,308.23 585.59,307.89" fill="#9467bd"/>
<polygon points="584.90,307.90 585.71,309.29 587.28,309.63 586.21,310.82 586.37,312.42 584.90,311.77 583.43,312.42 583.59,310.82 582.52,309.63 584.09,309.29" fill="#9467bd"/>
<polygon points="582.70,309.40 583.51,310.79 585.08,311.13 584.01,312.32 584.17,313.92 582.70,313.27 581.23,313.92 581.39,312.32 580.32,311.13 581.89,310.79" fill="#9467bd"/>
<polygon points="580.50,310.90 581.31,312.29 582.88,312.63 581.81,313.82 581.97,315.42 580.50,314.77 579.03,315.42 579.19,313.82 578.12,312.63 579.69,312.29" fill="#9467bd"/>
<polygon points="578.30,312.30 579.11,313.69 580.68,314.03 579.61,315.22 579.77,316.82 578.30,316.18 576.83,316.82 576.99,315.22 575.92,314.03 577.49,313.69" fill="#9467bd"/>
<polygon points="577.20,313.40 578.01,314.79 579.58,315.13 578.51,316.32 578.67,317.92 577.20,317.27 575.73,317.92 575.89,316.32 574.82,315.13 576.39,314.79" fill="#9467bd"/>
<polygon points="593.70,296.30 594.51,297.69 596.08,298.03 595.01,299.22 595.17,300.82 593.70,300.18 592.23,300.82 592.39,299.22 591.32,298.03 592.89,297.69" fill="#9467bd"/>
<polygon points="595.10,294.80 595.91,296.19 597.48,296.53 596.41,297.72 596.57,299.32 595.10,298.68 593.63,299.32 593.79,297.72 592.72,296.53 594.29,296.19" fill="#9467bd"/>
<line x1="562.62" y1="329.70" x2="678.22" y2="213.20" stroke="#8e8e8e" stroke-width="1.7"/>
<line x1="562.50" y1="213.20" x2="562.50" y2="329.70" stroke="#333" stroke-width="1.2" />
<line x1="561.90" y1="329.70" x2="679.00" y2="329.70" stroke="#333" stroke-width="1.2" />
<line x1="560.00" y1="220.70" x2="562.50" y2="220.70" stroke="#333" stroke-width="0.9" />
<text x="558.10" y="224.70" font-size="10.3" text-anchor="end" fill="#222" textLength="13.4" lengthAdjust="spacingAndGlyphs">1.5</text>
<line x1="560.00" y1="244.10" x2="562.50" y2="244.10" stroke="#333" stroke-width="0.9" />
<text x="558.10" y="248.10" font-size="10.3" text-anchor="end" fill="#222" textLength="13.4" lengthAdjust="spacingAndGlyphs">1.2</text>
<line x1="560.00" y1="267.50" x2="562.50" y2="267.50" stroke="#333" stroke-width="0.9" />
<text x="558.10" y="271.50" font-size="10.3" text-anchor="end" fill="#222" textLength="13.4" lengthAdjust="spacingAndGlyphs">0.9</text>
<line x1="560.00" y1="290.90" x2="562.50" y2="290.90" stroke="#333" stroke-width="0.9" />
<text x="558.10" y="294.90" font-size="10.3" text-anchor="end" fill="#222" textLength="13.4" lengthAdjust="spacingAndGlyphs">0.6</text>
<line x1="560.00" y1="314.30" x2="562.50" y2="314.30" stroke="#333" stroke-width="0.9" />
<text x="558.10" y="318.30" font-size="10.3" text-anchor="end" fill="#222" textLength="13.4" lengthAdjust="spacingAndGlyphs">0.3</text>
<line x1="670.78" y1="329.70" x2="670.78" y2="332.20" stroke="#333" stroke-width="0.9" />
<text x="670.78" y="342.30" font-size="10.3" text-anchor="middle" fill="#222" textLength="13.4" lengthAdjust="spacingAndGlyphs">1.5</text>
<line x1="647.56" y1="329.70" x2="647.56" y2="332.20" stroke="#333" stroke-width="0.9" />
<text x="647.56" y="342.30" font-size="10.3" text-anchor="middle" fill="#222" textLength="13.4" lengthAdjust="spacingAndGlyphs">1.2</text>
<line x1="624.34" y1="329.70" x2="624.34" y2="332.20" stroke="#333" stroke-width="0.9" />
<text x="624.34" y="342.30" font-size="10.3" text-anchor="middle" fill="#222" textLength="13.4" lengthAdjust="spacingAndGlyphs">0.9</text>
<line x1="601.12" y1="329.70" x2="601.12" y2="332.20" stroke="#333" stroke-width="0.9" />
<text x="601.12" y="342.30" font-size="10.3" text-anchor="middle" fill="#222" textLength="13.4" lengthAdjust="spacingAndGlyphs">0.6</text>
<line x1="577.90" y1="329.70" x2="577.90" y2="332.20" stroke="#333" stroke-width="0.9" />
<text x="577.90" y="342.30" font-size="10.3" text-anchor="middle" fill="#222" textLength="13.4" lengthAdjust="spacingAndGlyphs">0.3</text>
<text x="625.00" y="353.80" font-size="11.2" text-anchor="middle" fill="#222" textLength="103.6" lengthAdjust="spacingAndGlyphs">Mean FR (arb. units)</text>
<text x="622.50" y="363.90" font-size="11.2" text-anchor="middle" fill="#222" textLength="80.6" lengthAdjust="spacingAndGlyphs">low cue sparsity</text>
<text x="0" y="0" font-size="11.2" text-anchor="middle" fill="#222" transform="translate(531.10,269.20) rotate(-90)" textLength="104.5" lengthAdjust="spacingAndGlyphs">Mean FR (arb. units)</text>
<text x="0" y="0" font-size="11.2" text-anchor="middle" fill="#222" transform="translate(540.60,271.20) rotate(-90)" textLength="84.5" lengthAdjust="spacingAndGlyphs">high cue sparsity</text>
<rect x="602.40" y="191.00" width="41.10" height="15.50" rx="5.5" fill="#dfe6e8"/>
<text x="622.95" y="203.15" font-size="11.6" text-anchor="middle" fill="#222" textLength="23.6" lengthAdjust="spacingAndGlyphs">CAC</text>
<text x="-1.30" y="399.60" font-size="25" text-anchor="start" font-weight="bold" fill="#111" >e</text>
<text x="208.30" y="399.40" font-size="25" text-anchor="start" font-weight="bold" fill="#111" >f</text>
<text x="423.50" y="399.30" font-size="25" text-anchor="start" font-weight="bold" fill="#111" >g</text>
<rect x="93.10" y="399.80" width="41.80" height="16.00" rx="5.5" fill="#dfe6e8"/>
<text x="114.00" y="412.20" font-size="11.6" text-anchor="middle" fill="#222" textLength="25.4" lengthAdjust="spacingAndGlyphs">RDM</text>
<rect x="306.00" y="399.80" width="42.00" height="16.00" rx="5.5" fill="#dfe6e8"/>
<text x="327.00" y="412.20" font-size="11.6" text-anchor="middle" fill="#222" textLength="23.6" lengthAdjust="spacingAndGlyphs">CAC</text>
<rect x="489.80" y="399.60" width="42.30" height="16.20" rx="5.5" fill="#dfe6e8"/>
<text x="510.95" y="412.10" font-size="11.6" text-anchor="middle" fill="#222" textLength="25.4" lengthAdjust="spacingAndGlyphs">RDM</text>
<rect x="573.00" y="399.60" width="42.30" height="16.20" rx="5.5" fill="#dfe6e8"/>
<text x="594.15" y="412.10" font-size="11.6" text-anchor="middle" fill="#222" textLength="23.6" lengthAdjust="spacingAndGlyphs">CAC</text>
<rect x="49.90" y="486.70" width="14.90" height="74.50" fill="#bac9e2"/>
<rect x="64.80" y="487.90" width="14.90" height="73.30" fill="#a08066"/>
<rect x="79.70" y="461.90" width="15.00" height="99.30" fill="#29b572"/>
<rect x="150.00" y="498.20" width="14.90" height="63.00" fill="#bac9e2"/>
<rect x="164.90" y="470.20" width="15.00" height="91.00" fill="#a08066"/>
<rect x="179.90" y="464.40" width="15.00" height="96.80" fill="#29b572"/>
<line x1="57.35" y1="481.40" x2="57.35" y2="492.60" stroke="#111" stroke-width="2.3" />
<line x1="54.95" y1="481.40" x2="59.75" y2="481.40" stroke="#111" stroke-width="1.8" />
<line x1="54.95" y1="492.60" x2="59.75" y2="492.60" stroke="#111" stroke-width="1.8" />
<circle cx="57.35" cy="478.30" r="1.3" fill="#999" fill-opacity="0.45" stroke="#555" stroke-opacity="0.85" stroke-width="0.8"/>
<circle cx="57.35" cy="494.60" r="1.3" fill="#999" fill-opacity="0.45" stroke="#555" stroke-opacity="0.85" stroke-width="0.8"/>
<circle cx="57.35" cy="485.00" r="1.3" fill="#999" fill-opacity="0.45" stroke="#555" stroke-opacity="0.85" stroke-width="0.8"/>
<circle cx="57.35" cy="490.00" r="1.3" fill="#999" fill-opacity="0.45" stroke="#555" stroke-opacity="0.85" stroke-width="0.8"/>
<line x1="72.25" y1="483.30" x2="72.25" y2="492.60" stroke="#111" stroke-width="2.3" />
<line x1="69.85" y1="483.30" x2="74.65" y2="483.30" stroke="#111" stroke-width="1.8" />
<line x1="69.85" y1="492.60" x2="74.65" y2="492.60" stroke="#111" stroke-width="1.8" />
<circle cx="72.25" cy="480.80" r="1.3" fill="#999" fill-opacity="0.45" stroke="#555" stroke-opacity="0.85" stroke-width="0.8"/>
<circle cx="72.25" cy="482.50" r="1.3" fill="#999" fill-opacity="0.45" stroke="#555" stroke-opacity="0.85" stroke-width="0.8"/>
<circle cx="72.25" cy="495.80" r="1.3" fill="#999" fill-opacity="0.45" stroke="#555" stroke-opacity="0.85" stroke-width="0.8"/>
<circle cx="72.25" cy="489.00" r="1.3" fill="#999" fill-opacity="0.45" stroke="#555" stroke-opacity="0.85" stroke-width="0.8"/>
<line x1="87.20" y1="458.00" x2="87.20" y2="466.90" stroke="#111" stroke-width="2.3" />
<line x1="84.80" y1="458.00" x2="89.60" y2="458.00" stroke="#111" stroke-width="1.8" />
<line x1="84.80" y1="466.90" x2="89.60" y2="466.90" stroke="#111" stroke-width="1.8" />
<circle cx="87.20" cy="454.60" r="1.3" fill="#999" fill-opacity="0.45" stroke="#555" stroke-opacity="0.85" stroke-width="0.8"/>
<circle cx="87.20" cy="456.50" r="1.3" fill="#999" fill-opacity="0.45" stroke="#555" stroke-opacity="0.85" stroke-width="0.8"/>
<circle cx="87.20" cy="468.80" r="1.3" fill="#999" fill-opacity="0.45" stroke="#555" stroke-opacity="0.85" stroke-width="0.8"/>
<circle cx="87.20" cy="462.00" r="1.3" fill="#999" fill-opacity="0.45" stroke="#555" stroke-opacity="0.85" stroke-width="0.8"/>
<line x1="157.45" y1="492.70" x2="157.45" y2="502.10" stroke="#111" stroke-width="2.3" />
<line x1="155.05" y1="492.70" x2="159.85" y2="492.70" stroke="#111" stroke-width="1.8" />
<line x1="155.05" y1="502.10" x2="159.85" y2="502.10" stroke="#111" stroke-width="1.8" />
<circle cx="157.45" cy="490.50" r="1.3" fill="#999" fill-opacity="0.45" stroke="#555" stroke-opacity="0.85" stroke-width="0.8"/>
<circle cx="157.45" cy="504.80" r="1.3" fill="#999" fill-opacity="0.45" stroke="#555" stroke-opacity="0.85" stroke-width="0.8"/>
<circle cx="157.45" cy="496.00" r="1.3" fill="#999" fill-opacity="0.45" stroke="#555" stroke-opacity="0.85" stroke-width="0.8"/>
<line x1="172.40" y1="465.30" x2="172.40" y2="474.50" stroke="#111" stroke-width="2.3" />
<line x1="170.00" y1="465.30" x2="174.80" y2="465.30" stroke="#111" stroke-width="1.8" />
<line x1="170.00" y1="474.50" x2="174.80" y2="474.50" stroke="#111" stroke-width="1.8" />
<circle cx="172.40" cy="464.40" r="1.3" fill="#999" fill-opacity="0.45" stroke="#555" stroke-opacity="0.85" stroke-width="0.8"/>
<circle cx="172.40" cy="477.20" r="1.3" fill="#999" fill-opacity="0.45" stroke="#555" stroke-opacity="0.85" stroke-width="0.8"/>
<circle cx="172.40" cy="470.00" r="1.3" fill="#999" fill-opacity="0.45" stroke="#555" stroke-opacity="0.85" stroke-width="0.8"/>
<line x1="187.40" y1="460.70" x2="187.40" y2="469.40" stroke="#111" stroke-width="2.3" />
<line x1="185.00" y1="460.70" x2="189.80" y2="460.70" stroke="#111" stroke-width="1.8" />
<line x1="185.00" y1="469.40" x2="189.80" y2="469.40" stroke="#111" stroke-width="1.8" />
<circle cx="187.40" cy="457.40" r="1.3" fill="#999" fill-opacity="0.45" stroke="#555" stroke-opacity="0.85" stroke-width="0.8"/>
<circle cx="187.40" cy="469.50" r="1.3" fill="#999" fill-opacity="0.45" stroke="#555" stroke-opacity="0.85" stroke-width="0.8"/>
<circle cx="187.40" cy="464.00" r="1.3" fill="#999" fill-opacity="0.45" stroke="#555" stroke-opacity="0.85" stroke-width="0.8"/>
<line x1="42.50" y1="427.40" x2="42.50" y2="561.20" stroke="#333" stroke-width="1.15" />
<line x1="41.95" y1="561.20" x2="202.40" y2="561.20" stroke="#333" stroke-width="1.15" />
<line x1="39.50" y1="561.20" x2="42.50" y2="561.20" stroke="#333" stroke-width="0.9" />
<text x="36.60" y="565.10" font-size="10.8" text-anchor="end" fill="#222" textLength="15.6" lengthAdjust="spacingAndGlyphs">0.0</text>
<line x1="39.50" y1="534.44" x2="42.50" y2="534.44" stroke="#333" stroke-width="0.9" />
<text x="36.60" y="538.34" font-size="10.8" text-anchor="end" fill="#222" textLength="15.6" lengthAdjust="spacingAndGlyphs">0.2</text>
<line x1="39.50" y1="507.68" x2="42.50" y2="507.68" stroke="#333" stroke-width="0.9" />
<text x="36.60" y="511.58" font-size="10.8" text-anchor="end" fill="#222" textLength="15.6" lengthAdjust="spacingAndGlyphs">0.4</text>
<line x1="39.50" y1="480.92" x2="42.50" y2="480.92" stroke="#333" stroke-width="0.9" />
<text x="36.60" y="484.82" font-size="10.8" text-anchor="end" fill="#222" textLength="15.6" lengthAdjust="spacingAndGlyphs">0.6</text>
<line x1="39.50" y1="454.16" x2="42.50" y2="454.16" stroke="#333" stroke-width="0.9" />
<text x="36.60" y="458.06" font-size="10.8" text-anchor="end" fill="#222" textLength="15.6" lengthAdjust="spacingAndGlyphs">0.8</text>
<line x1="39.50" y1="427.40" x2="42.50" y2="427.40" stroke="#333" stroke-width="0.9" />
<text x="36.60" y="431.30" font-size="10.8" text-anchor="end" fill="#222" textLength="14.8" lengthAdjust="spacingAndGlyphs">1.0</text>
<text x="0" y="0" font-size="11.2" text-anchor="middle" fill="#222" transform="translate(14.20,491.50) rotate(-90)" textLength="130.5" lengthAdjust="spacingAndGlyphs">Frac. correct target choice</text>
<path d="M58.20,444.50 L58.20,440.20 L88.80,440.20 L88.80,444.50" fill="none" stroke="#333" stroke-width="1.1"/>
<text x="74.40" y="439.80" font-size="9.6" text-anchor="middle" fill="#1a1a1a" textLength="10.5" lengthAdjust="spacingAndGlyphs">***</text>
<path d="M58.20,472.80 L58.20,470.30 L73.60,470.30 L73.60,472.80" fill="none" stroke="#333" stroke-width="1.1"/>
<text x="65.90" y="466.60" font-size="8.4" text-anchor="middle" fill="#222" textLength="9.4" lengthAdjust="spacingAndGlyphs">ns</text>
<path d="M157.40,446.90 L157.40,442.80 L187.90,442.80 L187.90,446.90" fill="none" stroke="#333" stroke-width="1.1"/>
<text x="173.55" y="442.40" font-size="9.6" text-anchor="middle" fill="#1a1a1a" textLength="10.5" lengthAdjust="spacingAndGlyphs">***</text>
<path d="M157.40,459.90 L157.40,457.60 L172.60,457.60 L172.60,459.90" fill="none" stroke="#333" stroke-width="1.1"/>
<text x="165.90" y="457.80" font-size="9.6" text-anchor="middle" fill="#1a1a1a" textLength="10.5" lengthAdjust="spacingAndGlyphs">***</text>
<rect x="97.30" y="524.25" width="12.6" height="4.7" fill="#bac9e2"/>
<text x="112.70" y="529.20" font-size="8.3" fill="#222"><tspan textLength="31.6" lengthAdjust="spacingAndGlyphs">baseline</tspan></text>
<rect x="97.30" y="534.05" width="12.6" height="4.7" fill="#a08066"/>
<text x="112.70" y="539.00" font-size="8.3" fill="#222"><tspan textLength="31.4" lengthAdjust="spacingAndGlyphs">stim MD</tspan><tspan font-size="5.8" dy="1.6">2</tspan></text>
<rect x="97.30" y="543.85" width="12.6" height="4.7" fill="#29b572"/>
<text x="112.70" y="548.80" font-size="8.3" fill="#222"><tspan textLength="31.4" lengthAdjust="spacingAndGlyphs">stim MD</tspan><tspan font-size="5.8" dy="1.6">1</tspan></text>
<text x="52.00" y="572.20" font-size="10.8" text-anchor="start" fill="#222" >cue</text>
<text x="52.00" y="581.95" font-size="10.8" text-anchor="start" fill="#222" >coherence</text>
<text x="52.00" y="591.70" font-size="10.8" text-anchor="start" fill="#222" >0.2</text>
<text x="152.20" y="572.20" font-size="10.8" text-anchor="start" fill="#222" >cue</text>
<text x="152.20" y="581.95" font-size="10.8" text-anchor="start" fill="#222" >sparsity</text>
<text x="152.20" y="591.70" font-size="10.8" text-anchor="start" fill="#222" >0.85</text>
<rect x="260.20" y="501.00" width="15.10" height="60.20" fill="#bac9e2"/>
<rect x="275.30" y="496.30" width="15.10" height="64.90" fill="#a08066"/>
<rect x="290.40" y="477.00" width="15.20" height="84.20" fill="#29b572"/>
<rect x="360.80" y="498.60" width="15.10" height="62.60" fill="#bac9e2"/>
<rect x="375.90" y="453.90" width="15.00" height="107.30" fill="#a08066"/>
<rect x="390.90" y="459.10" width="14.90" height="102.10" fill="#29b572"/>
<line x1="267.75" y1="494.90" x2="267.75" y2="507.60" stroke="#111" stroke-width="2.3" />
<line x1="265.35" y1="494.90" x2="270.15" y2="494.90" stroke="#111" stroke-width="1.8" />
<line x1="265.35" y1="507.60" x2="270.15" y2="507.60" stroke="#111" stroke-width="1.8" />
<circle cx="267.75" cy="489.20" r="1.3" fill="#999" fill-opacity="0.45" stroke="#555" stroke-opacity="0.85" stroke-width="0.8"/>
<circle cx="267.75" cy="508.40" r="1.3" fill="#999" fill-opacity="0.45" stroke="#555" stroke-opacity="0.85" stroke-width="0.8"/>
<circle cx="267.75" cy="500.00" r="1.3" fill="#999" fill-opacity="0.45" stroke="#555" stroke-opacity="0.85" stroke-width="0.8"/>
<line x1="282.85" y1="490.60" x2="282.85" y2="501.50" stroke="#111" stroke-width="2.3" />
<line x1="280.45" y1="490.60" x2="285.25" y2="490.60" stroke="#111" stroke-width="1.8" />
<line x1="280.45" y1="501.50" x2="285.25" y2="501.50" stroke="#111" stroke-width="1.8" />
<circle cx="282.85" cy="487.60" r="1.3" fill="#999" fill-opacity="0.45" stroke="#555" stroke-opacity="0.85" stroke-width="0.8"/>
<circle cx="282.85" cy="505.60" r="1.3" fill="#999" fill-opacity="0.45" stroke="#555" stroke-opacity="0.85" stroke-width="0.8"/>
<circle cx="282.85" cy="495.00" r="1.3" fill="#999" fill-opacity="0.45" stroke="#555" stroke-opacity="0.85" stroke-width="0.8"/>
<line x1="298.00" y1="472.40" x2="298.00" y2="481.50" stroke="#111" stroke-width="2.3" />
<line x1="295.60" y1="472.40" x2="300.40" y2="472.40" stroke="#111" stroke-width="1.8" />
<line x1="295.60" y1="481.50" x2="300.40" y2="481.50" stroke="#111" stroke-width="1.8" />
<circle cx="298.00" cy="469.20" r="1.3" fill="#999" fill-opacity="0.45" stroke="#555" stroke-opacity="0.85" stroke-width="0.8"/>
<circle cx="298.00" cy="486.50" r="1.3" fill="#999" fill-opacity="0.45" stroke="#555" stroke-opacity="0.85" stroke-width="0.8"/>
<circle cx="298.00" cy="476.00" r="1.3" fill="#999" fill-opacity="0.45" stroke="#555" stroke-opacity="0.85" stroke-width="0.8"/>
<line x1="368.35" y1="494.30" x2="368.35" y2="503.90" stroke="#111" stroke-width="2.3" />
<line x1="365.95" y1="494.30" x2="370.75" y2="494.30" stroke="#111" stroke-width="1.8" />
<line x1="365.95" y1="503.90" x2="370.75" y2="503.90" stroke="#111" stroke-width="1.8" />
<circle cx="368.35" cy="491.60" r="1.3" fill="#999" fill-opacity="0.45" stroke="#555" stroke-opacity="0.85" stroke-width="0.8"/>
<circle cx="368.35" cy="504.70" r="1.3" fill="#999" fill-opacity="0.45" stroke="#555" stroke-opacity="0.85" stroke-width="0.8"/>
<circle cx="368.35" cy="498.00" r="1.3" fill="#999" fill-opacity="0.45" stroke="#555" stroke-opacity="0.85" stroke-width="0.8"/>
<line x1="383.40" y1="447.00" x2="383.40" y2="459.10" stroke="#111" stroke-width="2.3" />
<line x1="381.00" y1="447.00" x2="385.80" y2="447.00" stroke="#111" stroke-width="1.8" />
<line x1="381.00" y1="459.10" x2="385.80" y2="459.10" stroke="#111" stroke-width="1.8" />
<circle cx="383.40" cy="445.80" r="1.3" fill="#999" fill-opacity="0.45" stroke="#555" stroke-opacity="0.85" stroke-width="0.8"/>
<circle cx="383.40" cy="465.50" r="1.3" fill="#999" fill-opacity="0.45" stroke="#555" stroke-opacity="0.85" stroke-width="0.8"/>
<circle cx="383.40" cy="452.00" r="1.3" fill="#999" fill-opacity="0.45" stroke="#555" stroke-opacity="0.85" stroke-width="0.8"/>
<line x1="398.35" y1="455.90" x2="398.35" y2="462.30" stroke="#111" stroke-width="2.3" />
<line x1="395.95" y1="455.90" x2="400.75" y2="455.90" stroke="#111" stroke-width="1.8" />
<line x1="395.95" y1="462.30" x2="400.75" y2="462.30" stroke="#111" stroke-width="1.8" />
<circle cx="398.35" cy="455.00" r="1.3" fill="#999" fill-opacity="0.45" stroke="#555" stroke-opacity="0.85" stroke-width="0.8"/>
<circle cx="398.35" cy="463.10" r="1.3" fill="#999" fill-opacity="0.45" stroke="#555" stroke-opacity="0.85" stroke-width="0.8"/>
<circle cx="398.35" cy="459.00" r="1.3" fill="#999" fill-opacity="0.45" stroke="#555" stroke-opacity="0.85" stroke-width="0.8"/>
<line x1="253.60" y1="427.40" x2="253.60" y2="561.20" stroke="#333" stroke-width="1.15" />
<line x1="253.05" y1="561.20" x2="413.20" y2="561.20" stroke="#333" stroke-width="1.15" />
<line x1="250.60" y1="561.20" x2="253.60" y2="561.20" stroke="#333" stroke-width="0.9" />
<text x="247.70" y="565.10" font-size="10.8" text-anchor="end" fill="#222" textLength="15.6" lengthAdjust="spacingAndGlyphs">0.0</text>
<line x1="250.60" y1="534.44" x2="253.60" y2="534.44" stroke="#333" stroke-width="0.9" />
<text x="247.70" y="538.34" font-size="10.8" text-anchor="end" fill="#222" textLength="15.6" lengthAdjust="spacingAndGlyphs">0.2</text>
<line x1="250.60" y1="507.68" x2="253.60" y2="507.68" stroke="#333" stroke-width="0.9" />
<text x="247.70" y="511.58" font-size="10.8" text-anchor="end" fill="#222" textLength="15.6" lengthAdjust="spacingAndGlyphs">0.4</text>
<line x1="250.60" y1="480.92" x2="253.60" y2="480.92" stroke="#333" stroke-width="0.9" />
<text x="247.70" y="484.82" font-size="10.8" text-anchor="end" fill="#222" textLength="15.6" lengthAdjust="spacingAndGlyphs">0.6</text>
<line x1="250.60" y1="454.16" x2="253.60" y2="454.16" stroke="#333" stroke-width="0.9" />
<text x="247.70" y="458.06" font-size="10.8" text-anchor="end" fill="#222" textLength="15.6" lengthAdjust="spacingAndGlyphs">0.8</text>
<line x1="250.60" y1="427.40" x2="253.60" y2="427.40" stroke="#333" stroke-width="0.9" />
<text x="247.70" y="431.30" font-size="10.8" text-anchor="end" fill="#222" textLength="14.8" lengthAdjust="spacingAndGlyphs">1.0</text>
<text x="0" y="0" font-size="11.2" text-anchor="middle" fill="#222" transform="translate(223.80,492.50) rotate(-90)" textLength="130.5" lengthAdjust="spacingAndGlyphs">Frac. correct target choice</text>
<path d="M266.40,459.90 L266.40,456.20 L296.70,456.20 L296.70,459.90" fill="none" stroke="#333" stroke-width="1.1"/>
<text x="282.45" y="455.70" font-size="9.6" text-anchor="middle" fill="#1a1a1a" textLength="10.5" lengthAdjust="spacingAndGlyphs">***</text>
<path d="M267.10,482.50 L267.10,480.10 L282.80,480.10 L282.80,482.50" fill="none" stroke="#333" stroke-width="1.1"/>
<text x="274.95" y="477.20" font-size="8.4" text-anchor="middle" fill="#222" textLength="9.4" lengthAdjust="spacingAndGlyphs">ns</text>
<path d="M367.50,427.00 L367.50,423.30 L398.00,423.30 L398.00,427.00" fill="none" stroke="#333" stroke-width="1.1"/>
<text x="383.65" y="422.90" font-size="9.6" text-anchor="middle" fill="#1a1a1a" textLength="10.5" lengthAdjust="spacingAndGlyphs">***</text>
<path d="M367.50,442.60 L367.50,440.20 L383.10,440.20 L383.10,442.60" fill="none" stroke="#333" stroke-width="1.1"/>
<text x="376.20" y="439.70" font-size="9.6" text-anchor="middle" fill="#1a1a1a" textLength="10.5" lengthAdjust="spacingAndGlyphs">***</text>
<rect x="308.70" y="518.05" width="12.6" height="4.7" fill="#bac9e2"/>
<text x="324.10" y="523.00" font-size="8.3" fill="#222"><tspan textLength="31.6" lengthAdjust="spacingAndGlyphs">baseline</tspan></text>
<rect x="308.70" y="527.75" width="12.6" height="4.7" fill="#a08066"/>
<text x="324.10" y="532.70" font-size="8.3" fill="#222"><tspan textLength="31.4" lengthAdjust="spacingAndGlyphs">stim MD</tspan><tspan font-size="5.8" dy="1.6">2</tspan></text>
<rect x="308.70" y="537.45" width="12.6" height="4.7" fill="#29b572"/>
<text x="324.10" y="542.40" font-size="8.3" fill="#222"><tspan textLength="31.4" lengthAdjust="spacingAndGlyphs">stim MD</tspan><tspan font-size="5.8" dy="1.6">1</tspan></text>
<text x="262.00" y="572.20" font-size="10.8" text-anchor="start" fill="#222" >cue</text>
<text x="262.00" y="581.95" font-size="10.8" text-anchor="start" fill="#222" >congruence</text>
<text x="262.00" y="591.70" font-size="10.8" text-anchor="start" fill="#222" >0.55</text>
<text x="362.20" y="572.20" font-size="10.8" text-anchor="start" fill="#222" >cue</text>
<text x="362.20" y="581.95" font-size="10.8" text-anchor="start" fill="#222" >sparsity</text>
<text x="362.20" y="591.70" font-size="10.8" text-anchor="start" fill="#222" >0.85</text>
<rect x="484.60" y="496.10" width="15.20" height="65.10" fill="#bac9e2"/>
<rect x="499.80" y="497.50" width="15.20" height="63.70" fill="#a08066"/>
<rect x="515.00" y="492.30" width="15.10" height="68.90" fill="#29b572"/>
<rect x="530.10" y="485.00" width="15.20" height="76.20" fill="#fbbc80"/>
<rect x="569.10" y="495.70" width="15.20" height="65.50" fill="#bac9e2"/>
<rect x="584.30" y="495.20" width="15.20" height="66.00" fill="#a08066"/>
<rect x="599.50" y="493.10" width="15.10" height="68.10" fill="#29b572"/>
<rect x="614.60" y="462.30" width="15.20" height="98.90" fill="#fbbc80"/>
<line x1="492.20" y1="486.70" x2="492.20" y2="506.60" stroke="#111" stroke-width="2.3" />
<line x1="489.80" y1="486.70" x2="494.60" y2="486.70" stroke="#111" stroke-width="1.8" />
<line x1="489.80" y1="506.60" x2="494.60" y2="506.60" stroke="#111" stroke-width="1.8" />
<circle cx="492.20" cy="486.00" r="1.3" fill="#999" fill-opacity="0.45" stroke="#555" stroke-opacity="0.85" stroke-width="0.8"/>
<circle cx="492.20" cy="507.20" r="1.3" fill="#999" fill-opacity="0.45" stroke="#555" stroke-opacity="0.85" stroke-width="0.8"/>
<circle cx="492.20" cy="514.40" r="1.3" fill="#999" fill-opacity="0.45" stroke="#555" stroke-opacity="0.85" stroke-width="0.8"/>
<circle cx="492.20" cy="497.00" r="1.3" fill="#999" fill-opacity="0.45" stroke="#555" stroke-opacity="0.85" stroke-width="0.8"/>
<line x1="507.40" y1="488.70" x2="507.40" y2="505.50" stroke="#111" stroke-width="2.3" />
<line x1="505.00" y1="488.70" x2="509.80" y2="488.70" stroke="#111" stroke-width="1.8" />
<line x1="505.00" y1="505.50" x2="509.80" y2="505.50" stroke="#111" stroke-width="1.8" />
<circle cx="507.40" cy="484.60" r="1.3" fill="#999" fill-opacity="0.45" stroke="#555" stroke-opacity="0.85" stroke-width="0.8"/>
<circle cx="507.40" cy="486.70" r="1.3" fill="#999" fill-opacity="0.45" stroke="#555" stroke-opacity="0.85" stroke-width="0.8"/>
<circle cx="507.40" cy="508.00" r="1.3" fill="#999" fill-opacity="0.45" stroke="#555" stroke-opacity="0.85" stroke-width="0.8"/>
<circle cx="507.40" cy="496.00" r="1.3" fill="#999" fill-opacity="0.45" stroke="#555" stroke-opacity="0.85" stroke-width="0.8"/>
<line x1="522.55" y1="484.60" x2="522.55" y2="500.20" stroke="#111" stroke-width="2.3" />
<line x1="520.15" y1="484.60" x2="524.95" y2="484.60" stroke="#111" stroke-width="1.8" />
<line x1="520.15" y1="500.20" x2="524.95" y2="500.20" stroke="#111" stroke-width="1.8" />
<circle cx="522.55" cy="477.90" r="1.3" fill="#999" fill-opacity="0.45" stroke="#555" stroke-opacity="0.85" stroke-width="0.8"/>
<circle cx="522.55" cy="479.90" r="1.3" fill="#999" fill-opacity="0.45" stroke="#555" stroke-opacity="0.85" stroke-width="0.8"/>
<circle cx="522.55" cy="481.90" r="1.3" fill="#999" fill-opacity="0.45" stroke="#555" stroke-opacity="0.85" stroke-width="0.8"/>
<circle cx="522.55" cy="502.20" r="1.3" fill="#999" fill-opacity="0.45" stroke="#555" stroke-opacity="0.85" stroke-width="0.8"/>
<line x1="537.70" y1="478.30" x2="537.70" y2="492.10" stroke="#111" stroke-width="2.3" />
<line x1="535.30" y1="478.30" x2="540.10" y2="478.30" stroke="#111" stroke-width="1.8" />
<line x1="535.30" y1="492.10" x2="540.10" y2="492.10" stroke="#111" stroke-width="1.8" />
<circle cx="537.70" cy="472.10" r="1.3" fill="#999" fill-opacity="0.45" stroke="#555" stroke-opacity="0.85" stroke-width="0.8"/>
<circle cx="537.70" cy="476.50" r="1.3" fill="#999" fill-opacity="0.45" stroke="#555" stroke-opacity="0.85" stroke-width="0.8"/>
<circle cx="537.70" cy="492.70" r="1.3" fill="#999" fill-opacity="0.45" stroke="#555" stroke-opacity="0.85" stroke-width="0.8"/>
<line x1="576.70" y1="492.40" x2="576.70" y2="499.50" stroke="#111" stroke-width="2.3" />
<line x1="574.30" y1="492.40" x2="579.10" y2="492.40" stroke="#111" stroke-width="1.8" />
<line x1="574.30" y1="499.50" x2="579.10" y2="499.50" stroke="#111" stroke-width="1.8" />
<circle cx="576.70" cy="500.30" r="1.3" fill="#999" fill-opacity="0.45" stroke="#555" stroke-opacity="0.85" stroke-width="0.8"/>
<circle cx="576.70" cy="501.70" r="1.3" fill="#999" fill-opacity="0.45" stroke="#555" stroke-opacity="0.85" stroke-width="0.8"/>
<line x1="591.90" y1="491.20" x2="591.90" y2="498.80" stroke="#111" stroke-width="2.3" />
<line x1="589.50" y1="491.20" x2="594.30" y2="491.20" stroke="#111" stroke-width="1.8" />
<line x1="589.50" y1="498.80" x2="594.30" y2="498.80" stroke="#111" stroke-width="1.8" />
<circle cx="591.90" cy="488.80" r="1.3" fill="#999" fill-opacity="0.45" stroke="#555" stroke-opacity="0.85" stroke-width="0.8"/>
<circle cx="591.90" cy="501.70" r="1.3" fill="#999" fill-opacity="0.45" stroke="#555" stroke-opacity="0.85" stroke-width="0.8"/>
<line x1="607.05" y1="487.40" x2="607.05" y2="498.40" stroke="#111" stroke-width="2.3" />
<line x1="604.65" y1="487.40" x2="609.45" y2="487.40" stroke="#111" stroke-width="1.8" />
<line x1="604.65" y1="498.40" x2="609.45" y2="498.40" stroke="#111" stroke-width="1.8" />
<circle cx="607.05" cy="505.00" r="1.3" fill="#999" fill-opacity="0.45" stroke="#555" stroke-opacity="0.85" stroke-width="0.8"/>
<line x1="622.20" y1="455.50" x2="622.20" y2="470.20" stroke="#111" stroke-width="2.3" />
<line x1="619.80" y1="455.50" x2="624.60" y2="455.50" stroke="#111" stroke-width="1.8" />
<line x1="619.80" y1="470.20" x2="624.60" y2="470.20" stroke="#111" stroke-width="1.8" />
<circle cx="622.20" cy="446.50" r="1.3" fill="#999" fill-opacity="0.45" stroke="#555" stroke-opacity="0.85" stroke-width="0.8"/>
<circle cx="622.20" cy="459.80" r="1.3" fill="#999" fill-opacity="0.45" stroke="#555" stroke-opacity="0.85" stroke-width="0.8"/>
<circle cx="622.20" cy="470.90" r="1.3" fill="#999" fill-opacity="0.45" stroke="#555" stroke-opacity="0.85" stroke-width="0.8"/>
<line x1="477.00" y1="427.40" x2="477.00" y2="561.20" stroke="#333" stroke-width="1.15" />
<line x1="476.45" y1="561.20" x2="637.60" y2="561.20" stroke="#333" stroke-width="1.15" />
<line x1="474.00" y1="561.20" x2="477.00" y2="561.20" stroke="#333" stroke-width="0.9" />
<text x="471.10" y="565.10" font-size="10.8" text-anchor="end" fill="#222" textLength="15.6" lengthAdjust="spacingAndGlyphs">0.0</text>
<line x1="474.00" y1="534.44" x2="477.00" y2="534.44" stroke="#333" stroke-width="0.9" />
<text x="471.10" y="538.34" font-size="10.8" text-anchor="end" fill="#222" textLength="15.6" lengthAdjust="spacingAndGlyphs">0.2</text>
<line x1="474.00" y1="507.68" x2="477.00" y2="507.68" stroke="#333" stroke-width="0.9" />
<text x="471.10" y="511.58" font-size="10.8" text-anchor="end" fill="#222" textLength="15.6" lengthAdjust="spacingAndGlyphs">0.4</text>
<line x1="474.00" y1="480.92" x2="477.00" y2="480.92" stroke="#333" stroke-width="0.9" />
<text x="471.10" y="484.82" font-size="10.8" text-anchor="end" fill="#222" textLength="15.6" lengthAdjust="spacingAndGlyphs">0.6</text>
<line x1="474.00" y1="454.16" x2="477.00" y2="454.16" stroke="#333" stroke-width="0.9" />
<text x="471.10" y="458.06" font-size="10.8" text-anchor="end" fill="#222" textLength="15.6" lengthAdjust="spacingAndGlyphs">0.8</text>
<line x1="474.00" y1="427.40" x2="477.00" y2="427.40" stroke="#333" stroke-width="0.9" />
<text x="471.10" y="431.30" font-size="10.8" text-anchor="end" fill="#222" textLength="14.8" lengthAdjust="spacingAndGlyphs">1.0</text>
<text x="0" y="0" font-size="11.2" text-anchor="middle" fill="#222" transform="translate(447.80,492.50) rotate(-90)" textLength="130.5" lengthAdjust="spacingAndGlyphs">Frac. correct target choice</text>
<path d="M488.80,448.20 L488.80,444.60 L536.60,444.60 L536.60,448.20" fill="none" stroke="#333" stroke-width="1.1"/>
<text x="512.60" y="444.20" font-size="9.6" text-anchor="middle" fill="#1a1a1a" textLength="3.5" lengthAdjust="spacingAndGlyphs">*</text>
<path d="M488.80,465.30 L488.80,461.70 L519.10,461.70 L519.10,465.30" fill="none" stroke="#333" stroke-width="1.1"/>
<text x="502.90" y="458.70" font-size="8.4" text-anchor="middle" fill="#222" textLength="9.4" lengthAdjust="spacingAndGlyphs">ns</text>
<path d="M490.80,480.20 L490.80,477.90 L506.70,477.90 L506.70,480.20" fill="none" stroke="#333" stroke-width="1.1"/>
<text x="498.60" y="475.90" font-size="8.4" text-anchor="middle" fill="#222" textLength="9.4" lengthAdjust="spacingAndGlyphs">ns</text>
<path d="M572.50,440.50 L572.50,437.20 L620.70,437.20 L620.70,440.50" fill="none" stroke="#333" stroke-width="1.1"/>
<text x="597.50" y="436.80" font-size="9.6" text-anchor="middle" fill="#1a1a1a" textLength="10.5" lengthAdjust="spacingAndGlyphs">***</text>
<path d="M572.50,466.30 L572.50,463.40 L603.40,463.40 L603.40,466.30" fill="none" stroke="#333" stroke-width="1.1"/>
<text x="588.70" y="460.10" font-size="8.4" text-anchor="middle" fill="#222" textLength="9.4" lengthAdjust="spacingAndGlyphs">ns</text>
<path d="M572.90,478.30 L572.90,475.90 L590.50,475.90 L590.50,478.30" fill="none" stroke="#333" stroke-width="1.1"/>
<text x="581.90" y="474.20" font-size="8.4" text-anchor="middle" fill="#222" textLength="9.4" lengthAdjust="spacingAndGlyphs">ns</text>
<rect x="636.00" y="493.00" width="12.1" height="4.7" fill="#bac9e2"/>
<text x="650.30" y="497.75" font-size="8.3" fill="#222"><tspan textLength="31.6" lengthAdjust="spacingAndGlyphs">baseline</tspan></text>
<rect x="636.00" y="502.65" width="12.1" height="4.7" fill="#a08066"/>
<text x="650.30" y="507.40" font-size="8.3" fill="#222"><tspan textLength="31.4" lengthAdjust="spacingAndGlyphs">stim MD</tspan><tspan font-size="5.8" dy="1.6">2</tspan></text>
<rect x="636.00" y="512.30" width="12.1" height="4.7" fill="#29b572"/>
<text x="650.30" y="517.05" font-size="8.3" fill="#222"><tspan textLength="31.4" lengthAdjust="spacingAndGlyphs">stim MD</tspan><tspan font-size="5.8" dy="1.6">1</tspan></text>
<rect x="636.00" y="521.95" width="12.1" height="4.7" fill="#fbbc80"/>
<text x="650.30" y="526.70" font-size="8.3" fill="#222"><tspan textLength="36" lengthAdjust="spacingAndGlyphs">stim both</tspan></text>
<text x="487.40" y="571.90" font-size="10.8" text-anchor="start" fill="#222" >coherence 0.2</text>
<text x="487.40" y="581.80" font-size="10.8" text-anchor="start" fill="#222" >+ sparsity 0.8</text>
<text x="569.30" y="571.90" font-size="10.8" text-anchor="start" fill="#222" >congruence 0.6</text>
<text x="569.30" y="581.80" font-size="10.8" text-anchor="start" fill="#222" >+ sparsity 0.7</text>
</svg></body></html>
